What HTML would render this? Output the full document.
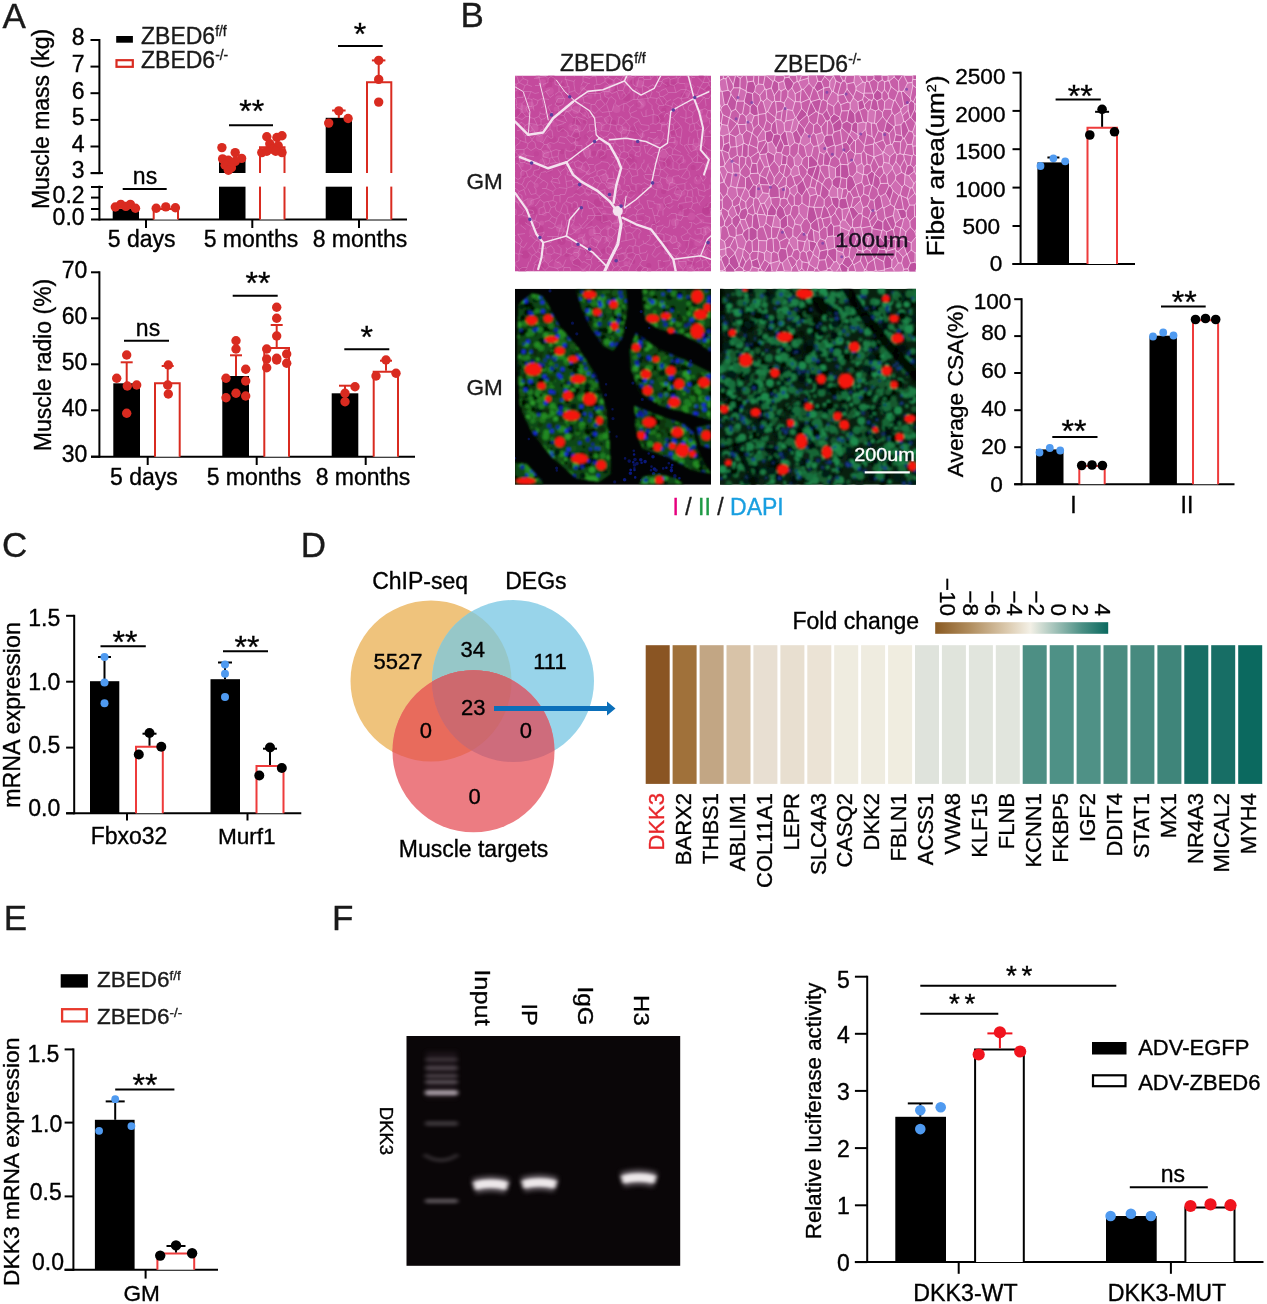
<!DOCTYPE html>
<html><head><meta charset="utf-8"><title>Figure</title>
<style>
html,body{margin:0;padding:0;background:#fff}
svg{display:block}
text{font-family:"Liberation Sans",sans-serif;stroke-width:.35px}
</style></head><body>
<svg width="1267" height="1304" viewBox="0 0 1267 1304">
<rect width="1267" height="1304" fill="#fff"/>
<text x="2.6" y="28.4" font-size="35" fill="#1a1a1a" stroke="#1a1a1a">A</text>
<line x1="99.4" y1="39.0" x2="99.4" y2="174.1" stroke="#000" stroke-width="2"/>
<line x1="90.5" y1="40.0" x2="99.4" y2="40.0" stroke="#000" stroke-width="2"/>
<text x="84.6" y="45.3" font-size="23" text-anchor="end" fill="#000" stroke="#000">8</text>
<line x1="90.5" y1="66.6" x2="99.4" y2="66.6" stroke="#000" stroke-width="2"/>
<text x="84.6" y="71.9" font-size="23" text-anchor="end" fill="#000" stroke="#000">7</text>
<line x1="90.5" y1="93.2" x2="99.4" y2="93.2" stroke="#000" stroke-width="2"/>
<text x="84.6" y="98.5" font-size="23" text-anchor="end" fill="#000" stroke="#000">6</text>
<line x1="90.5" y1="119.9" x2="99.4" y2="119.9" stroke="#000" stroke-width="2"/>
<text x="84.6" y="125.2" font-size="23" text-anchor="end" fill="#000" stroke="#000">5</text>
<line x1="90.5" y1="146.5" x2="99.4" y2="146.5" stroke="#000" stroke-width="2"/>
<text x="84.6" y="151.8" font-size="23" text-anchor="end" fill="#000" stroke="#000">4</text>
<line x1="90.5" y1="173.1" x2="99.4" y2="173.1" stroke="#000" stroke-width="2"/>
<text x="84.6" y="178.4" font-size="23" text-anchor="end" fill="#000" stroke="#000">3</text>
<line x1="99.4" y1="185.7" x2="99.4" y2="220.5" stroke="#000" stroke-width="2"/>
<line x1="91.0" y1="197.6" x2="99.4" y2="197.6" stroke="#000" stroke-width="2"/>
<line x1="91.0" y1="209.0" x2="99.4" y2="209.0" stroke="#000" stroke-width="2"/>
<line x1="91.0" y1="187.0" x2="103.0" y2="187.0" stroke="#000" stroke-width="2"/>
<line x1="91.0" y1="173.1" x2="103.0" y2="173.1" stroke="#000" stroke-width="2"/>
<text x="84.6" y="202.6" font-size="23" text-anchor="end" fill="#000" stroke="#000">0.2</text>
<text x="84.6" y="224.6" font-size="23" text-anchor="end" fill="#000" stroke="#000">0.0</text>
<line x1="91.0" y1="219.6" x2="407.0" y2="219.6" stroke="#000" stroke-width="2"/>
<line x1="146.0" y1="219.6" x2="146.0" y2="228.0" stroke="#000" stroke-width="2"/>
<line x1="252.3" y1="219.6" x2="252.3" y2="228.0" stroke="#000" stroke-width="2"/>
<line x1="359.0" y1="219.6" x2="359.0" y2="228.0" stroke="#000" stroke-width="2"/>
<text transform="translate(49.0,119.0) rotate(-90)" font-size="23" text-anchor="middle" fill="#000" stroke="#000">Muscle mass (kg)</text>
<text x="141.7" y="246.5" font-size="23" text-anchor="middle" fill="#000" stroke="#000">5 days</text>
<text x="251.0" y="246.5" font-size="23" text-anchor="middle" fill="#000" stroke="#000">5 months</text>
<text x="360.0" y="246.5" font-size="23" text-anchor="middle" fill="#000" stroke="#000">8 months</text>
<rect x="116.2" y="36.0" width="16.7" height="6.7" fill="#000"/>
<rect x="116.5" y="60.2" width="16.3" height="6.6" fill="#fff" stroke="#d92b20" stroke-width="2.2"/>
<text x="141.0" y="44.0" font-size="23" fill="#1a1a1a" stroke="#1a1a1a">ZBED6<tspan font-size="13.8" dy="-7.8">f/f</tspan></text>
<text x="141.0" y="67.5" font-size="23" fill="#1a1a1a" stroke="#1a1a1a">ZBED6<tspan font-size="13.8" dy="-7.8">-/-</tspan></text>
<rect x="112.7" y="209.0" width="26.3" height="10.6" fill="#000"/>
<path d="M153.7,219.6 V209.0 H178.0 V219.6" fill="#fff" stroke="#d92b20" stroke-width="2"/>
<rect x="219.0" y="160.0" width="26.5" height="13.0" fill="#000"/>
<rect x="219.0" y="186.7" width="26.5" height="32.9" fill="#000"/>
<path d="M260.0,173.0 V147.3 H284.5 V173.0" fill="#fff" stroke="#d92b20" stroke-width="2"/>
<path d="M260.0,219.6 V181.0 H284.5 V219.6" fill="#fff" stroke="#d92b20" stroke-width="2"/>
<rect x="257.0" y="173.2" width="31.0" height="13.4" fill="#fff"/>
<rect x="325.7" y="117.8" width="26.3" height="55.2" fill="#000"/>
<rect x="325.7" y="186.7" width="26.3" height="32.9" fill="#000"/>
<path d="M367.0,173.0 V82.3 H391.3 V173.0" fill="#fff" stroke="#d92b20" stroke-width="2"/>
<path d="M367.0,219.6 V181.0 H391.3 V219.6" fill="#fff" stroke="#d92b20" stroke-width="2"/>
<rect x="364.0" y="173.2" width="31.0" height="13.4" fill="#fff"/>
<line x1="378.7" y1="81.3" x2="378.7" y2="60.4" stroke="#d92b20" stroke-width="2"/>
<line x1="371.9" y1="60.4" x2="385.4" y2="60.4" stroke="#d92b20" stroke-width="2"/>
<line x1="338.8" y1="118.0" x2="338.8" y2="110.5" stroke="#d92b20" stroke-width="2"/>
<line x1="332.1" y1="110.5" x2="345.6" y2="110.5" stroke="#d92b20" stroke-width="2"/>
<circle cx="115.3" cy="207.0" r="4.7" fill="#d92b20"/>
<circle cx="120.8" cy="204.4" r="4.7" fill="#d92b20"/>
<circle cx="125.9" cy="206.4" r="4.7" fill="#d92b20"/>
<circle cx="130.4" cy="204.4" r="4.7" fill="#d92b20"/>
<circle cx="135.5" cy="208.2" r="4.7" fill="#d92b20"/>
<circle cx="156.2" cy="208.2" r="4.7" fill="#d92b20"/>
<circle cx="165.8" cy="206.9" r="4.7" fill="#d92b20"/>
<circle cx="175.4" cy="207.7" r="4.7" fill="#d92b20"/>
<circle cx="221.9" cy="147.6" r="4.7" fill="#d92b20"/>
<circle cx="235.2" cy="152.6" r="4.7" fill="#d92b20"/>
<circle cx="222.6" cy="158.9" r="4.7" fill="#d92b20"/>
<circle cx="228.4" cy="160.2" r="4.7" fill="#d92b20"/>
<circle cx="241.6" cy="158.4" r="4.7" fill="#d92b20"/>
<circle cx="235.2" cy="161.4" r="4.7" fill="#d92b20"/>
<circle cx="225.1" cy="165.2" r="4.7" fill="#d92b20"/>
<circle cx="231.4" cy="167.8" r="4.7" fill="#d92b20"/>
<circle cx="228.4" cy="170.3" r="4.7" fill="#d92b20"/>
<circle cx="266.8" cy="136.7" r="4.7" fill="#d92b20"/>
<circle cx="276.9" cy="137.5" r="4.7" fill="#d92b20"/>
<circle cx="282.0" cy="135.7" r="4.7" fill="#d92b20"/>
<circle cx="269.8" cy="143.8" r="4.7" fill="#d92b20"/>
<circle cx="278.2" cy="145.8" r="4.7" fill="#d92b20"/>
<circle cx="272.4" cy="149.3" r="4.7" fill="#d92b20"/>
<circle cx="261.8" cy="152.6" r="4.7" fill="#d92b20"/>
<circle cx="266.8" cy="151.3" r="4.7" fill="#d92b20"/>
<circle cx="282.0" cy="152.6" r="4.7" fill="#d92b20"/>
<circle cx="275.7" cy="151.3" r="4.7" fill="#d92b20"/>
<circle cx="338.8" cy="110.9" r="4.7" fill="#d92b20"/>
<circle cx="348.1" cy="118.5" r="4.7" fill="#d92b20"/>
<circle cx="328.7" cy="123.1" r="4.7" fill="#d92b20"/>
<circle cx="378.7" cy="60.4" r="4.7" fill="#d92b20"/>
<circle cx="378.7" cy="79.4" r="4.7" fill="#d92b20"/>
<circle cx="378.7" cy="102.1" r="4.7" fill="#d92b20"/>
<line x1="122.7" y1="189.0" x2="166.7" y2="189.0" stroke="#000" stroke-width="2"/>
<text x="145.0" y="184.0" font-size="23" text-anchor="middle" fill="#000" stroke="#000">ns</text>
<line x1="229.0" y1="125.3" x2="273.0" y2="125.3" stroke="#000" stroke-width="2"/>
<text x="251.7" y="121.8" font-size="32" text-anchor="middle" fill="#000" stroke="#000">**</text>
<line x1="338.0" y1="46.0" x2="382.7" y2="46.0" stroke="#000" stroke-width="2"/>
<text x="360.0" y="45.0" font-size="32" text-anchor="middle" fill="#000" stroke="#000">*</text>
<line x1="99.4" y1="271.3" x2="99.4" y2="457.7" stroke="#000" stroke-width="2"/>
<line x1="91.0" y1="272.3" x2="99.4" y2="272.3" stroke="#000" stroke-width="2"/>
<text x="87.4" y="277.7" font-size="23" text-anchor="end" fill="#000" stroke="#000">70</text>
<line x1="91.0" y1="318.3" x2="99.4" y2="318.3" stroke="#000" stroke-width="2"/>
<text x="87.4" y="323.7" font-size="23" text-anchor="end" fill="#000" stroke="#000">60</text>
<line x1="91.0" y1="364.3" x2="99.4" y2="364.3" stroke="#000" stroke-width="2"/>
<text x="87.4" y="369.7" font-size="23" text-anchor="end" fill="#000" stroke="#000">50</text>
<line x1="91.0" y1="410.3" x2="99.4" y2="410.3" stroke="#000" stroke-width="2"/>
<text x="87.4" y="415.7" font-size="23" text-anchor="end" fill="#000" stroke="#000">40</text>
<line x1="91.0" y1="456.7" x2="99.4" y2="456.7" stroke="#000" stroke-width="2"/>
<text x="87.4" y="462.1" font-size="23" text-anchor="end" fill="#000" stroke="#000">30</text>
<line x1="91.0" y1="456.7" x2="415.0" y2="456.7" stroke="#000" stroke-width="2"/>
<line x1="147.7" y1="456.7" x2="147.7" y2="465.0" stroke="#000" stroke-width="2"/>
<line x1="256.7" y1="456.7" x2="256.7" y2="465.0" stroke="#000" stroke-width="2"/>
<line x1="365.7" y1="456.7" x2="365.7" y2="465.0" stroke="#000" stroke-width="2"/>
<text transform="translate(51.3,365.0) rotate(-90)" font-size="23" text-anchor="middle" fill="#000" stroke="#000">Muscle radio (%)</text>
<text x="144.0" y="485.0" font-size="23" text-anchor="middle" fill="#000" stroke="#000">5 days</text>
<text x="254.0" y="485.0" font-size="23" text-anchor="middle" fill="#000" stroke="#000">5 months</text>
<text x="363.0" y="485.0" font-size="23" text-anchor="middle" fill="#000" stroke="#000">8 months</text>
<rect x="113.3" y="383.3" width="26.7" height="73.4" fill="#000"/>
<path d="M155.0,456.7 V383.3 H179.7 V456.7" fill="#fff" stroke="#d92b20" stroke-width="2"/>
<rect x="222.3" y="376.0" width="26.7" height="80.7" fill="#000"/>
<path d="M264.3,456.7 V348.0 H289.0 V456.7" fill="#fff" stroke="#d92b20" stroke-width="2"/>
<rect x="331.7" y="393.3" width="26.6" height="63.4" fill="#000"/>
<path d="M373.7,456.7 V371.7 H398.0 V456.7" fill="#fff" stroke="#d92b20" stroke-width="2"/>
<line x1="126.7" y1="383.3" x2="126.7" y2="362.3" stroke="#d92b20" stroke-width="2"/>
<line x1="120.7" y1="362.3" x2="132.7" y2="362.3" stroke="#d92b20" stroke-width="2"/>
<line x1="167.7" y1="382.3" x2="167.7" y2="366.0" stroke="#d92b20" stroke-width="2"/>
<line x1="161.7" y1="366.0" x2="173.7" y2="366.0" stroke="#d92b20" stroke-width="2"/>
<line x1="236.0" y1="376.0" x2="236.0" y2="355.3" stroke="#d92b20" stroke-width="2"/>
<line x1="230.0" y1="355.3" x2="242.0" y2="355.3" stroke="#d92b20" stroke-width="2"/>
<line x1="276.7" y1="347.0" x2="276.7" y2="325.0" stroke="#d92b20" stroke-width="2"/>
<line x1="270.7" y1="325.0" x2="282.7" y2="325.0" stroke="#d92b20" stroke-width="2"/>
<line x1="345.0" y1="393.3" x2="345.0" y2="385.7" stroke="#d92b20" stroke-width="2"/>
<line x1="339.0" y1="385.7" x2="351.0" y2="385.7" stroke="#d92b20" stroke-width="2"/>
<line x1="386.0" y1="370.7" x2="386.0" y2="360.7" stroke="#d92b20" stroke-width="2"/>
<line x1="380.0" y1="360.7" x2="392.0" y2="360.7" stroke="#d92b20" stroke-width="2"/>
<circle cx="126.7" cy="355.0" r="4.7" fill="#d92b20"/>
<circle cx="116.7" cy="378.3" r="4.7" fill="#d92b20"/>
<circle cx="127.3" cy="386.0" r="4.7" fill="#d92b20"/>
<circle cx="136.7" cy="385.0" r="4.7" fill="#d92b20"/>
<circle cx="126.7" cy="413.3" r="4.7" fill="#d92b20"/>
<circle cx="168.3" cy="365.0" r="4.7" fill="#d92b20"/>
<circle cx="167.7" cy="385.0" r="4.7" fill="#d92b20"/>
<circle cx="168.3" cy="394.0" r="4.7" fill="#d92b20"/>
<circle cx="236.0" cy="340.7" r="4.7" fill="#d92b20"/>
<circle cx="236.0" cy="349.0" r="4.7" fill="#d92b20"/>
<circle cx="245.7" cy="369.3" r="4.7" fill="#d92b20"/>
<circle cx="226.0" cy="378.3" r="4.7" fill="#d92b20"/>
<circle cx="245.7" cy="381.0" r="4.7" fill="#d92b20"/>
<circle cx="236.0" cy="393.3" r="4.7" fill="#d92b20"/>
<circle cx="226.0" cy="397.7" r="4.7" fill="#d92b20"/>
<circle cx="245.7" cy="396.0" r="4.7" fill="#d92b20"/>
<circle cx="276.7" cy="307.3" r="4.7" fill="#d92b20"/>
<circle cx="276.7" cy="318.3" r="4.7" fill="#d92b20"/>
<circle cx="276.7" cy="336.0" r="4.7" fill="#d92b20"/>
<circle cx="266.7" cy="349.0" r="4.7" fill="#d92b20"/>
<circle cx="286.7" cy="354.0" r="4.7" fill="#d92b20"/>
<circle cx="276.7" cy="358.3" r="4.7" fill="#d92b20"/>
<circle cx="266.7" cy="359.0" r="4.7" fill="#d92b20"/>
<circle cx="266.7" cy="367.7" r="4.7" fill="#d92b20"/>
<circle cx="276.7" cy="360.0" r="4.7" fill="#d92b20"/>
<circle cx="286.7" cy="363.3" r="4.7" fill="#d92b20"/>
<circle cx="355.0" cy="386.7" r="4.7" fill="#d92b20"/>
<circle cx="345.0" cy="393.3" r="4.7" fill="#d92b20"/>
<circle cx="345.0" cy="401.7" r="4.7" fill="#d92b20"/>
<circle cx="386.0" cy="360.0" r="4.7" fill="#d92b20"/>
<circle cx="376.0" cy="376.0" r="4.7" fill="#d92b20"/>
<circle cx="396.0" cy="373.3" r="4.7" fill="#d92b20"/>
<line x1="124.0" y1="340.7" x2="169.0" y2="340.7" stroke="#000" stroke-width="2"/>
<text x="148.0" y="335.7" font-size="23" text-anchor="middle" fill="#000" stroke="#000">ns</text>
<line x1="232.7" y1="295.7" x2="277.7" y2="295.7" stroke="#000" stroke-width="2"/>
<text x="258.0" y="293.7" font-size="32" text-anchor="middle" fill="#000" stroke="#000">**</text>
<line x1="344.3" y1="349.3" x2="389.3" y2="349.3" stroke="#000" stroke-width="2"/>
<text x="366.7" y="348.3" font-size="32" text-anchor="middle" fill="#000" stroke="#000">*</text>

<defs><filter id="blr" x="-5%" y="-5%" width="110%" height="110%"><feGaussianBlur stdDeviation="1"/></filter></defs>
<text x="460.4" y="26.8" font-size="35" fill="#1a1a1a" stroke="#1a1a1a">B</text>
<text x="560.0" y="71.0" font-size="23" fill="#1a1a1a" stroke="#1a1a1a">ZBED6<tspan font-size="13.8" dy="-7.8">f/f</tspan></text>
<text x="774.0" y="71.5" font-size="23" fill="#1a1a1a" stroke="#1a1a1a">ZBED6<tspan font-size="13.8" dy="-7.8">-/-</tspan></text>
<text x="466.5" y="189.3" font-size="22.5" fill="#1a1a1a" stroke="#1a1a1a">GM</text>
<text x="466.5" y="395.0" font-size="22.5" fill="#1a1a1a" stroke="#1a1a1a">GM</text>
<g transform="translate(515,75.5)"><clipPath id="cl1"><rect width="196" height="196"/></clipPath><g clip-path="url(#cl1)"><rect width="196" height="196" fill="#c44a9d"/><path d="M145.3 131.6h0M42.5 189.2h0M189.1 177.3h0M57.2 51.6h0M85.7 50.6h0M158.7 188.3h0M158.1 164.3h0M66.7 162.3h0M113.1 2.6h0" stroke="#cf5eab" stroke-width="8" stroke-linecap="round" fill="none" opacity="0.5"/><path d="M172.3 19.1h0M67.4 13.1h0M115.5 187.1h0M6.3 89.5h0M69.0 38.7h0M148.3 48.7h0M92.7 152.2h0M111.1 8.4h0M73.0 97.2h0M143.8 110.5h0M103.3 110.6h0M160.6 66.9h0" stroke="#d266b0" stroke-width="5" stroke-linecap="round" fill="none" opacity="0.5"/><path d="M194.2 131.6h0M61.5 187.9h0M84.5 141.2h0M49.2 89.4h0M145.4 42.7h0M115.5 82.6h0M10.4 179.0h0M24.6 190.5h0M61.9 61.7h0M44.0 25.6h0M73.4 176.0h0" stroke="#b93a90" stroke-width="8" stroke-linecap="round" fill="none" opacity="0.5"/><path d="M178.1 92.0h0M148.6 115.9h0M124.1 193.7h0M118.6 149.3h0M117.6 6.2h0M60.8 43.6h0M117.7 186.0h0M98.6 46.9h0M46.9 53.7h0M151.9 9.1h0M94.6 6.5h0M108.9 140.3h0M42.9 52.9h0M92.8 46.3h0M165.4 132.0h0" stroke="#b93a90" stroke-width="5" stroke-linecap="round" fill="none" opacity="0.5"/><path d="M114.5 177.2h0M24.4 94.5h0M2.2 81.4h0M119.3 54.7h0M58.9 73.9h0M67.9 81.7h0M174.4 168.9h0M126.8 115.0h0M37.5 64.4h0M186.3 82.0h0M156.6 7.1h0" stroke="#be3f95" stroke-width="8" stroke-linecap="round" fill="none" opacity="0.5"/><path d="M125.3 29.5h0M77.4 157.0h0M82.5 163.4h0M108.0 180.7h0M90.2 101.9h0M44.1 23.7h0M7.0 81.0h0M124.8 8.5h0" stroke="#d266b0" stroke-width="8" stroke-linecap="round" fill="none" opacity="0.5"/><path d="M161.4 52.8h0M195.7 60.7h0M73.8 115.5h0M71.3 61.3h0M64.2 132.9h0M158.8 8.8h0M91.0 24.1h0" stroke="#be3f95" stroke-width="5" stroke-linecap="round" fill="none" opacity="0.5"/><path d="M72.5 118.4h0M195.1 92.2h0M57.6 150.7h0M124.2 65.2h0M93.6 163.2h0M95.6 111.9h0M108.7 19.6h0" stroke="#cf5eab" stroke-width="5" stroke-linecap="round" fill="none" opacity="0.5"/><path d="M51.8 179.1h0M140.3 147.9h0M8.3 98.9h0M53.0 19.5h0M36.2 37.1h0M151.0 129.7h0M70.5 45.7h0M145.0 67.3h0M79.0 77.7h0M47.3 76.3h0M158.3 57.0h0M133.8 190.0h0M5.9 17.7h0" stroke="#b93a90" stroke-width="5" stroke-linecap="round" fill="none" opacity="0.5"/><path d="M72.0 77.7h0M30.6 78.6h0M15.3 126.3h0M24.6 62.5h0M61.2 34.6h0M19.6 53.1h0M159.9 146.7h0M61.9 177.6h0M92.8 13.3h0M148.4 78.7h0M95.8 110.0h0" stroke="#d266b0" stroke-width="8" stroke-linecap="round" fill="none" opacity="0.5"/><path d="M194.6 14.2h0M33.3 8.8h0M88.7 143.9h0M99.7 11.7h0M105.6 182.2h0M87.8 79.9h0M123.3 67.6h0" stroke="#b93a90" stroke-width="8" stroke-linecap="round" fill="none" opacity="0.5"/><path d="M60.2 52.5h0M5.8 65.0h0M130.4 22.1h0M103.4 137.3h0M147.8 188.4h0M126.6 143.1h0M165.1 87.2h0" stroke="#be3f95" stroke-width="5" stroke-linecap="round" fill="none" opacity="0.5"/><path d="M165.3 189.5h0M183.2 166.9h0M17.8 156.6h0M171.5 185.2h0M156.4 106.8h0M61.9 154.2h0M176.3 141.1h0M96.1 11.7h0" stroke="#cf5eab" stroke-width="8" stroke-linecap="round" fill="none" opacity="0.5"/><path d="M89.0 137.2h0M18.8 146.6h0M187.9 167.4h0M152.1 26.9h0M72.7 180.3h0M39.6 49.0h0M7.3 98.1h0M91.6 17.4h0M168.2 117.8h0M168.8 85.7h0M41.0 33.5h0M65.3 22.8h0" stroke="#cf5eab" stroke-width="5" stroke-linecap="round" fill="none" opacity="0.5"/><path d="M26.7 147.4h0M33.8 70.7h0M91.7 163.6h0M91.6 45.0h0M21.2 109.7h0M69.2 166.0h0M102.6 90.3h0M110.9 188.0h0M165.7 138.3h0M127.3 59.7h0M190.1 157.6h0M124.8 27.3h0" stroke="#d266b0" stroke-width="5" stroke-linecap="round" fill="none" opacity="0.5"/><path d="M189.4 73.6h0M116.7 114.6h0M151.7 28.1h0M57.9 132.5h0M108.8 126.9h0M191.5 134.6h0M5.9 37.3h0M170.6 136.2h0M87.8 70.9h0M28.1 90.2h0" stroke="#be3f95" stroke-width="8" stroke-linecap="round" fill="none" opacity="0.5"/><path d="M114.8 2.3h0M68.7 195.2h0M5.5 29.5h0M186.9 145.8h0M3.3 126.0h0M134.0 194.5h0M29.4 138.3h0M171.5 9.6h0M74.9 21.0h0" stroke="#cf5eab" stroke-width="5" stroke-linecap="round" fill="none" opacity="0.5"/><path d="M18.0 135.6h0M46.5 165.4h0M111.5 21.6h0M149.2 170.9h0M163.7 116.5h0M82.9 127.1h0M8.0 146.1h0M36.3 2.6h0M61.1 48.5h0M7.3 195.2h0M151.7 87.0h0M24.5 154.0h0M175.6 188.2h0M62.2 76.9h0M45.0 39.2h0M191.0 135.6h0" stroke="#b93a90" stroke-width="8" stroke-linecap="round" fill="none" opacity="0.5"/><path d="M181.0 71.1h0M45.0 152.8h0M52.8 33.3h0M8.4 33.6h0M154.6 104.9h0M185.8 177.0h0M175.2 192.7h0M15.2 30.0h0M191.9 154.0h0M163.8 118.3h0M141.7 66.5h0M108.2 54.8h0M102.1 147.9h0M101.6 33.5h0M62.0 53.1h0M192.9 90.5h0M126.8 27.9h0" stroke="#d266b0" stroke-width="8" stroke-linecap="round" fill="none" opacity="0.5"/><path d="M88.2 175.8h0M47.2 9.6h0M168.3 19.9h0M123.3 29.2h0M186.2 0.4h0M145.6 164.3h0M148.9 34.5h0" stroke="#b93a90" stroke-width="5" stroke-linecap="round" fill="none" opacity="0.5"/><path d="M185.7 36.1h0M99.5 107.3h0M164.1 169.4h0M22.9 1.5h0M57.2 183.1h0M70.5 167.1h0M162.2 182.5h0M61.0 67.8h0" stroke="#d266b0" stroke-width="5" stroke-linecap="round" fill="none" opacity="0.5"/><path d="M66.6 93.8h0M189.6 43.1h0M34.8 15.5h0M32.4 182.5h0M182.5 105.0h0M28.0 87.0h0M27.4 7.4h0" stroke="#cf5eab" stroke-width="8" stroke-linecap="round" fill="none" opacity="0.5"/><path d="M74.9 147.3h0M21.4 78.2h0M66.9 37.6h0M84.4 16.5h0M84.5 184.2h0M90.8 173.8h0M182.3 101.8h0M62.0 117.2h0M85.3 14.9h0M25.8 49.0h0M34.2 95.4h0" stroke="#be3f95" stroke-width="5" stroke-linecap="round" fill="none" opacity="0.5"/><path d="M0.3 38.2h0M118.2 87.3h0M84.7 67.6h0M192.0 171.7h0M88.7 188.0h0" stroke="#be3f95" stroke-width="8" stroke-linecap="round" fill="none" opacity="0.5"/><path d="M165 198L159 195M159 195L156 198M88 16L85 18M85 9L82 9M79 10L82 9M79 10L81 18M81 18L85 18M83 202L80 198M79 71L80 68M80 68L87 68M87 68L86 74M83 75L86 74M-3 196L0 198M-6 187L-2 186M-3 193L1 190M1 190L0 187M0 187L-2 186M1 190L4 194M4 194L4 195M8 198L4 195M8 198L10 200M152 197L156 198M152 197L149 200M72 198L69 198M69 198L66 202M199 132L195 133M195 133L196 141M196 141L197 142M197 142L200 141M75 74L74 73M74 65L71 68M74 73L71 68M148 63L153 65M148 63L145 68M159 195L159 195M152 197L151 193M151 193L155 189M75 74L75 81M75 81L78 82M83 75L81 81M201 126L195 127M198 119L194 121M85 9L90 6M82 9L81 2M90 6L90 3M86 -3L82 -1M81 2L81 1M86 -3L90 3M82 -1L81 1M108 35L109 28M109 28L103 31M88 16L89 16M89 16L94 16M90 6L95 10M94 16L95 10M195 49L194 43M194 43L198 42M94 63L93 68M94 63L100 65M93 68L99 68M100 65L100 67M100 67L99 68M102 64L100 65M102 64L98 58M98 58L95 57M94 63L92 61M95 57L92 61M91 69L93 68M91 69L88 67M88 67L88 62M92 61L88 62M88 62L85 59M57 179L59 177M58 185L63 182M59 177L63 177M63 182L64 179M63 177L64 179M56 172L57 171M57 171L65 173M65 173L63 177M-1 177L-1 172M-1 172L-4 169M51 164L52 158M52 158L52 158M47 166L45 162M52 158L49 155M45 162L49 155M64 191L65 192M65 192L68 195M68 195L74 189M74 189L69 186M67 187L69 186M57 186L58 185M57 186L58 189M58 189L64 191M63 182L67 187M69 198L68 195M73 198L76 190M76 190L74 189M58 198L56 197M56 197L50 200M55 192L56 197M49 200L48 197M44 196L48 197M55 192L49 192M48 197L49 192M51 184L48 191M48 191L49 192M198 184L197 180M197 157L193 152M200 152L198 148M198 148L197 147M197 158L197 157M190 153L191 159M190 153L193 152M206 146L198 148M197 142L197 147M190 153L188 152M186 158L186 153M186 158L189 160M189 160L191 159M188 152L186 153M196 148L188 147M196 141L191 141M-3 2L2 1M-3 -4L4 -2M19 3L24 2M24 2L26 9M20 10L24 10M26 9L24 10M1 62L4 64M2 55L3 55M9 59L7 54M7 54L3 55M7 47L1 49M7 47L10 50M7 54L9 53M10 50L9 53M10 25L7 28M12 31L11 33M7 34L7 28M11 41L7 36M11 41L7 44M7 36L2 42M7 44L2 42M15 41L11 33M15 41L11 41M7 34L7 34M7 34L7 36M-3 37L2 32M-3 37L-0 42M-0 42L2 42M2 32L7 34M-0 42L-0 42M0 48L-0 42M-3 100L-0 96M-3 100L3 104M-6 107L3 107M-2 64L1 62M5 65L4 64M5 65L5 67M-4 68L-0 71M5 67L-0 71M-2 93L-0 89M-7 87L-0 89M9 59L10 60M5 65L11 67M10 60L11 67M16 75L12 72M16 75L21 72M12 72L13 68M21 72L20 67M20 67L17 65M17 65L13 68M3 104L6 102M6 97L6 102M16 93L11 96M16 93L16 89M16 89L11 88M11 96L8 95M11 96L13 101M6 97L7 95M13 101L9 103M8 95L7 95M41 87L35 88M41 87L37 82M35 83L37 81M35 83L34 88M37 82L37 81M45 88L41 87M29 78L28 81M29 78L26 74M24 74L26 74M36 76L29 78M36 76L37 81M35 83L28 81M36 76L32 69M32 69L29 69M29 69L26 74M25 66L28 67M21 72L24 74M28 67L29 69M18 81L19 81M11 80L18 81M11 80L10 87M10 87L11 88M25 90L30 89M25 90L20 85M30 89L27 82M31 89L34 88M135 57L141 57M139 64L134 62M139 64L143 61M148 63L148 62M145 68L140 68M192 93L192 91M173 79L176 82M168 81L169 86M173 90L178 86M178 86L177 84M176 82L177 84M196 88L197 84M167 80L168 81M173 79L174 78M174 78L169 70M176 76L172 69M169 70L172 69M158 74L159 73M158 74L155 71M159 73L162 69M154 67L160 67M157 79L158 74M157 79L167 80M166 77L159 73M165 68L168 70M153 65L156 62M156 62L160 62M160 62L160 67M90 76L90 79M90 76L92 74M92 74L97 74M97 74L98 75M93 87L86 86M85 82L90 79M86 74L90 76M91 69L92 74M99 68L97 74M104 71L100 67M98 75L98 75M51 151L49 153M49 153L49 155M86 87L80 90M87 94L82 96M80 90L80 93M80 93L81 95M86 86L86 87M79 89L73 89M73 89L75 93M195 127L193 129M193 131L193 129M189 121L189 122M189 121L190 120M68 6L73 8M68 6L68 2M68 2L68 1M68 1L75 3M75 8L73 8M79 10L79 10M77 1L81 1M77 1L75 3M77 1L75 -5M68 -4L68 1M59 1L66 -5M59 1L56 -3M60 4L59 6M59 6L51 4M51 4L50 4M50 4L52 -3M59 6L59 9M68 6L66 10M51 4L53 11M54 11L53 11M54 11L54 17M54 17L60 15M59 9L60 15M53 19L54 17M60 15L60 16M86 24L85 18M86 24L82 25M81 18L80 18M80 18L80 21M95 49L97 43M95 49L92 48M92 48L89 43M89 43L95 40M95 40L97 43M94 23L91 29M94 23L90 21M86 24L90 29M86 24L86 24M89 16L90 21M84 34L80 29M84 34L90 29M80 29L82 25M92 30L94 36M99 29L97 36M97 36L94 36M94 36L94 36M84 34L84 34M84 34L87 37M87 37L94 36M91 29L92 30M103 31L100 28M100 28L99 29M95 40L94 36M177 41L178 48M177 41L171 43M170 46L171 43M170 46L175 49M175 49L178 48M171 43L171 43M152 48L156 42M156 42L153 38M153 38L151 38M149 42L151 38M154 2L148 4M148 -8L148 -2M155 4L155 9M155 4L162 2M155 9L159 10M163 7L159 10M163 7L163 3M163 3L162 2M70 174L65 173M70 174L72 178M70 181L72 178M80 197L80 194M80 197L86 196M80 194L86 189M80 198L80 197M77 189L76 184M78 180L76 184M85 186L83 186M77 189L77 189M71 184L76 184M78 180L78 179M95 49L96 49M96 49L94 56M92 48L87 50M94 56L86 55M87 50L86 55M85 56L86 55M72 57L75 55M78 60L74 63M74 63L72 60M77 56L75 55M72 48L72 48M72 48L68 55M74 49L75 55M74 65L74 63M82 54L85 56M82 54L77 56M74 49L79 49M82 54L79 49M51 164L57 166M52 158L56 159M57 153L61 155M61 155L61 156M56 159L61 156M67 162L63 163M67 162L69 167M69 167L65 172M63 163L62 164M57 171L57 166M65 173L65 172M59 165L62 164M70 174L75 169M80 172L75 169M45 97L46 99M45 97L43 94M46 99L43 103M43 103L38 103M37 101L38 103M25 90L24 94M19 95L24 94M57 179L51 177M48 180L51 177M56 172L52 174M51 177L52 174M52 174L51 172M29 156L29 157M19 154L24 152M19 154L23 158M23 158L29 157M30 196L26 198M14 200L15 195M18 204L20 196M18 195L20 196M8 198L12 193M44 196L42 193M48 191L48 191M42 193L48 191M44 187L48 191M196 159L197 165M197 193L195 191M189 199L190 193M190 193L195 191M198 184L195 190M155 189L156 187M164 189L163 186M165 176L167 178M165 176L161 181M161 181L164 186M165 186L164 186M-3 4L1 9M1 9L-5 11M7 -2L13 -3M24 2L23 -3M15 -1L13 -3M2 1L4 7M1 9L4 7M43 23L49 23M49 23L46 17M40 19L44 16M46 17L44 16M53 11L50 12M53 19L50 15M27 19L30 16M35 22L31 16M35 22L39 19M35 14L31 16M24 2L31 1M25 -4L31 -1M31 1L31 -1M49 23L50 23M53 22L53 22M46 17L50 15M72 45L61 41M73 43L64 36M64 36L63 37M72 48L72 45M61 41L61 41M66 48L61 41M32 60L36 63M32 60L28 67M32 69L35 67M41 74L36 76M39 68L35 67M2 32L1 29M2 29L1 29M1 23L-4 23M1 23L2 29M0 48L-4 50M30 16L31 16M27 23L34 24M15 41L15 42M10 50L14 48M15 42L14 48M27 23L27 23M27 23L29 31M37 29L33 31M36 37L33 31M36 37L38 37M43 23L40 29M48 29L50 23M48 29L43 31M43 31L40 29M40 29L40 29M-0 71L1 74M1 74L8 74M12 72L9 74M11 80L9 78M9 78L9 74M13 68L11 67M9 74L8 74M0 76L1 74M14 60L17 64M17 64L21 59M21 59L19 55M16 56L18 54M19 55L18 54M10 60L14 60M17 65L17 64M9 53L16 56M25 61L21 59M14 48L18 54M22 49L14 48M22 49L22 50M1 88L3 88M5 87L4 81M-2 83L4 80M4 81L4 80M-3 81L-2 83M7 95L3 88M10 87L5 87M9 78L4 81M0 76L4 80M43 103L45 108M50 100L51 105M146 55L142 55M146 55L147 49M141 49L144 47M147 49L144 47M149 58L148 62M149 58L146 55M192 93L189 97M184 94L188 88M192 91L188 88M189 97L188 98M196 102L196 103M189 97L191 102M180 87L178 86M180 87L182 87M177 84L183 79M182 87L183 79M181 72L184 70M181 72L178 69M184 70L184 63M178 69L179 63M183 63L184 63M181 74L181 72M181 74L176 76M173 69L178 69M173 69L174 62M175 61L174 62M189 62L190 65M184 70L188 70M190 65L188 70M154 56L154 56M154 56L152 49M154 56L159 54M159 54L158 49M158 49L152 48M152 49L152 48M156 62L154 56M147 49L152 49M152 48L152 48M145 44L144 47M162 61L160 55M162 61L166 62M166 62L166 62M166 62L167 54M160 55L166 51M166 51L167 54M159 54L160 55M165 68L166 62M176 57L174 55M174 55L175 49M194 43L191 41M186 42L188 47M186 54L182 55M186 52L182 47M182 55L180 54M180 54L179 48M182 47L179 48M190 55L190 55M190 55L186 54M190 55L194 50M189 61L190 55M183 63L182 55M186 42L185 43M185 43L182 47M176 57L180 54M178 48L179 48M178 39L177 41M109 36L108 35M103 41L104 42M106 41L104 42M115 51L111 46M119 49L119 48M114 44L111 45M111 45L111 46M101 25L96 21M105 24L102 16M97 18L102 16M100 28L101 25M94 23L96 21M94 16L97 18M95 10L99 8M99 8L102 9M102 16L103 15M102 9L103 15M121 56L126 62M121 56L122 55M125 53L128 56M128 56L127 62M127 62L126 62M126 64L126 62M126 64L118 64M124 45L119 48M124 45L126 49M119 49L122 55M126 49L134 50M134 50L134 54M134 54L128 56M133 62L134 62M114 36L115 38M106 41L111 45M114 44L116 41M116 41L115 38M173 90L172 93M172 93L172 94M172 94L174 96M184 94L181 95M188 88L187 87M182 87L187 87M166 120L163 125M164 128L171 127M171 127L170 122M147 71L148 74M155 71L150 74M148 74L150 74M104 73L106 77M98 75L105 80M106 77L105 80M58 137L60 140M54 138L56 144M56 144L59 145M60 140L59 145M51 151L52 145M52 145L56 144M56 151L59 146M59 146L59 145M66 94L72 97M72 97L72 98M63 102L66 103M66 103L72 98M81 95L74 99M82 96L82 100M82 100L78 102M78 102L75 102M72 97L75 93M74 99L72 98M106 166L111 165M111 165L111 159M97 162L98 164M97 162L101 157M105 167L101 167M96 172L93 171M93 171L95 167M95 167L98 164M100 170L101 167M193 131L189 132M189 122L184 128M184 128L185 130M191 141L187 138M195 113L195 109M196 107L202 109M196 103L196 107M199 61L194 56M194 56L200 54M189 61L198 61M50 12L45 10M47 5L45 10M44 16L44 10M45 10L44 10M73 8L69 13M69 13L73 16M69 13L68 13M60 16L64 19M68 13L64 19M61 25L65 20M80 18L73 18M73 16L73 18M73 38L70 34M76 35L76 31M74 42L73 38M74 42L79 40M80 38L76 35M73 43L74 42M64 36L65 34M84 34L80 38M80 29L76 29M76 29L76 31M75 28L69 27M69 27L68 22M68 22L73 20M65 31L69 27M65 31L65 34M76 29L75 28M61 27L61 25M61 27L65 31M65 20L68 22M196 -2L203 -3M196 -2L196 -2M166 51L162 46M171 43L165 41M156 42L158 42M158 49L161 46M158 42L161 46M158 42L163 36M95 -2L93 2M93 2L99 5M99 5L101 2M90 3L93 2M99 8L99 5M102 9L107 7M101 2L106 5M106 5L107 7M163 7L165 8M159 10L161 17M161 17L161 17M161 17L166 14M194 23L198 16M201 19L198 16M191 16L197 14M194 23L190 23M201 11L197 14M193 35L190 33M193 35L195 35M196 35L195 35M196 35L198 28M198 28L198 27M190 31L191 30M185 35L187 42M185 35L190 33M191 41L193 35M198 42L195 35M196 24L198 27M190 23L191 30M189 22L184 28M189 22L190 22M78 179L86 181M80 42L87 41M81 47L85 47M87 41L88 42M79 40L80 42M79 49L81 47M87 50L85 47M67 162L69 161M75 168L75 164M61 155L66 152M66 152L68 153M69 161L70 158M93 171L91 172M92 165L95 167M92 165L89 168M80 172L81 172M87 179L86 181M87 179L82 172M82 172L81 172M91 177L91 172M24 152L25 148M15 102L18 99M18 99L23 102M23 102L19 108M16 105L19 108M13 101L15 102M19 95L18 99M23 102L24 102M24 102L26 97M26 97L31 96M38 94L31 97M46 173L43 170M44 169L43 170M46 173L46 179M39 174L39 177M39 177L46 179M18 195L20 189M24 190L20 189M19 154L18 154M23 158L22 165M16 160L21 165M22 165L21 165M46 153L45 153M46 153L47 145M45 153L40 151M40 151L40 149M40 149L42 143M42 142L42 143M45 162L43 161M43 161L45 153M33 152L37 153M37 153L40 151M30 147L30 146M30 146L34 145M34 145L40 149M34 145L37 141M37 141L42 143M4 194L7 192M7 192L12 192M198 178L192 173M200 174L193 170M192 172L193 170M197 165L195 167M189 160L188 164M164 189L168 194M168 196L168 194M176 178L180 179M176 178L173 180M173 180L173 185M178 186L180 179M178 186L173 185M165 186L171 186M163 186L164 186M168 194L171 190M171 190L171 186M170 177L167 178M170 177L173 180M186 158L182 159M188 164L185 166M185 166L185 167M-7 17L2 15M1 23L2 22M1 9L2 14M7 -2L8 3M8 3L13 5M8 3L4 7M51 32L55 30M53 36L51 36M53 36L57 34M57 34L56 31M51 35L51 36M44 34L43 31M63 37L57 34M61 42L58 42M58 42L53 36M61 27L56 31M61 42L60 49M63 51L60 49M44 34L43 39M51 36L49 40M43 39L49 40M49 40L52 46M56 68L51 62M51 62L51 62M22 29L18 31M22 29L23 25M23 25L18 23M17 31L17 24M18 23L17 24M27 23L23 25M29 31L26 32M24 17L20 18M18 31L19 35M12 31L17 31M15 42L15 42M22 49L19 43M15 42L19 43M25 55L29 53M27 59L31 58M31 58L32 56M22 50L26 49M28 50L26 49M28 50L29 53M25 61L27 59M36 37L33 40M67 75L63 77M67 75L67 70M63 77L60 74M67 70L61 70M61 70L60 74M74 73L68 75M195 113L190 115M189 109L190 115M190 116L190 115M189 121L184 120M184 120L183 114M190 116L183 114M192 80L188 84M192 80L191 76M188 84L183 79M183 79L182 76M197 84L192 80M183 79L183 79M181 74L182 75M193 74L188 70M197 68L196 69M196 75L193 74M201 82L196 75M199 67L197 68M104 42L103 49M111 46L107 50M107 50L103 49M96 49L101 50M102 55L101 50M101 50L103 49M126 70L125 71M126 70L126 64M125 71L118 71M118 64L118 71M112 61L115 55M112 61L108 62M107 62L106 57M106 57L108 54M108 54L114 55M114 55L115 55M119 56L115 55M118 64L115 64M115 64L112 61M102 64L107 62M102 55L106 57M107 50L108 54M115 51L114 55M141 49L138 48M135 49L138 48M109 28L109 28M103 15L108 15M107 7L110 10M108 15L110 10M107 24L111 20M108 15L111 20M124 45L124 44M116 41L122 43M124 44L122 43M115 38L122 35M157 127L157 124M157 124L163 125M164 128L163 131M184 128L183 127M183 127L181 121M127 130L125 128M124 126L125 128M124 126L124 123M129 119L131 120M133 62L133 70M129 70L133 70M140 69L136 72M140 69L145 76M140 77L144 77M136 72L136 72M148 74L145 76M157 79L156 80M150 74L154 80M156 80L154 80M93 87L95 90M91 95L87 94M93 94L95 90M96 81L101 83M95 90L97 89M101 83L97 89M73 143L72 143M73 143L66 151M66 151L64 148M66 139L67 142M68 134L66 139M73 140L72 143M66 152L66 151M91 95L91 98M82 100L84 101M91 98L84 101M69 107L67 111M67 111L70 114M75 109L71 113M75 109L72 106M66 103L69 107M75 102L72 106M78 102L80 106M80 106L77 110M101 157L101 155M101 155L102 154M102 154L109 152M111 159L111 158M109 152L111 158M107 172L102 175M33 7L33 3M40 3L40 9M40 3L36 1M36 1L33 3M28 9L33 7M31 1L33 3M44 10L40 9M168 -2L175 3M163 3L166 1M170 8L165 8M176 3L177 2M177 2L176 -2M175 17L181 19M175 17L173 22M173 22L174 23M174 23L180 26M176 8L179 11M179 11L175 16M175 16L171 14M171 11L171 14M171 14L171 14M180 2L177 2M176 3L176 8M185 12L182 19M185 12L182 11M175 17L175 16M182 19L181 19M173 22L166 23M166 23L171 14M166 14L171 14M163 22L166 23M191 16L189 14M197 14L194 9M194 9L189 14M195 6L193 7M195 6L199 4M194 9L193 7M185 12L185 12M182 19L189 22M185 12L189 14M191 -1L191 -1M191 -1L188 7M183 2L188 7M196 -2L191 -1M195 6L191 -1M193 7L188 7M180 2L180 2M185 12L188 7M162 35L163 31M163 31L158 27M157 34L157 31M157 31L158 27M153 38L157 34M163 36L162 35M150 29L152 26M150 29L157 31M156 24L152 26M166 23L167 26M167 26L173 28M158 25L163 22M163 31L167 27M167 27L169 34M171 43L171 35M171 35L169 34M152 26L148 21M148 21L153 18M161 17L153 17M141 -2L136 3M141 -2L142 -2M142 -2L142 -2M136 3L134 -2M134 -2L136 -5M148 4L147 6M147 6L144 6M144 6L141 -2M130 -3L134 -2M97 162L93 160M92 165L91 161M85 165L84 166M85 165L87 161M84 166L77 162M87 161L85 158M85 158L79 158M78 159L79 158M81 172L84 166M91 172L91 172M91 161L87 161M75 164L77 162M-7 160L1 160M5 169L5 169M5 169L-0 166M3 159L7 165M7 165L5 169M45 137L48 129M46 137L50 139M52 131L49 128M52 131L53 138M53 138L50 139M48 129L49 128M51 145L50 139M42 142L46 137M54 138L53 138M37 141L35 138M45 137L41 135M35 138L34 137M34 137L31 137M28 139L31 137M43 161L38 161M37 165L38 161M38 161L37 161M16 160L14 161M21 165L17 170M6 171L9 172M6 171L5 169M12 167L9 172M4 185L4 179M8 179L4 178M4 179L4 178M14 186L12 192M0 187L4 185M-1 177L4 179M6 171L4 178M186 199L183 193M188 192L183 193M192 182L189 177M192 182L191 184M191 184L187 185M187 185L186 184M186 184L183 178M183 178L183 178M192 173L189 177M195 190L191 184M188 192L187 185M181 187L186 184M183 193L183 192M180 179L183 178M176 178L177 174M177 174L182 172M179 195L176 192M179 195L178 198M176 192L174 192M172 198L171 197M178 186L176 192M183 192L179 195M168 196L171 197M170 177L172 173M172 173L173 172M173 172L174 166M185 167L175 162M175 162L174 165M174 166L174 165M20 18L16 16M13 5L12 9M17 11L12 9M4 7L10 10M12 9L10 10M10 10L8 15M8 22L9 16M10 24L13 23M13 23L16 16M9 16L16 16M2 22L8 22M8 15L9 16M10 25L10 24M17 24L13 23M16 16L16 16M43 66L44 62M43 66L39 68M36 63L38 62M44 67L43 66M44 67L50 68M51 62L45 61M44 62L45 61M60 67L61 70M60 67L61 63M61 63L64 62M68 55L64 56M64 56L65 61M63 51L63 54M64 56L63 54M64 62L65 61M60 49L55 51M41 44L50 47M51 47L50 47M25 38L24 41M25 38L30 39M30 43L32 40M30 43L26 44M26 44L24 41M25 36L25 38M19 43L24 41M32 32L30 39M28 50L32 48M26 49L26 44M33 40L32 40M63 85L68 88M71 86L68 88M72 83L71 82M66 93L68 88M66 93L61 92M61 92L59 87M59 87L63 85M68 75L71 82M63 77L63 80M63 80L65 81M66 94L66 93M73 89L71 86M75 81L72 83M59 87L58 86M58 82L57 84M60 74L56 76M60 67L56 68M51 73L51 75M56 76L51 75M53 96L51 92M53 96L58 94M58 94L52 90M51 92L51 90M51 90L52 90M45 97L51 92M52 99L53 96M52 99L59 101M59 101L59 94M59 94L58 94M58 86L52 90M45 88L45 88M45 88L48 88M48 88L51 90M57 84L51 83M104 71L109 70M106 77L109 76M109 76L109 70M118 71L117 72M112 69L117 72M108 62L109 69M113 2L108 1M113 2L115 1M106 -2L108 1M106 5L108 1M111 9L113 2M144 30L143 33M144 30L149 30M143 33L146 37M149 30L149 30M150 36L146 37M144 22L142 23M144 22L149 30M141 27L142 23M141 27L144 30M150 29L149 30M144 22L145 21M148 21L145 21M145 44L143 40M143 40L146 37M111 20L111 20M111 20L115 16M111 9L115 10M115 16L115 10M172 94L166 102M174 96L175 101M175 101L172 104M166 102L172 104M182 101L180 102M191 102L188 106M185 100L188 106M189 109L187 108M183 127L178 128M178 121L177 122M177 122L177 126M178 128L177 126M171 127L171 127M170 122L172 121M172 121L177 122M177 126L171 127M183 114L182 112M180 102L182 106M129 138L121 139M123 135L128 132M123 135L121 139M128 132L129 134M119 132L125 128M119 132L123 135M127 130L128 132M134 133L132 125M132 125L132 125M182 153L186 153M181 149L187 146M187 138L182 139M187 146L181 140M182 139L181 140M181 149L178 147M181 140L181 141M177 147L174 147M178 128L176 133M180 136L176 133M145 123L141 119M141 119L139 122M131 120L134 118M132 125L139 126M139 126L139 126M136 72L132 78M129 70L131 78M116 123L120 119M109 76L113 77M117 73L113 77M105 80L104 82M101 83L104 82M104 82L104 82M97 89L99 90M104 82L104 90M74 133L72 125M74 133L77 133M77 133L80 131M72 125L72 125M72 125L80 130M80 131L80 130M73 140L80 140M80 140L77 133M77 110L79 112M71 113L77 115M77 115L79 112M63 108L58 109M63 102L60 102M60 102L57 105M57 105L58 109M63 102L63 102M66 111L63 108M66 111L67 111M59 101L60 102M51 106L57 105M51 106L51 105M84 101L87 107M80 106L85 108M87 107L85 108M85 108L82 113M104 147L109 148M109 152L110 151M109 148L110 151M104 179L111 177M109 184L112 182M112 182L112 178M91 199L94 195M87 190L92 190M94 195L92 190M99 178L96 180M99 178L101 178M104 186L102 179M96 180L95 184M101 178L102 179M95 186L96 186M96 172L99 178M91 177L96 180M109 185L104 186M109 185L109 184M104 179L102 179M86 184L95 184M111 174L111 177M92 190L95 186M146 185L143 185M143 185L144 193M144 193L147 193M149 192L147 193M155 185L148 186M145 199L147 193M141 172L137 179M141 172L142 172M145 177L140 182M137 179L140 182M149 166L149 159M143 164L141 158M143 164L148 166M141 158L144 158M144 158L149 159M149 166L148 166M162 2L159 -2M155 4L154 2M173 34L174 30M173 34L178 37M174 30L180 27M178 37L182 33M182 33L181 28M178 39L178 37M184 28L181 28M147 7L145 11M147 7L152 10M151 13L146 15M147 6L147 7M153 17L151 13M144 17L145 21M144 17L146 15M144 17L141 16M138 10L145 11M121 -2L123 -5M123 -5L129 -0M71 153L77 151M79 158L79 152M77 151L79 152M68 153L76 145M80 140L80 140M80 140L78 144M78 144L76 145M76 145L76 145M85 158L86 155M79 152L82 150M86 155L82 150M18 154L16 152M25 148L20 145M20 145L19 145M19 145L16 151M-7 111L-1 113M-1 113L-3 118M9 103L9 105M16 105L13 107M15 143L19 145M15 143L14 141M20 145L22 139M14 141L15 139M15 139L19 138M28 139L24 139M40 131L36 132M40 131L42 127M42 127L38 125M38 125L33 126M36 132L33 126M41 135L40 131M34 137L36 132M45 108L45 108M38 103L36 106M45 108L36 106M29 157L29 158M22 165L24 166M24 166L29 158M37 161L32 161M39 174L36 170M37 165L36 167M36 167L30 166M28 167L30 166M36 170L31 173M28 167L31 173M25 166L24 173M31 173L24 173M39 177L37 179M37 179L31 178M31 173L31 178M20 189L19 188M24 190L25 190M29 182L29 185M29 182L24 183M24 183L19 188M25 190L29 185M25 190L30 195M40 185L42 187M38 184L33 188M39 192L34 191M39 192L39 192M34 191L33 188M47 179L40 185M44 187L42 187M29 182L29 180M29 185L33 188M42 193L39 192M30 195L34 191M15 186L17 180M13 176L17 180M24 183L19 179M17 180L19 179M149 166L155 165M150 158L157 161M157 161L155 165M176 152L172 155M176 160L173 157M173 157L172 155M180 155L180 158M177 147L176 152M168 151L172 155M182 159L180 158M60 54L56 61M53 57L53 60M53 60L56 61M61 63L56 61M63 54L60 54M55 51L56 52M50 47L49 48M48 53L53 57M51 62L53 60M44 56L48 53M50 75L50 78M46 75L44 75M44 75L43 81M43 81L44 85M51 83L50 78M45 88L44 85M41 74L44 75M37 82L43 81M109 28L111 28M118 24L111 28M114 36L115 32M115 32L111 28M122 11L121 11M122 11L124 2M121 11L118 9M118 9L118 2M118 2L121 1M115 1L118 2M121 -2L121 1M128 2L124 2M128 2L129 -0M142 23L135 22M137 17L135 22M138 10L138 9M136 3L136 4M137 17L133 12M138 9L133 12M128 2L129 4M136 4L129 4M133 23L133 23M133 23L133 26M135 22L133 23M133 26L137 30M128 41L126 36M119 29L115 32M123 34L123 34M133 23L123 24M123 24L128 30M128 30L128 30M167 116L166 120M167 116L162 111M166 120L159 118M162 111L159 118M157 124L155 120M137 112L140 114M141 119L142 114M142 114L140 114M170 108L172 106M170 108L170 114M175 108L178 113M170 114L173 115M173 115L177 114M162 109L162 109M162 109L170 108M167 116L170 114M182 112L178 113M172 121L173 115M178 121L177 114M157 127L150 129M158 130L155 133M155 133L151 131M151 131L150 129M141 155L141 158M136 159L141 158M136 159L134 153M136 152L134 153M130 140L135 142M135 142L134 146M134 146L130 148M134 133L137 133M137 133L139 140M121 140L122 145M121 140L121 139M122 145L127 145M137 149L136 152M130 152L130 148M172 133L168 134M168 134L168 140M173 141L168 141M168 141L168 140M176 133L174 133M163 131L164 133M166 145L168 141M172 93L164 94M165 102L164 100M169 86L164 89M164 94L164 89M167 80L161 86M164 89L161 86M156 80L159 86M162 109L157 107M164 100L158 101M158 101L157 107M153 81L150 86M150 86L144 85M145 80L144 85M154 80L153 81M159 86L158 87M150 86L151 88M164 95L158 93M158 87L158 93M130 97L126 92M130 97L133 90M133 90L133 89M126 92L127 88M129 87L127 88M121 88L121 94M121 94L122 95M122 95L126 92M129 119L127 116M99 90L101 95M125 81L126 77M124 81L120 80M125 76L121 77M121 77L120 80M129 84L129 87M119 87L121 88M125 71L125 76M117 73L121 77M114 81L117 83M114 81L113 77M114 81L110 84M119 87L115 91M110 84L115 91M104 82L110 84M104 90L107 92M110 84L107 92M121 94L114 93M115 91L114 93M49 128L51 126M57 132L57 128M51 126L57 128M66 111L62 114M58 109L58 111M70 114L70 117M65 120L70 117M65 120L61 118M80 140L87 140M87 140L87 146M82 132L87 139M82 132L80 131M87 140L87 139M68 125L66 124M68 125L66 133M62 127L63 132M66 133L63 132M68 134L66 133M72 125L68 125M59 134L63 132M57 128L59 126M59 126L62 127M70 117L74 120M77 115L76 118M76 118L74 120M82 132L88 133M87 139L88 138M122 145L122 146M126 155L123 153M103 190L105 192M103 190L99 192M105 193L102 198M101 198L102 198M101 198L97 195M97 195L99 192M111 190L105 192M103 187L103 190M96 186L99 192M109 199L110 197M110 197L105 193M112 182L118 185M112 178L118 177M118 177L121 179M118 185L121 179M122 201L122 198M111 190L115 191M113 196L115 191M118 185L118 185M118 185L115 191M115 191L115 191M112 165L119 163M114 170L118 171M119 163L121 164M121 164L120 170M120 170L118 171M111 165L112 165M111 174L114 170M118 177L118 171M124 179L121 179M124 179L125 178M120 170L124 171M124 171L125 178M141 172L139 169M131 177L132 175M136 170L139 169M142 172L146 170M143 164L139 168M139 169L139 168M135 160L135 164M135 160L132 160M135 164L130 168M128 165L129 168M130 168L129 168M129 168L129 168M141 158L141 158M126 155L126 156M124 163L124 159M124 159L126 156M136 170L130 168M124 171L129 168M125 178L131 177M132 197L133 193M132 197L139 199M139 199L141 197M141 197L141 195M131 199L132 197M144 193L141 195M144 199L141 197M133 193L131 192M124 179L127 185M125 188L127 185M133 178L131 185M127 185L131 185M131 185L131 185M146 170L150 173M150 173L152 171M150 173L150 178M155 185L154 179M150 178L154 179M161 181L156 178M156 178L154 179M10 158L3 159M11 154L6 150M3 159L3 158M3 159L3 159M16 151L10 147M14 141L8 140M6 150L6 149M-2 152L3 147M3 147L3 147M16 128L12 132M16 128L16 125M13 123L8 126M12 132L8 126M18 135L12 134M12 132L12 134M19 138L18 135M12 134L11 134M11 112L10 113M11 112L13 107M9 105L7 109M10 113L7 109M3 107L3 108M-1 113L1 113M3 108L7 109M7 120L3 118M11 120L9 114M9 114L4 116M3 118L4 116M7 126L8 126M7 126L7 120M10 113L9 114M1 113L4 116M-3 118L1 121M1 121L3 118M21 130L25 124M24 133L29 131M25 124L29 127M29 127L29 131M24 139L24 133M20 130L21 130M16 125L25 122M31 137L29 131M32 126L29 127M25 122L24 121M33 120L30 117M24 121L30 117M32 126L33 126M38 116L38 119M38 116L41 113M39 120L45 120M45 119L45 120M38 125L39 120M45 127L45 120M44 112L43 113M36 106L36 106M36 106L41 113M17 170L17 170M17 170L21 177M21 177L23 176M23 174L23 176M13 174L17 170M24 173L23 174M19 179L21 177M29 180L23 176M174 165L168 165M173 157L166 161M168 165L166 161M166 152L168 151M157 168L162 166M158 173L163 173M163 173L165 169M162 166L165 168M158 160L161 161M155 165L157 168M161 161L162 166M165 176L163 173M42 55L42 50M35 54L35 48M35 54L37 55M35 48L39 46M44 56L42 55M49 48L42 50M38 62L37 55M32 56L35 54M32 48L35 48M39 45L39 46M119 24L120 24M119 24L119 17M120 24L122 24M122 24L125 18M125 18L121 13M119 17L121 13M118 24L119 24M123 24L122 24M133 12L128 10M128 18L131 19M128 18L127 10M127 10L128 10M129 4L128 10M133 12L133 12M133 23L131 19M131 41L138 39M131 41L131 35M131 35L132 34M139 39L138 34M139 39L138 39M138 34L137 34M138 48L138 39M128 41L131 41M137 30L137 34M143 40L139 39M162 110L153 115M155 120L154 120M150 129L149 127M149 127L149 123M154 120L149 123M145 123L148 122M145 129L145 133M145 129L139 128M148 135L151 131M139 126L139 128M137 133L138 132M142 140L144 134M142 140L139 140M139 140L139 140M142 140L145 141M148 135L148 140M166 145L162 144M168 140L161 139M162 144L161 139M156 138L161 138M161 138L161 139M139 140L141 148M145 145L141 148M141 155L142 151M137 149L140 149M142 151L140 149M123 100L123 100M123 100L122 95M130 99L129 100M127 116L128 113M123 108L127 109M123 108L121 109M121 109L121 115M137 112L136 112M128 113L136 112M143 107L145 106M143 107L137 106M146 102L145 106M146 102L144 100M137 106L139 100M144 100L139 100M133 90L138 98M130 99L138 99M138 98L138 99M132 78L136 80M133 89L134 88M140 77L137 80M137 80L136 80M137 80L143 86M148 94L151 91M148 94L153 99M151 91L156 94M146 102L151 103M151 103L153 99M146 94L144 100M146 94L148 94M151 88L151 91M158 93L156 94M123 100L117 101M117 108L121 109M117 108L116 103M116 103L117 101M116 123L112 121M108 126L115 129M108 126L110 122M110 122L112 121M53 122L58 121M50 119L52 113M58 121L58 120M52 113L52 112M51 126L53 122M45 119L50 119M44 112L52 113M61 118L58 120M58 111L53 112M51 106L52 112M88 147L95 145M93 153L96 152M96 152L97 148M97 148L95 145M86 155L90 152M87 146L88 147M93 160L93 153M88 138L96 139M101 155L96 152M103 147L97 148M103 147L102 141M102 141L97 138M96 139L97 138M85 125L88 126M89 131L88 126M98 134L98 134M98 134L102 130M98 134L96 132M102 130L97 124M105 128L108 131M105 128L105 128M105 128L102 130M108 131L106 135M106 135L98 134M97 138L98 134M89 131L96 132M90 126L95 127M122 153L116 152M122 153L117 158M115 157L117 158M115 150L116 147M115 150L116 152M116 147L122 146M123 153L122 153M111 158L115 157M110 151L115 150M119 163L117 158M125 189L129 192M125 189L121 194M129 192L125 197M121 194L122 197M125 197L122 197M131 192L129 192M125 188L125 189M131 199L125 197M8 140L7 139M7 139L3 140M11 134L9 135M7 139L9 135M31 113L31 113M31 113L33 108M31 113L27 113M33 108L29 105M25 108L28 105M28 105L29 105M38 116L31 113M19 108L20 109M24 102L28 105M16 119L21 118M16 119L13 113M21 118L21 114M19 111L21 114M24 121L21 118M147 110L147 113M147 113L153 115M153 115L155 107M145 106L147 110M151 103L153 106M157 107L155 107M156 138L153 141M152 141L153 141M144 158L149 151M152 152L149 151M142 151L148 150M148 150L148 149M130 103L137 106M129 107L136 111M129 100L130 103M137 106L137 106M139 100L138 99M127 109L129 107M136 112L136 111M146 94L140 93M146 94L143 86M143 86L138 89M146 94L146 94M138 98L140 93M143 86L143 86M105 100L104 96M105 100L109 102M109 102L114 95M104 96L107 93M107 93L113 94M113 94L114 95M110 104L109 102M117 101L114 95M101 95L104 96M114 93L113 94M110 115L113 117M114 110L116 115M114 110L111 110M116 115L113 117M120 116L116 115M109 109L110 104M112 121L113 117M90 126L94 121M97 124L98 121M94 121L98 121M115 129L115 132M108 131L112 133M112 133L115 132M116 132L115 132M121 140L118 139M104 141L110 144M106 138L110 138M102 141L104 141M106 135L106 138M109 148L110 144M112 133L110 138M118 139L113 142M116 147L112 143M9 135L4 130M4 130L3 127M1 121L0 126M3 127L0 126M-4 126L-2 126M0 126L-2 126M160 145L161 152M155 144L154 151M161 152L158 153M162 144L160 145M152 152L154 151M91 98L93 103M98 96L99 103M93 103L99 103M105 100L101 104M105 110L102 108M102 108L101 104M99 103L101 104M101 118L105 113M100 120L100 120M100 120L107 119M107 119L108 116M108 116L105 113M105 128L100 120M98 121L99 120M99 120L100 120M110 115L108 116M105 110L105 113M90 114L90 119M90 114L84 116M90 119L85 123M84 116L83 119M83 119L85 123M85 125L85 123M94 121L90 119M82 113L84 116M76 118L83 119M1 139L1 134M1 139L-2 139M1 134L-3 132M-2 139L-4 137M-5 145L-2 139M98 111L100 109M98 111L93 113M100 109L91 107M92 112L93 113M92 112L90 108M102 108L100 109M101 118L98 111M93 103L91 107M87 107L90 108" stroke="#e3a2d0" stroke-width="0.7" fill="none" opacity="0.5"/><polyline points="0.0,46.1 13.3,59.3 28.2,56.9 38.1,42.8 58.0,26.2" fill="none" stroke="#f4e2ef" stroke-width="2.5" stroke-linejoin="round" stroke-linecap="round"/><polyline points="58.0,26.2 72.9,15.9 87.9,14.3 109.4,5.5 111.9,0.0" fill="none" stroke="#f4e2ef" stroke-width="1.6" stroke-linejoin="round" stroke-linecap="round"/><polyline points="109.4,5.5 117.7,14.6 126.0,19.6 139.2,12.9 145.9,0.0" fill="none" stroke="#f4e2ef" stroke-width="1.3" stroke-linejoin="round" stroke-linecap="round"/><polyline points="59.7,25.4 74.6,35.3 79.6,42.8 81.2,59.3 84.5,62.7" fill="none" stroke="#f4e2ef" stroke-width="1.3" stroke-linejoin="round" stroke-linecap="round"/><polyline points="84.5,62.7 94.5,69.3 102.8,84.2 106.1,92.5 101.1,110.7 98.6,127.3" fill="none" stroke="#f4e2ef" stroke-width="2.5" stroke-linejoin="round" stroke-linecap="round"/><polyline points="84.5,62.7 68.0,74.3 51.4,86.7" fill="none" stroke="#f4e2ef" stroke-width="1.4" stroke-linejoin="round" stroke-linecap="round"/><polyline points="51.4,86.7 33.2,92.8 16.6,86.2 5.0,81.7" fill="none" stroke="#f4e2ef" stroke-width="2.5" stroke-linejoin="round" stroke-linecap="round"/><polyline points="51.4,86.7 58.0,99.1 66.3,106.1 82.9,115.7 94.5,125.6 101.9,135.6" fill="none" stroke="#f4e2ef" stroke-width="2.5" stroke-linejoin="round" stroke-linecap="round"/><polyline points="104.4,140.6 106.1,148.8 102.8,168.7 94.5,185.3 89.5,196.1" fill="none" stroke="#f4e2ef" stroke-width="3.1" stroke-linejoin="round" stroke-linecap="round"/><polyline points="107.7,142.2 121.0,148.8 135.9,153.8 147.5,168.7 158.3,183.7 160.8,196.1" fill="none" stroke="#f4e2ef" stroke-width="2.4" stroke-linejoin="round" stroke-linecap="round"/><polyline points="158.3,183.7 185.6,180.3 195.9,183.7" fill="none" stroke="#f4e2ef" stroke-width="1.6" stroke-linejoin="round" stroke-linecap="round"/><polyline points="135.9,110.7 121.0,124.0 109.4,132.3" fill="none" stroke="#f4e2ef" stroke-width="1.5" stroke-linejoin="round" stroke-linecap="round"/><polyline points="135.9,110.7 140.9,87.5 145.0,72.6" fill="none" stroke="#f4e2ef" stroke-width="1.3" stroke-linejoin="round" stroke-linecap="round"/><polyline points="94.5,64.3 111.1,62.7 130.9,66.0 145.0,72.6 152.5,67.6 155.8,36.1 160.8,32.8" fill="none" stroke="#f4e2ef" stroke-width="1.4" stroke-linejoin="round" stroke-linecap="round"/><polyline points="179.0,22.9 184.0,36.1 188.1,52.7 185.6,74.3 193.9,84.2 189.0,99.1" fill="none" stroke="#f4e2ef" stroke-width="2.0" stroke-linejoin="round" stroke-linecap="round"/><polyline points="173.2,0.0 179.0,22.9 193.9,16.2" fill="none" stroke="#f4e2ef" stroke-width="1.5" stroke-linejoin="round" stroke-linecap="round"/><polyline points="0.0,117.4 11.6,133.9 21.5,158.8 28.2,167.1 26.5,182.0 23.2,193.6" fill="none" stroke="#f4e2ef" stroke-width="2.2" stroke-linejoin="round" stroke-linecap="round"/><polyline points="28.2,167.1 51.4,160.5 54.7,143.9 64.6,132.3" fill="none" stroke="#f4e2ef" stroke-width="1.5" stroke-linejoin="round" stroke-linecap="round"/><polyline points="51.4,160.5 64.6,168.7 77.9,177.0 91.2,190.3" fill="none" stroke="#f4e2ef" stroke-width="1.8" stroke-linejoin="round" stroke-linecap="round"/><polyline points="24.9,8.0 29.8,27.8 33.2,44.4" fill="none" stroke="#f4e2ef" stroke-width="1.0" stroke-linejoin="round" stroke-linecap="round"/><polyline points="0.0,11.3 8.3,16.2 14.9,36.1 13.3,59.3" fill="none" stroke="#f4e2ef" stroke-width="0.9" stroke-linejoin="round" stroke-linecap="round"/><polyline points="41.4,4.6 49.7,16.2 59.7,25.4" fill="none" stroke="#f4e2ef" stroke-width="1.0" stroke-linejoin="round" stroke-linecap="round"/><polyline points="185.6,180.3 192.3,163.8 195.9,160.5" fill="none" stroke="#f4e2ef" stroke-width="1.2" stroke-linejoin="round" stroke-linecap="round"/><polyline points="160.8,32.8 179.0,22.9" fill="none" stroke="#f4e2ef" stroke-width="1.2" stroke-linejoin="round" stroke-linecap="round"/><polyline points="111.1,120.7 109.4,132.3" fill="none" stroke="#f4e2ef" stroke-width="1.0" stroke-linejoin="round" stroke-linecap="round"/><circle cx="102.8" cy="135.6" r="5" fill="#f4e2ef"/><path d="M54.7 21.2h0M179.8 22.0h0M158.3 34.5h0M79.6 66.0h0M122.7 66.0h0M64.6 109.1h0M137.6 107.4h0M106.1 130.6h0M66.3 132.3h0M14.9 143.9h0M24.9 162.1h0M63.0 168.7h0M74.6 173.7h0M101.1 185.3h0M193.1 167.1h0M36.5 39.4h0M94.5 119.0h0M16.6 87.5h0" stroke="#5a3fa0" stroke-width="3.6" stroke-linecap="round" fill="none"/></g></g>
<g transform="translate(720,75.5)"><clipPath id="cl2"><rect width="196" height="196"/></clipPath><g clip-path="url(#cl2)"><rect width="196" height="196" fill="#c75ea8"/><path d="M85 -7L90 -15L92 -15L95 -4L88 0ZM103 -9L96 -3L98 6L101 6L105 1L105 -6ZM118 -4L123 5L121 8L116 6L114 0L114 -3L116 -6ZM161 -6L159 -7L154 -1L154 3L158 7L162 4ZM193 -1L196 -5L200 -2L199 4L193 4ZM59 14L54 20L51 12L53 6L54 5L58 7ZM4 29L7 29L11 19L11 16L8 15L2 16ZM188 29L191 25L190 23L183 16L181 16L184 30ZM11 36L7 29L11 19L17 26L16 34ZM87 39L88 41L96 36L91 26L91 26L87 38ZM101 25L99 37L96 36L91 26L100 24ZM159 34L157 25L154 23L152 25L150 33L156 36ZM188 35L188 29L191 25L193 26L195 28L195 34L191 42L190 42ZM110 44L111 42L107 34L102 39L106 45L107 46ZM135 46L138 48L143 47L140 35L139 34L135 38ZM191 42L195 34L198 42L195 47ZM56 44L57 58L54 59L51 55L52 49ZM79 47L85 54L85 56L81 62L77 54ZM122 48L127 46L132 49L131 55L129 59L129 59L122 52ZM181 49L184 46L185 46L189 55L184 63L183 63L182 60ZM77 54L81 62L80 68L79 69L75 67L72 58ZM176 59L174 66L181 66L183 63L182 60ZM24 68L28 70L28 80L26 82L22 81L23 69ZM39 78L47 66L48 67L48 76L46 79L40 79ZM56 73L56 77L61 78L64 70L61 63ZM122 68L123 76L126 78L130 74L130 70L126 67L122 68ZM48 76L55 80L54 85L49 91L49 91L46 79ZM109 90L111 83L107 76L104 79L103 89L109 90ZM37 88L38 98L30 98L30 94L32 88ZM194 96L194 92L190 89L187 91L185 99L185 99L189 100ZM34 109L29 116L25 112L26 103L29 100ZM40 100L46 103L49 109L40 109L39 107ZM153 110L157 114L160 108L160 103L155 99ZM49 118L50 111L54 108L57 110L59 113L59 122L51 122L49 120ZM100 120L102 109L102 108L109 116L109 119L104 124ZM163 131L156 136L155 135L154 125L159 119L161 121ZM14 131L17 139L19 140L21 134L19 129ZM27 134L26 132L21 134L19 140L21 144L25 144L28 138ZM110 141L107 133L104 130L103 132L101 142L102 143ZM155 135L151 136L149 143L150 146L156 138L156 136ZM21 144L20 146L16 153L12 148L12 143L17 139L19 140ZM35 138L37 138L37 139L40 152L37 155L32 152L33 140ZM99 157L99 156L98 143L97 143L91 149L91 152L93 154ZM166 143L172 154L166 156L163 154L163 146L165 143ZM166 143L172 154L173 154L175 150L175 148L173 140ZM24 156L22 159L26 166L29 164L29 153L28 152ZM94 166L89 165L87 163L87 160L91 152L93 154ZM171 165L175 164L173 154L172 154L166 156L167 163ZM166 176L171 165L167 163L165 167L165 174L166 176ZM67 183L62 188L60 187L59 185L58 178L60 173L66 174L68 182ZM107 174L100 176L99 183L99 185L105 184L108 179L108 174ZM115 172L116 174L117 175L117 186L114 187L108 179L108 174ZM156 182L159 174L165 174L166 176L166 177L164 186ZM199 190L198 190L195 187L195 177L199 174L203 176L204 182ZM5 193L1 183L1 182L6 179L9 183L9 188ZM26 186L23 180L19 189L19 191L23 193ZM125 182L122 188L128 193L133 188L132 186L129 181ZM157 204L157 196L164 195L165 203L164 205ZM175 198L174 206L176 208L183 206L183 196Z" fill="#c055a2"/><path d="M56 -4L52 -9L46 -7L45 -1L45 -1L53 6L54 5ZM135 -1L134 7L136 11L143 6L137 -4ZM168 -5L174 -7L174 -6L174 2L169 6L168 5ZM59 14L58 7L64 5L66 13L61 16ZM114 0L110 6L110 12L112 16L113 16L116 6ZM144 19L144 18L145 7L143 6L136 11L136 15ZM190 23L193 10L192 7L188 7L183 16ZM1 32L-4 21L1 15L2 16L4 29ZM52 27L47 23L43 26L46 37L48 36ZM133 22L130 28L130 33L135 38L139 34L138 26ZM34 40L32 47L27 45L26 41L30 37ZM156 36L155 48L151 48L148 46L148 36L150 33ZM175 50L175 40L181 36L182 40L184 46L181 49ZM3 60L9 58L9 58L8 50L1 49L-1 58L-0 59ZM73 44L71 56L72 58L77 54L79 47L79 47L76 42L75 42ZM138 61L138 59L138 48L143 47L146 47L146 54ZM193 56L195 48L202 53L202 58L199 61L194 60ZM22 60L24 68L23 69L17 71L16 71L16 61L20 58ZM71 56L66 56L69 70L70 71L75 67L72 58ZM85 56L81 62L80 68L85 71L90 67L90 61ZM104 66L99 70L98 70L96 59L102 57L105 61ZM194 60L199 61L200 70L200 70L193 71L192 69ZM52 66L48 67L48 76L55 80L56 77L56 73ZM172 69L175 77L170 81L164 76L166 70L171 69ZM78 91L75 90L74 83L78 78L82 83L81 88ZM73 101L71 99L71 94L75 90L78 91L80 99ZM109 102L109 90L109 90L115 93L116 102L112 105ZM143 99L144 91L142 88L137 91L137 96L143 99ZM164 97L167 100L172 93L172 91L169 88L164 87L162 91ZM198 102L194 96L194 92L198 87L200 89L200 100ZM143 99L137 96L133 101L136 109L142 107ZM190 112L184 109L185 99L189 100L194 108L192 112ZM118 122L111 122L109 119L109 116L112 110L117 113ZM119 124L118 122L117 113L120 112L123 114L121 123ZM195 118L197 121L201 113L197 105L194 108L192 112ZM41 128L40 128L38 123L43 117L49 118L49 120L44 128ZM48 135L51 128L51 122L49 120L44 128ZM139 138L134 132L140 125L143 132L142 138ZM175 133L178 134L181 143L175 148L173 140ZM60 152L60 152L52 151L54 140L56 139L60 145ZM120 152L129 155L131 152L125 145L123 144L121 147L120 150ZM141 163L143 160L141 153L141 151L134 153L137 164ZM-3 175L6 173L6 172L5 166L0 163L-2 165L-5 173L-5 174ZM69 164L69 167L74 175L78 174L78 165L77 163L73 160ZM90 174L89 165L87 163L85 166L83 175L86 177ZM114 160L108 161L105 165L107 174L108 174L115 172L114 161ZM147 173L148 162L152 159L156 166L156 167L150 175ZM196 161L191 167L191 175L195 177L199 174L197 161ZM1 182L-3 175L-5 174L-8 182L-2 188L1 183ZM1 182L6 179L6 173L-3 175ZM45 184L44 178L46 175L51 178L51 188L51 188L49 188ZM117 175L117 186L120 190L122 188L125 182L123 177ZM5 194L1 196L-2 194L-2 188L1 183L5 193ZM51 188L59 185L60 187L55 198L52 195L51 188ZM67 183L62 188L64 196L71 196L72 193ZM110 193L114 187L117 186L120 190L120 191L115 198ZM175 198L183 196L184 194L182 188L178 187L173 194ZM157 204L157 196L156 195L150 198L151 208L156 207Z" fill="#d274b6"/><path d="M63 -8L62 -6L65 2L69 2L70 -3ZM81 15L75 18L72 13L74 8L77 6L79 6L81 14ZM164 14L165 6L162 4L158 7L157 14L162 18ZM181 16L179 16L178 6L183 -1L183 -1L188 7L183 16ZM193 4L192 7L193 10L199 14L202 13L202 9L199 4ZM41 25L40 20L45 13L46 14L47 23L43 26ZM55 25L54 20L51 12L46 14L47 23L52 27ZM103 24L104 13L97 16L100 24L101 25ZM144 19L136 15L133 22L133 22L138 26L143 24L144 20ZM184 30L181 16L179 16L178 16L175 24L181 34ZM75 42L76 42L82 33L81 27L80 26L75 26L75 27L73 35ZM57 37L62 35L61 45L56 44L56 42ZM159 34L162 37L163 41L156 48L155 48L156 36ZM22 60L26 55L26 49L18 49L20 58ZM32 58L32 58L26 55L26 49L27 45L32 47L33 53ZM147 59L152 61L151 48L148 46L146 47L146 54ZM175 50L181 49L182 60L176 59L174 52ZM122 52L129 59L126 67L122 68L120 55ZM174 52L174 52L169 58L171 69L172 69L174 66L176 59ZM99 77L99 70L98 70L93 71L91 80L97 86ZM115 71L115 80L119 84L123 76L122 68ZM141 78L136 78L135 65L138 63L144 70L145 70L144 75ZM184 63L187 69L184 79L184 79L180 78L181 66L183 63ZM187 69L184 79L192 80L194 79L193 71L192 69ZM9 78L10 82L5 89L1 75L2 75ZM162 91L164 87L163 78L154 82L159 92ZM184 79L184 84L187 91L190 89L192 80L184 79ZM198 87L194 92L190 89L192 80L194 79L197 81ZM13 97L20 98L20 96L19 90L12 86ZM49 91L44 91L40 99L40 100L46 103L50 93L49 91ZM105 103L100 95L100 91L103 89L109 90L109 102ZM-4 109L-6 101L-6 100L-1 94L4 106L4 106ZM40 99L40 100L39 107L36 110L34 109L29 100L30 98L38 98ZM59 96L54 102L54 108L57 110L64 100L63 100ZM66 102L64 100L57 110L59 113L66 110L66 110ZM168 108L169 110L171 110L175 104L176 100L172 93L167 100ZM3 122L-4 110L-5 112L-7 123L-6 124L2 124ZM21 123L25 112L17 112L16 112L18 120ZM188 124L195 118L192 112L190 112L187 123ZM19 129L21 134L26 132L26 127L21 123ZM33 128L34 123L30 121L26 127L26 132L27 134ZM35 138L37 138L40 128L38 123L36 122L34 123L33 128ZM103 132L94 132L94 132L98 120L100 120L104 124L104 130ZM70 139L72 131L69 128L64 133L66 140L67 140ZM164 132L165 143L163 146L158 144L156 138L156 136L163 131ZM74 145L70 139L67 140L68 150L73 153L75 148ZM75 148L73 153L73 160L77 163L82 156L81 150ZM202 148L199 149L195 156L196 161L197 161L202 161L203 151ZM15 177L10 172L14 162L15 162L18 172ZM166 176L175 173L176 165L175 164L171 165ZM30 182L30 179L24 174L23 174L23 180L26 186ZM135 170L132 170L130 172L129 181L132 186L138 175ZM157 196L156 195L154 184L154 184L156 182L164 186L165 194L164 195ZM72 200L71 196L64 196L62 203L69 204ZM76 189L79 196L78 201L74 202L72 200L71 196L72 193ZM100 196L97 192L95 193L91 205L96 209L100 202Z" fill="#c963ab"/><path d="M78 -9L76 -7L77 6L79 6L80 5L84 -7L80 -10ZM88 0L95 -4L96 -3L98 6L94 12L93 12L89 8L88 3ZM2 16L8 15L6 3L3 3L-1 5L1 15ZM36 11L35 16L40 20L45 13L43 9L38 9ZM81 14L83 14L89 8L88 3L80 5L79 6ZM26 15L20 13L17 26L24 26L26 16ZM72 13L68 16L68 21L75 27L75 26L75 18ZM118 19L113 16L112 16L107 26L108 28L114 31L118 25L118 20ZM65 30L67 34L73 35L75 27L68 21L64 28ZM169 23L174 25L171 34L164 34L165 26ZM182 40L188 35L188 29L184 30L181 34L181 36ZM195 28L199 29L202 41L198 42L195 34ZM73 44L66 45L67 34L73 35L75 42ZM56 44L61 45L64 48L65 55L61 60L57 58L56 44ZM65 55L66 56L71 56L73 44L66 45L64 48ZM45 57L46 64L38 67L37 62L43 54L44 54ZM138 61L138 59L131 55L129 59L134 65L135 65L138 63ZM93 71L91 80L89 82L87 80L85 71L90 67ZM104 79L99 77L99 70L104 66L107 72L107 76ZM154 82L154 82L163 78L163 77L156 68L154 67L154 69ZM40 79L46 79L49 91L44 91L40 82ZM62 79L61 78L56 77L55 80L54 85L59 92L61 89ZM142 88L137 91L133 85L135 79L136 78L141 78ZM163 78L163 77L164 76L170 81L169 88L164 87ZM7 96L4 106L-1 94L0 91L4 91ZM5 89L4 91L7 96L12 98L13 97L12 86L11 84L10 82ZM182 97L180 92L176 86L172 91L172 93L176 100ZM13 97L20 98L20 99L17 112L16 112L11 111L12 98ZM198 102L194 96L189 100L194 108L197 105ZM12 126L18 120L16 112L11 111L8 113L7 119ZM21 123L26 127L30 121L29 116L25 112L25 112L21 123ZM43 117L40 109L39 107L36 110L36 122L38 123ZM70 117L70 113L75 109L77 110L77 116L74 121ZM87 114L90 112L95 113L97 119L90 120ZM182 112L175 104L171 110L173 115L179 120L180 119ZM164 132L170 129L170 126L166 118L161 121L163 131ZM188 124L190 130L194 130L197 127L197 123L197 121L195 118ZM-2 147L-8 140L-7 136L-7 136L1 135L1 137ZM13 130L14 131L17 139L12 143L9 139L8 136ZM84 144L87 143L88 132L82 128L79 131L79 138ZM129 132L129 133L129 134L125 145L123 144L122 134ZM21 144L20 146L24 156L28 152L25 144ZM47 141L46 148L43 151L40 152L37 139L45 139ZM74 145L79 138L84 144L81 150L75 148ZM186 156L181 152L184 143L187 141L190 146L190 151ZM97 168L100 163L99 157L93 154L94 166ZM120 160L123 164L129 158L129 155L120 152ZM165 167L160 162L162 155L163 154L166 156L167 163ZM185 164L184 165L179 164L181 152L181 152L186 156ZM24 174L26 166L22 159L16 160L15 162L18 172L23 174ZM44 178L38 176L39 165L47 165L46 175ZM143 176L143 176L141 163L143 160L148 162L147 173ZM19 189L23 180L23 174L18 172L15 177L15 178ZM93 177L97 168L100 176L99 183L93 179ZM187 179L183 182L178 176L184 171ZM76 189L79 196L82 193L82 186L80 183L77 186ZM93 179L99 183L99 185L97 192L95 193L89 189L89 188ZM134 189L140 185L145 194L143 197L136 197ZM173 194L172 192L172 185L175 180L178 187ZM30 202L29 197L32 191L39 193L35 204L33 205ZM114 203L119 207L124 203L124 202L120 191L115 198ZM164 195L165 194L172 192L173 194L175 198L174 206L170 207L165 203ZM199 190L198 190L195 197L197 203L197 203L201 201L202 195Z" fill="#cf6cb2"/><path d="M178 6L183 -1L183 -2L174 -6L174 2ZM20 12L13 12L13 9L16 -0L20 3ZM26 15L27 6L33 6L36 11L35 16L32 18L26 16ZM64 5L65 2L69 2L74 8L72 13L68 16L66 13ZM101 6L98 6L94 12L97 16L104 13L104 12ZM26 16L32 18L33 28L30 31L25 27L24 26ZM157 25L162 23L162 18L157 14L154 19L154 23ZM38 39L34 40L30 37L30 31L33 28L37 31L38 39ZM143 24L144 29L145 32L140 35L139 34L138 26ZM76 42L82 33L87 38L87 39L79 47ZM120 43L120 42L114 38L111 42L110 44L112 49ZM130 33L135 38L135 46L132 49L127 46L129 35ZM-7 52L-7 48L-4 45L1 48L1 49L-1 58ZM120 43L112 49L114 57L120 55L122 52L122 48ZM135 46L138 48L138 59L131 55L132 49ZM164 55L169 58L174 52L167 46L166 46ZM45 57L46 64L47 66L48 67L52 66L54 59L51 55ZM57 58L54 59L52 66L56 73L61 63L61 60ZM61 60L61 63L64 70L69 70L66 56L65 55ZM115 70L107 72L104 66L105 61L107 60L112 59ZM130 70L126 67L129 59L129 59L134 65ZM9 67L4 69L2 75L9 78L10 72ZM62 79L61 89L66 89L67 89L67 81ZM97 86L91 80L89 82L89 92L96 91L98 89ZM92 102L87 98L87 95L89 92L96 91L92 102ZM100 91L100 95L98 105L97 105L92 102L96 91L98 89ZM120 89L115 93L116 102L121 101L121 89ZM129 100L128 89L121 89L121 101L121 102L127 103ZM117 113L112 110L112 105L116 102L121 101L121 102L120 112ZM129 100L133 101L136 109L136 110L130 116L128 116L127 113L127 103ZM150 109L152 110L153 110L155 99L154 98L152 96L147 100ZM34 123L36 122L36 110L34 109L29 116L30 121ZM86 114L83 104L77 110L77 116L82 121ZM166 118L169 110L171 110L173 115L170 126ZM119 124L118 122L111 122L113 129L117 133L119 131ZM126 123L121 123L119 124L119 131L122 134L129 132ZM47 140L54 140L56 139L56 135L51 128L48 135ZM60 145L56 139L56 135L60 129L64 133L66 140ZM89 131L94 132L94 132L97 143L91 149L87 143L88 132ZM129 134L129 133L131 132L134 132L139 138L133 145ZM187 141L184 143L181 143L178 134L184 134L186 136ZM68 150L63 154L60 152L60 145L66 140L67 140ZM152 152L158 144L163 146L163 154L162 155L152 153ZM37 155L32 152L29 153L29 164L32 166L37 162ZM114 160L108 161L107 152L111 147L114 151ZM131 152L129 155L129 158L132 170L135 170L137 164L134 153L132 152ZM97 168L97 168L93 177L90 174L89 165L94 166ZM114 161L115 172L116 174L123 165L123 164L120 160ZM165 174L159 174L156 167L156 166L160 162L165 167ZM184 171L184 165L179 164L176 165L175 173L176 175L178 176ZM191 167L185 164L184 165L184 171L187 179L187 179L191 175ZM154 184L156 182L159 174L156 167L150 175ZM9 188L9 183L15 178L19 189L19 191L15 194ZM40 192L38 183L31 186L32 191L39 193L40 192ZM44 197L49 198L52 195L51 188L49 188ZM128 193L128 194L124 202L120 191L120 190L122 188ZM164 186L166 177L172 185L172 192L165 194ZM195 187L190 188L188 193L190 198L195 197L198 190ZM10 205L9 204L5 194L5 193L9 188L15 194L13 204ZM30 202L29 197L24 195L21 205L26 208ZM56 202L53 207L49 208L49 198L52 195L55 198Z" fill="#bd509f"/><path d="M15.4 162.0L17.9 172.0M15.4 162.0L14.5 162.1M14.5 162.1L9.7 171.6M9.7 171.6L15.1 177.2M17.9 172.0L15.1 177.2M-7.2 135.7L1.0 135.0M1.0 135.0L1.0 136.8M1.0 136.8L-2.1 147.4M9.4 160.5L4.5 166.0M9.4 160.5L14.5 162.1M9.7 171.6L5.8 172.5M4.5 166.0L5.8 172.5M52.0 195.4L49.2 198.0M52.0 195.4L55.3 197.9M49.2 198.0L49.3 207.7M55.3 197.9L56.4 201.9M26.2 166.4L29.0 164.3M26.2 166.4L24.0 173.5M29.0 164.3L32.0 165.7M32.0 165.7L32.5 175.8M32.5 175.8L29.8 179.0M29.8 179.0L24.0 173.5M16.3 160.0L22.2 158.9M16.3 160.0L15.4 162.0M22.2 158.9L26.2 166.4M17.9 172.0L23.3 173.9M23.3 173.9L24.0 173.5M53.8 176.0L57.9 177.8M53.8 176.0L53.0 163.2M57.9 177.8L60.4 172.8M60.4 172.8L59.4 166.0M59.4 166.0L56.8 162.3M53.0 163.2L56.8 162.3M131.4 200.8L128.0 194.0M128.0 194.0L123.6 202.2M119.6 189.8L122.0 187.8M119.6 189.8L119.6 191.4M119.6 191.4L123.6 202.2M128.0 194.0L128.3 192.7M122.0 187.8L128.3 192.7M63.7 100.4L57.3 110.5M63.7 100.4L66.5 102.5M66.0 110.0L59.0 113.1M66.0 110.0L66.3 109.7M57.3 110.5L59.0 113.1M66.3 109.7L66.5 102.5M86.6 80.3L82.4 83.5M86.6 80.3L84.5 70.8M78.9 68.7L80.0 67.8M78.9 68.7L78.0 77.6M84.5 70.8L80.0 67.8M82.4 83.5L78.0 77.6M82.4 83.5L81.4 88.4M74.6 89.7L73.8 82.6M74.6 89.7L78.2 91.1M78.0 77.6L73.8 82.6M81.4 88.4L78.2 91.1M88.5 92.3L96.3 90.7M88.5 92.3L87.2 95.0M87.2 95.0L87.1 98.0M87.1 98.0L92.1 102.1M96.3 90.7L92.4 102.1M92.4 102.1L92.1 102.1M86.6 80.3L88.6 81.5M88.6 81.5L88.5 92.3M81.4 88.4L87.2 95.0M16.7 112.2L20.4 98.7M16.7 112.2L25.1 112.4M25.6 102.6L20.4 98.7M25.6 102.6L25.4 112.2M25.1 112.4L25.4 112.2M22.2 158.9L23.9 155.6M29.0 152.8L29.0 164.3M29.0 152.8L28.5 152.5M28.5 152.5L23.9 155.6M50.3 110.6L49.1 109.4M50.3 110.6L53.8 107.6M53.8 107.6L54.3 102.4M54.3 102.4L49.6 93.5M49.1 109.4L46.3 102.9M49.6 93.5L46.3 102.9M32.1 151.6L37.1 154.8M32.1 151.6L29.0 152.8M32.0 165.7L37.1 162.2M37.1 162.2L37.1 154.8M15.1 177.2L14.9 178.1M5.8 172.5L5.7 173.2M6.0 179.1L5.7 173.2M6.0 179.1L9.2 183.2M9.2 183.2L14.9 178.1M22.5 180.1L23.3 173.9M22.5 180.1L19.1 189.4M14.9 178.1L19.1 189.4M22.5 180.1L25.8 186.4M19.1 189.4L19.2 190.6M19.2 190.6L22.8 193.0M22.8 193.0L25.8 186.4M29.8 179.0L29.9 182.2M25.8 186.4L29.9 182.2M32.5 175.8L38.3 175.9M37.6 183.1L38.3 175.9M37.6 183.1L31.4 185.6M31.4 185.6L29.9 182.2M52.0 195.4L50.8 187.8M59.3 185.3L50.9 187.7M59.3 185.3L60.2 186.8M60.2 186.8L55.3 197.9M50.8 187.8L50.9 187.7M59.3 185.3L57.9 177.8M53.8 176.0L51.4 177.6M50.9 187.7L51.4 177.6M-3.7 3.0L-1.3 5.5M-1.3 5.5L3.4 3.1M3.4 3.1L3.1 -4.7M-3.8 21.3L1.3 32.3M-3.8 21.3L0.8 15.4M0.8 15.4L2.1 16.0M2.1 16.0L4.3 29.3M4.3 29.3L1.3 32.3M-1.3 5.5L0.8 15.4M5.9 3.2L8.1 14.8M5.9 3.2L3.4 3.1M8.1 14.8L2.1 16.0M7.4 28.8L11.0 18.8M7.4 28.8L4.3 29.3M8.1 14.8L10.7 16.4M11.0 18.8L10.7 16.4M9.4 42.4L2.7 39.2M9.4 42.4L7.7 50.1M7.7 50.1L1.5 48.8M1.5 48.8L1.2 47.9M1.2 47.9L2.7 39.2M-3.5 81.7L0.0 91.4M-6.2 100.2L-0.8 93.7M-0.8 93.7L0.0 91.4M181.0 -15.2L182.7 -1.6M188.8 -5.2L183.4 -0.8M183.4 -0.8L182.9 -1.0M182.7 -1.6L182.9 -1.0M174.2 -6.1L182.7 -1.6M96.0 35.9L88.3 41.2M96.0 35.9L91.1 26.1M91.1 26.1L90.7 25.8M90.7 25.8L86.9 38.3M88.3 41.2L87.1 39.3M86.9 38.3L87.1 39.3M78.9 68.7L74.8 67.1M69.7 78.8L73.8 82.6M69.7 78.8L69.9 71.1M74.8 67.1L69.9 71.1M90.7 25.8L89.7 23.4M89.7 23.4L89.5 23.4M81.6 32.9L86.9 38.3M81.6 32.9L80.9 27.1M89.5 23.4L80.9 27.1M89.7 23.4L93.2 12.5M89.5 23.4L83.5 13.9M83.5 13.9L89.0 7.8M89.0 7.8L93.2 12.5M103.7 12.8L97.2 16.2M103.7 12.8L103.3 24.1M97.2 16.2L99.7 23.6M99.7 23.6L101.4 25.0M101.4 25.0L103.3 24.1M91.1 26.1L99.7 23.6M93.2 12.5L94.1 12.1M94.1 12.1L97.2 16.2M96.0 35.9L98.5 37.2M98.5 37.2L101.4 25.0M109.6 11.5L103.8 12.5M109.6 11.5L109.8 6.0M109.8 6.0L104.6 0.9M103.8 12.5L101.4 6.2M101.4 6.2L104.6 0.9M112.1 15.9L106.9 25.8M112.1 15.9L109.6 11.5M106.9 25.8L103.3 24.1M103.7 12.8L103.8 12.5M97.7 5.7L94.1 12.1M97.7 5.7L101.4 6.2M97.7 5.7L95.5 -3.3M104.6 0.9L105.0 -6.4M172.5 91.4L175.8 86.3M172.5 91.4L172.4 93.3M180.3 91.8L175.8 86.3M180.3 91.8L181.6 96.9M172.4 93.3L175.9 100.2M175.9 100.2L181.6 96.9M180.3 91.8L184.4 83.8M184.4 83.8L187.3 90.5M187.3 90.5L185.0 98.7M181.6 96.9L185.0 98.7M89.2 188.7L95.2 192.8M89.2 188.7L86.4 197.6M95.2 192.8L91.1 205.5M86.4 197.6L86.1 204.2M77.9 173.8L80.2 177.2M77.9 173.8L77.6 165.0M80.2 177.2L83.1 175.2M77.6 165.0L85.1 166.1M83.1 175.2L85.1 166.1M97.2 192.4L99.8 196.4M97.2 192.4L95.2 192.8M99.6 201.6L99.8 196.4M122.0 187.8L125.0 182.0M128.3 192.7L132.6 187.8M132.3 186.3L132.6 187.8M132.3 186.3L128.9 181.2M128.9 181.2L125.0 182.0M53.8 107.6L57.3 110.5M63.7 100.4L63.5 100.0M54.3 102.4L59.3 96.0M63.5 100.0L59.3 96.0M88.6 81.5L91.4 80.1M84.5 70.8L90.5 66.8M91.4 80.1L93.4 71.0M90.5 66.8L93.4 71.0M79.6 99.0L82.9 104.0M79.6 99.0L72.8 101.3M72.8 101.3L75.3 109.3M82.9 104.4L82.9 104.0M82.9 104.4L76.7 110.1M76.7 110.1L75.3 109.3M78.2 91.1L79.6 99.0M87.1 98.0L82.9 104.0M70.6 98.5L72.8 101.3M70.6 98.5L71.2 94.3M71.2 94.3L74.6 89.7M66.3 109.7L69.6 113.4M70.6 98.5L66.5 102.5M69.6 113.4L75.3 109.3M25.6 102.6L29.3 100.3M30.2 94.3L30.5 98.1M30.2 94.3L25.5 88.3M25.5 88.3L20.2 95.6M20.4 98.7L19.9 97.6M20.2 95.6L19.9 97.6M29.3 100.3L30.5 98.1M28.6 116.0L25.4 112.2M28.6 116.0L33.5 109.2M29.3 100.3L33.5 109.2M49.1 109.4L40.5 109.1M40.5 109.1L39.2 107.4M46.3 102.9L39.9 99.9M39.2 107.4L39.9 99.9M9.4 160.5L7.0 151.9M4.5 166.0L0.3 163.3M0.3 163.3L1.0 152.0M1.0 152.0L4.3 150.1M7.0 151.9L4.3 150.1M1.0 136.8L4.7 146.3M-2.1 147.4L-1.6 149.7M1.0 152.0L-1.6 149.7M4.3 150.1L4.7 146.3M16.3 160.0L16.1 153.0M23.9 155.6L20.0 146.2M16.1 153.0L20.0 146.2M7.0 151.9L12.0 147.8M16.1 153.0L12.0 147.8M8.7 139.1L12.0 143.2M8.7 139.1L4.7 146.3M12.0 147.8L12.0 143.2M30.5 98.1L37.9 97.7M39.2 107.4L36.4 110.1M39.9 99.9L39.8 99.5M36.4 110.1L33.5 109.2M37.9 97.7L39.8 99.5M49.6 93.5L49.2 91.3M44.4 91.5L39.8 99.5M44.4 91.5L48.8 91.1M49.2 91.3L48.8 91.1M-3.3 174.9L1.4 182.2M-2.2 187.9L1.1 183.5M1.1 183.5L1.4 182.2M0.3 163.3L-2.3 165.1M5.7 173.2L-3.3 174.9M6.0 179.1L1.4 182.2M38.4 175.8L44.3 177.6M38.4 175.8L38.7 165.0M38.7 165.0L46.7 165.3M46.7 165.3L46.4 174.8M46.4 174.8L44.3 177.6M38.3 175.9L38.4 175.8M37.1 162.2L38.7 165.0M45.8 147.6L43.4 151.1M45.8 147.6L51.6 152.0M43.4 151.1L47.6 163.8M51.6 152.0L51.6 162.4M51.6 162.4L47.6 163.8M37.1 154.8L39.8 151.6M39.8 151.6L43.4 151.1M46.7 165.3L47.6 163.8M53.0 163.2L51.6 162.4M56.8 162.3L60.2 152.2M52.4 151.2L60.2 152.2M52.4 151.2L51.6 152.0M51.4 177.6L46.4 174.8M9.2 183.2L9.2 187.8M19.2 190.6L14.9 194.5M14.9 194.5L9.2 187.8M1.1 183.5L5.0 193.3M9.2 187.8L5.0 193.3M-2.0 193.7L1.3 195.6M1.3 195.6L4.8 193.9M5.0 193.3L4.8 193.9M1.3 195.6L1.0 205.1M22.8 193.0L23.7 194.7M32.2 191.2L29.0 197.3M32.2 191.2L31.4 185.6M29.0 197.3L23.7 194.7M49.4 187.7L44.6 184.3M49.4 187.7L44.3 196.6M44.6 184.3L40.3 191.6M43.3 196.8L44.3 196.6M43.3 196.8L40.2 192.3M40.2 192.3L40.3 191.6M50.8 187.8L49.4 187.7M44.3 177.6L44.6 184.3M49.2 198.0L44.3 196.6M37.6 183.1L40.3 191.6M43.1 204.8L43.3 196.8M35.2 204.5L38.9 193.1M38.9 193.1L40.2 192.3M38.9 193.1L32.2 191.2M16.7 26.1L15.6 33.7M16.7 26.1L11.0 18.8M7.4 28.8L11.3 35.9M15.6 33.7L11.3 35.9M9.4 42.4L9.6 42.2M7.7 50.1L9.4 58.1M9.4 58.1L17.0 48.1M17.0 48.1L9.6 42.2M1.3 32.3L0.7 34.5M0.7 34.5L2.7 39.2M9.6 42.2L11.3 35.9M4.0 105.9L7.4 96.5M4.0 105.9L-0.8 93.7M0.0 91.4L4.0 90.7M4.0 90.7L7.4 96.5M20.2 95.6L19.2 89.7M19.9 97.6L13.1 97.4M19.2 89.7L12.1 86.1M12.1 86.1L13.1 97.4M16.7 112.2L16.5 112.5M10.7 110.6L16.5 112.5M10.7 110.6L12.4 98.1M12.4 98.1L13.1 97.4M-3.8 45.5L-1.7 35.9M-1.7 35.9L-7.5 34.1M1.2 47.9L-3.8 45.5M0.7 34.5L-1.7 35.9M153.8 3.5L149.2 6.5M153.8 3.5L154.2 -1.4M154.2 -1.4L152.3 -4.5M149.2 6.5L146.9 5.6M146.4 -2.7L146.9 5.6M159.1 -7.4L154.2 -1.4M174.2 -6.1L174.2 1.5M182.9 -1.0L178.5 5.7M174.2 1.5L178.5 5.7M199.4 4.3L192.9 3.9M199.8 -1.7L195.5 -5.1M195.5 -5.1L192.8 -1.3M192.9 3.9L192.8 -1.3M192.0 6.9L192.9 3.9M192.0 6.9L192.9 10.0M192.9 10.0L198.9 14.3M188.8 -5.2L192.8 -1.3M192.0 6.9L187.5 7.5M187.5 7.5L183.4 -0.8M79.7 5.2L83.9 -7.0M79.7 5.2L88.1 2.7M88.1 2.7L88.5 0.1M88.5 0.1L85.1 -6.7M94.7 -3.9L88.5 0.1M89.0 7.8L88.1 2.7M73.8 7.8L71.9 12.5M73.8 7.8L77.2 5.8M75.2 18.2L81.0 15.1M75.2 18.2L71.9 12.5M78.5 6.5L77.2 5.8M78.5 6.5L81.4 13.7M81.4 13.7L81.0 15.1M75.5 26.1L75.2 18.2M75.5 26.1L80.2 26.3M80.2 26.3L81.0 15.1M74.8 26.6L67.7 21.2M74.8 26.6L75.5 26.1M67.7 21.2L68.0 16.0M68.0 16.0L71.9 12.5M83.5 13.9L81.4 13.7M79.7 5.2L78.5 6.5M80.9 27.1L80.2 26.3M46.1 14.2L46.9 22.9M46.1 14.2L44.9 13.4M44.9 13.4L39.7 19.9M46.9 22.9L43.2 26.2M39.7 19.9L40.8 24.7M43.2 26.2L40.8 24.7M51.3 12.5L53.0 6.0M51.3 12.5L46.1 14.2M53.0 6.0L45.2 -0.7M44.9 13.4L43.5 9.1M43.5 9.1L45.2 -0.7M53.0 6.0L54.4 4.7M45.2 -0.7L45.0 -1.4M45.0 -1.4L46.0 -6.9M54.4 4.7L55.8 -4.0M184.4 83.8L183.6 79.2M187.3 90.5L190.5 89.3M192.1 80.3L190.5 89.3M192.1 80.3L184.1 78.7M184.1 78.7L183.6 79.2M199.4 28.8L194.8 28.4M198.5 41.6L194.5 34.0M194.5 34.0L194.8 28.4M198.9 14.3L193.4 26.4M193.4 26.4L194.8 28.4M202.2 52.8L195.5 48.2M198.5 41.6L195.4 47.5M195.5 48.2L195.4 47.5M194.5 34.0L190.8 42.0M195.4 47.5L190.8 42.0M187.5 7.5L183.5 15.7M178.5 5.7L178.9 15.5M178.9 15.5L181.3 16.1M183.5 15.7L181.3 16.1M192.9 10.0L190.3 22.8M183.5 15.7L190.3 22.8M193.4 26.4L191.0 25.0M190.3 22.8L191.0 25.0M96.3 90.7L98.0 89.1M91.4 80.1L97.3 86.3M98.0 89.1L97.3 86.3M97.7 105.2L97.2 105.4M97.7 105.2L100.2 94.6M100.2 94.6L100.0 90.8M97.2 105.4L92.4 102.1M98.0 89.1L100.0 90.8M93.4 71.0L98.3 70.2M98.3 70.2L98.6 70.3M98.6 70.3L99.5 76.5M97.3 86.3L99.5 76.5M162.8 146.4L162.8 153.9M162.8 146.4L157.6 143.9M157.6 143.9L152.0 152.3M161.9 155.0L162.8 153.9M161.9 155.0L152.1 153.1M152.1 153.1L152.0 152.3M151.6 159.1L156.2 165.8M151.6 159.1L152.1 153.1M156.2 165.8L160.3 161.7M160.3 161.7L161.9 155.0M150.8 150.7L149.6 145.8M150.8 150.7L141.4 152.5M142.5 140.2L148.5 143.1M142.5 140.2L140.7 151.5M141.4 152.5L140.7 151.5M148.5 143.1L149.6 145.8M157.6 143.9L156.2 138.2M152.0 152.3L150.8 150.7M149.6 145.8L156.2 138.2M147.5 130.5L151.1 136.0M147.5 130.5L150.2 124.1M150.2 124.1L153.9 124.7M151.1 136.0L155.3 135.1M153.9 124.7L155.3 135.1M151.1 136.0L148.5 143.1M156.2 138.2L156.0 135.9M156.0 135.9L155.3 135.1M151.6 159.1L148.4 162.3M141.4 152.5L142.8 159.6M148.4 162.3L142.8 159.6M183.7 143.3L180.8 143.1M183.7 143.3L181.5 152.3M180.8 143.1L175.4 147.6M175.4 147.6L175.3 150.3M175.3 150.3L180.6 152.4M181.5 152.3L180.6 152.4M173.4 154.3L175.3 150.3M173.4 154.3L175.1 163.6M179.4 163.9L180.6 152.4M179.4 163.9L175.8 164.8M175.1 163.6L175.8 164.8M143.2 196.6L144.7 194.4M143.2 196.6L136.0 196.8M144.7 194.4L140.4 185.3M140.4 185.3L133.9 189.3M136.0 196.8L133.9 189.3M150.5 207.6L149.9 197.9M143.3 199.6L143.2 196.6M149.9 197.9L145.7 193.9M145.7 193.9L144.7 194.4M135.2 199.2L136.0 196.8M132.6 187.8L133.9 189.3M133.7 132.0L138.7 138.2M133.7 132.0L140.5 125.1M143.0 132.2L141.8 138.2M143.0 132.2L140.5 125.1M141.8 138.2L138.7 138.2M147.5 130.5L143.0 132.2M142.5 140.2L141.8 138.2M133.2 122.3L131.1 131.5M133.2 122.3L139.1 121.1M131.1 131.5L133.7 132.0M140.5 125.1L140.3 122.2M140.3 122.2L139.1 121.1M66.0 110.0L63.9 122.6M59.0 113.1L59.4 121.7M59.4 121.7L60.4 123.5M63.9 122.6L60.4 123.5M56.5 134.6L51.4 127.9M56.5 134.6L59.8 129.3M59.4 121.7L50.6 122.4M50.6 122.4L51.4 127.9M60.4 123.5L59.8 129.3M56.5 134.6L56.0 139.3M56.0 139.3L60.1 144.8M59.8 129.3L63.6 133.2M63.6 133.2L65.6 140.0M65.6 140.0L60.1 144.8M52.4 151.2L54.4 140.3M54.4 140.3L56.0 139.3M60.2 152.2L60.4 152.0M60.1 144.8L60.4 152.0M86.2 177.0L89.7 174.4M86.2 177.0L88.7 187.5M88.7 187.5L89.0 187.7M89.0 187.7L93.2 178.9M89.7 174.4L92.9 177.0M93.2 178.9L92.9 177.0M83.1 175.2L86.2 177.0M87.2 163.3L85.1 166.1M87.2 163.3L89.0 165.3M89.0 165.3L89.7 174.4M98.5 182.7L99.2 184.7M98.5 182.7L93.2 178.9M97.2 192.4L99.2 184.7M89.2 188.7L89.0 187.7M98.5 182.7L99.9 175.6M99.9 175.6L96.8 168.2M96.8 168.2L92.9 177.0M108.0 204.6L106.7 194.9M114.7 198.3L110.0 192.6M110.0 192.6L107.4 193.2M106.7 194.9L107.4 193.2M99.8 196.4L106.7 194.9M119.6 191.4L114.7 198.3M119.6 189.8L116.6 185.9M116.6 185.9L114.0 186.6M114.0 186.6L110.0 192.6M105.4 184.2L107.4 193.2M105.4 184.2L107.6 178.8M107.6 178.8L114.0 186.6M99.2 184.7L105.4 184.2M122.7 164.8L124.9 169.8M122.7 164.8L116.2 173.6M124.9 169.8L122.8 177.1M122.8 177.1L116.8 175.1M116.2 173.6L116.8 175.1M128.9 181.2L130.1 172.4M125.0 182.0L122.8 177.1M130.1 172.4L124.9 169.8M116.6 185.9L116.8 175.1M59.3 96.0L59.1 91.6M49.2 91.3L54.2 85.4M59.1 91.6L54.2 85.4M80.0 67.8L81.1 62.5M81.1 62.5L84.7 56.4M90.5 66.8L90.4 61.1M90.4 61.1L84.7 56.4M28.5 152.5L25.2 143.8M20.0 146.2L20.5 144.1M25.2 143.8L20.5 144.1M12.0 143.2L16.8 139.1M16.8 139.1L18.7 140.1M18.7 140.1L20.5 144.1M28.6 116.0L29.8 120.8M36.4 110.1L35.9 122.1M35.9 122.1L33.9 123.0M29.8 120.8L33.9 123.0M40.5 109.1L42.6 117.3M35.9 122.1L38.3 123.3M38.3 123.3L42.6 117.3M50.3 110.6L48.8 118.1M42.6 117.3L48.8 118.1M50.6 122.4L49.3 120.5M49.3 120.5L48.8 118.1M4.0 105.9L4.0 106.4M10.7 110.6L8.1 112.8M7.4 96.5L12.4 98.1M8.1 112.8L4.0 106.4M4.0 106.4L-3.9 109.0M25.1 112.4L20.7 122.7M16.5 112.5L17.6 120.1M17.6 120.1L20.7 122.7M25.7 126.5L29.8 120.8M25.7 126.5L20.9 123.3M20.7 122.7L20.9 123.3M21.0 134.4L26.1 132.3M21.0 134.4L19.3 128.8M25.7 126.5L26.1 132.3M20.9 123.3L19.3 128.8M16.8 139.1L14.2 131.5M21.0 134.4L18.7 140.1M19.3 128.8L14.2 131.5M48.8 91.1L45.9 78.5M54.2 85.4L54.6 79.8M54.6 79.8L48.1 76.3M45.9 78.5L48.1 76.3M-1.6 149.7L-7.1 154.2M4.8 193.9L8.9 204.2M5.9 3.2L8.2 0.4M10.7 16.4L13.4 12.3M13.4 12.3L13.3 9.5M13.3 9.5L8.2 0.4M20.0 39.1L17.6 48.0M20.0 39.1L22.6 38.2M22.6 38.2L26.0 41.1M18.1 49.1L17.6 48.0M18.1 49.1L25.8 48.9M26.0 41.1L26.6 45.2M25.8 48.9L26.6 45.2M15.6 33.7L20.0 39.1M17.0 48.1L17.6 48.0M19.2 89.7L19.6 81.6M11.4 83.5L12.1 86.1M11.4 83.5L17.4 79.6M17.4 79.6L19.6 81.6M25.5 88.3L25.9 82.2M25.9 82.2L22.0 80.7M19.6 81.6L22.0 80.7M4.0 90.7L5.0 88.7M11.4 83.5L9.7 82.4M9.7 82.4L5.0 88.7M1.5 48.8L-0.8 58.2M-0.8 58.2L-7.4 52.2M174.2 1.5L169.1 5.6M178.0 16.5L178.9 15.5M178.0 16.5L171.1 11.2M169.1 5.6L171.1 11.2M69.0 1.7L64.6 2.4M69.0 1.7L70.5 -3.2M62.5 -5.5L64.6 2.4M69.0 1.7L73.8 7.8M75.6 -6.9L77.2 5.8M30.2 31.1L30.0 37.4M30.2 31.1L33.0 27.8M33.0 27.8L37.2 31.2M30.0 37.4L34.1 40.2M37.2 31.2L38.4 39.1M34.1 40.2L38.2 39.5M38.4 39.1L38.2 39.5M24.5 27.1L30.2 31.1M24.5 27.1L22.6 38.2M26.0 41.1L30.0 37.4M31.7 47.2L34.1 40.2M31.7 47.2L26.6 45.2M13.4 12.3L19.9 12.3M13.3 9.5L15.6 -0.4M15.6 -0.4L20.2 2.8M20.2 2.8L19.9 12.3M15.6 -0.4L14.1 -5.4M20.2 2.8L25.6 -2.2M39.7 19.9L34.7 16.1M40.8 24.7L37.2 31.2M33.0 27.8L32.5 18.0M34.7 16.1L32.5 18.0M38.8 -0.8L38.3 8.5M38.8 -0.8L35.4 -3.6M34.1 -2.9L33.5 5.6M33.5 5.6L35.6 11.1M38.3 8.5L35.6 11.1M43.5 9.1L38.3 8.5M45.0 -1.4L38.8 -0.8M25.6 -2.2L27.3 6.5M27.3 6.5L33.5 5.6M34.7 16.1L35.6 11.1M65.7 13.0L63.7 5.4M65.7 13.0L61.1 15.5M63.7 5.4L58.4 7.4M58.4 7.4L58.9 13.9M61.1 15.5L58.9 13.9M68.0 16.0L65.7 13.0M64.6 2.4L63.7 5.4M54.4 4.7L58.4 7.4M54.3 19.9L51.3 12.5M54.3 19.9L58.9 13.9M192.1 80.3L193.6 78.9M184.1 78.7L187.2 69.1M192.9 70.7L193.6 78.9M192.9 70.7L192.0 68.8M192.0 68.8L187.2 69.1M199.5 61.1L194.1 60.2M192.9 70.7L200.3 70.1M192.0 68.8L194.1 60.2M195.5 48.2L192.5 56.5M194.1 60.2L192.5 56.5M175.8 86.3L177.0 79.2M183.6 79.2L180.0 78.2M177.0 79.2L180.0 78.2M172.5 91.4L169.0 87.8M169.0 87.8L169.9 81.1M169.9 81.1L175.1 76.8M177.0 79.2L175.1 76.8M155.5 67.6L163.0 77.2M155.5 67.6L163.2 64.5M163.2 64.5L166.1 70.4M166.1 70.4L163.6 76.3M163.6 76.3L163.0 77.2M89.2 45.9L84.5 53.6M89.2 45.9L93.7 49.6M90.4 61.1L93.2 57.3M84.5 53.6L84.7 56.4M93.7 49.6L93.2 57.3M98.3 70.2L95.8 59.1M95.8 59.1L93.2 57.3M98.6 70.3L103.6 66.0M102.1 57.1L95.8 59.1M102.1 57.1L104.5 61.2M104.5 61.2L103.6 66.0M113.7 30.9L114.0 38.4M113.7 30.9L107.6 27.7M107.6 27.7L106.8 34.1M106.8 34.1L110.6 42.0M114.0 38.4L110.6 42.0M106.9 75.9L104.0 78.9M106.9 75.9L110.9 83.1M104.0 78.9L103.3 89.4M110.9 83.1L108.9 89.9M103.3 89.4L108.6 90.3M108.6 90.3L108.9 89.9M99.5 76.5L104.0 78.9M106.9 72.5L103.6 66.0M106.9 72.5L106.9 75.9M100.0 90.8L103.3 89.4M171.8 154.0L165.9 142.7M171.8 154.0L173.4 154.3M175.4 147.6L173.2 140.1M173.2 140.1L165.9 142.7M180.8 143.1L177.5 134.2M177.5 134.2L174.7 133.0M173.2 140.1L174.7 133.0M166.4 156.4L162.8 153.9M166.4 156.4L171.8 154.0M162.8 146.4L165.3 142.6M165.3 142.6L165.9 142.7M169.0 87.8L163.9 86.9M169.9 81.1L163.6 76.3M163.0 77.2L162.8 78.0M163.9 86.9L162.8 78.0M142.4 175.8L142.6 175.6M142.4 175.8L138.1 174.6M142.6 175.6L141.3 162.5M138.1 174.6L134.5 169.8M134.5 169.8L136.5 163.7M136.5 163.7L141.3 162.5M132.3 186.3L138.1 174.6M140.4 185.3L142.4 175.8M132.1 169.9L130.1 172.4M132.1 169.9L134.5 169.8M134.0 152.5L136.5 163.7M134.0 152.5L140.7 151.5M142.8 159.6L141.3 162.5M132.1 169.9L128.6 158.0M122.7 164.8L122.7 164.3M128.6 158.0L122.7 164.3M132.3 151.5L131.0 152.3M132.3 151.5L132.8 144.7M131.0 152.3L125.1 144.6M132.8 144.7L129.4 134.2M129.4 134.2L125.1 144.6M134.0 152.5L132.3 151.5M128.6 158.0L129.2 155.4M129.2 155.4L131.0 152.3M138.7 138.2L132.8 144.7M129.3 132.9L131.1 131.5M129.3 132.9L129.4 134.2M183.7 143.3L186.5 141.1M183.5 133.7L177.5 134.2M183.5 133.7L186.1 135.8M186.1 135.8L186.5 141.1M178.1 176.0L183.0 181.8M178.1 176.0L184.1 170.7M183.0 181.8L186.7 178.6M184.1 170.7L186.7 178.6M176.1 175.3L178.1 176.0M176.1 175.3L175.2 173.2M179.4 163.9L184.1 164.6M184.1 164.6L184.1 170.7M175.2 173.2L175.8 164.8M181.6 187.6L178.3 187.4M181.6 187.6L183.8 193.7M182.9 195.9L183.8 193.7M182.9 195.9L174.9 197.7M178.3 187.4L173.5 193.6M173.5 193.6L174.9 197.7M175.4 180.3L176.1 175.3M175.4 180.3L178.3 187.4M183.0 181.8L181.6 187.6M187.9 193.3L183.8 193.7M187.9 193.3L190.4 187.6M190.4 187.6L187.1 178.7M187.1 178.7L186.7 178.6M183.0 205.8L182.9 195.9M187.9 193.3L190.1 198.0M189.9 204.5L190.1 198.0M174.4 205.8L174.9 197.7M175.4 180.3L171.9 184.7M171.9 184.7L171.6 192.0M171.6 192.0L173.5 193.6M181.5 152.3L185.9 156.4M186.5 141.1L189.8 145.8M189.8 145.8L190.3 151.4M190.3 151.4L185.9 156.4M184.1 164.6L184.5 164.1M185.9 156.4L184.5 164.1M187.1 178.7L191.2 174.6M184.5 164.1L191.2 167.2M191.2 174.6L191.2 167.2M190.4 187.6L195.0 186.7M195.1 196.9L190.1 198.0M195.1 196.9L197.8 189.8M197.8 189.8L195.0 186.7M191.2 174.6L195.2 177.5M195.0 186.7L195.2 177.5M167.0 163.3L164.9 167.4M167.0 163.3L170.9 164.7M170.9 164.7L166.3 175.8M164.9 167.4L164.9 174.2M164.9 174.2L166.2 175.9M166.2 175.9L166.3 175.8M166.4 156.4L167.0 163.3M160.3 161.7L164.9 167.4M175.1 163.6L170.9 164.7M175.2 173.2L166.3 175.8M159.2 173.5L164.9 174.2M159.2 173.5L156.2 167.4M156.2 167.4L156.2 165.8M166.2 177.4L171.9 184.7M166.2 177.4L166.2 175.9M166.2 177.4L163.7 186.1M171.6 192.0L164.5 193.8M164.5 193.8L163.7 186.1M159.2 173.5L156.0 182.1M163.7 186.1L156.0 182.1M147.7 188.1L153.9 183.7M147.7 188.1L143.1 175.7M150.2 175.2L146.8 173.4M150.2 175.2L153.9 183.7M153.9 183.7L153.9 183.7M146.8 173.4L143.1 175.7M149.9 197.9L156.0 194.7M145.7 193.9L147.7 188.1M156.0 194.7L153.9 183.7M142.6 175.6L143.1 175.7M156.2 167.4L150.2 175.2M148.4 162.3L146.8 173.4M156.0 182.1L153.9 183.7M195.1 196.9L196.6 202.6M193.6 78.9L196.5 80.7M200.6 76.8L196.5 80.7M190.5 89.3L193.8 92.3M193.8 92.3L197.7 87.2M196.5 80.7L197.7 87.2M197.7 87.2L200.5 89.3M185.0 98.7L185.1 99.2M185.1 99.2L188.9 100.0M193.8 92.3L194.2 95.9M188.9 100.0L194.2 95.9M86.4 197.6L81.7 192.7M78.4 201.4L78.9 195.9M81.7 192.7L78.9 195.9M88.7 187.5L82.1 186.3M81.7 192.7L82.1 186.3M80.2 177.2L79.6 183.1M82.1 186.3L79.6 183.1M60.2 186.8L62.2 187.6M62.3 203.5L64.4 195.6M62.2 187.6L64.4 195.6M71.1 196.0L64.4 195.6M71.1 196.0L72.3 200.0M149.2 6.5L152.7 17.6M146.9 5.6L145.3 7.1M145.3 7.1L144.2 17.6M152.7 17.6L144.2 17.6M158.2 7.0L157.2 14.1M158.2 7.0L153.8 3.5M157.2 14.1L153.5 18.8M152.7 17.6L153.5 18.8M135.5 78.3L135.2 78.5M135.5 78.3L135.5 65.1M135.2 78.5L130.3 74.2M135.5 65.1L134.0 64.8M134.0 64.8L129.6 70.5M129.6 70.5L130.3 74.2M126.3 66.7L129.2 59.0M126.3 66.7L129.6 70.5M129.5 58.9L134.0 64.8M129.5 58.9L129.2 59.0M127.8 89.3L128.2 88.5M127.8 89.3L120.7 88.8M128.2 88.5L126.3 78.2M119.2 84.0L123.4 76.1M119.2 84.0L120.4 88.5M123.4 76.1L126.3 78.2M120.7 88.8L120.4 88.5M133.4 84.8L128.2 88.5M133.4 84.8L135.2 78.5M130.3 74.2L126.3 78.2M115.5 92.7L120.4 88.5M115.5 92.7L108.9 89.9M114.9 80.1L119.2 84.0M114.9 80.1L110.9 83.1M115.5 92.7L115.6 101.5M115.6 101.5L120.6 101.3M120.6 101.3L120.7 88.8M126.5 112.8L128.2 116.1M126.5 112.8L126.7 103.2M130.0 116.3L128.2 116.1M130.0 116.3L135.5 109.8M135.5 109.8L135.6 109.2M135.6 109.2L132.6 101.3M132.6 101.3L129.3 99.9M126.7 103.2L129.3 99.9M133.2 122.3L130.0 116.3M139.1 121.1L135.5 109.8M136.8 96.3L132.6 101.3M136.8 96.3L136.7 90.8M136.7 90.8L133.4 84.8M127.8 89.3L129.3 99.9M121.2 102.1L120.6 101.3M121.2 102.1L126.7 103.2M112.1 105.0L112.3 109.5M112.1 105.0L109.5 101.7M109.5 101.7L105.4 103.3M109.3 115.7L102.4 108.5M109.3 115.7L112.3 109.5M105.4 103.3L102.4 108.5M115.6 101.5L112.1 105.0M108.6 90.3L109.5 101.7M100.2 94.6L105.4 103.3M97.7 105.2L102.2 108.5M102.2 108.5L102.4 108.5M121.2 102.1L119.5 111.9M126.5 112.8L122.7 113.6M122.7 113.6L119.5 111.9M112.3 109.5L117.5 113.3M119.5 111.9L117.5 113.3M108.8 119.5L109.3 115.7M108.8 119.5L111.0 121.9M111.0 121.9L117.8 121.7M117.5 113.3L117.8 121.7M118.8 131.5L119.3 124.3M118.8 131.5L122.0 133.8M122.0 133.8L128.6 132.3M121.3 123.0L119.3 124.3M121.3 123.0L126.0 122.5M128.6 132.3L126.0 122.5M111.0 121.9L112.5 128.5M112.5 128.5L116.5 133.5M116.5 133.5L118.8 131.5M117.8 121.7L119.3 124.3M114.9 137.6L116.5 133.5M114.9 137.6L120.6 146.6M122.6 144.3L120.6 146.6M122.6 144.3L122.0 133.8M129.3 132.9L128.6 132.3M122.6 144.3L125.1 144.6M122.7 113.6L121.3 123.0M128.2 116.1L126.0 122.5M77.6 165.0L76.6 162.8M87.1 159.8L87.2 163.3M87.1 159.8L82.0 155.9M82.0 155.9L76.6 162.8M94.0 131.9L93.8 131.7M94.0 131.9L102.9 131.8M93.8 131.7L97.9 120.2M104.2 124.1L100.2 120.2M104.2 124.1L104.2 129.9M100.2 120.2L97.9 120.2M104.2 129.9L102.9 131.8M97.1 143.0L94.0 131.9M97.1 143.0L97.6 143.1M100.7 142.0L97.6 143.1M100.7 142.0L102.9 131.8M108.8 119.5L104.2 124.1M102.2 108.5L100.2 120.2M107.1 133.2L112.5 128.5M107.1 133.2L104.2 129.9M97.2 105.4L95.2 112.8M92.1 102.1L90.0 111.5M95.2 112.8L90.0 111.5M97.9 120.2L96.6 118.6M95.2 112.8L96.6 118.6M88.5 131.7L89.0 131.2M88.5 131.7L82.0 127.6M89.0 131.2L90.0 120.5M82.0 127.6L81.9 120.6M81.9 120.6L86.4 113.5M90.0 120.5L87.1 113.8M86.4 113.5L87.1 113.8M87.0 143.0L88.5 131.7M87.0 143.0L90.6 148.6M90.6 148.6L97.1 143.0M93.8 131.7L89.0 131.2M96.6 118.6L90.0 120.5M82.9 104.4L86.4 113.5M76.7 110.1L77.5 116.3M77.5 116.3L81.9 120.6M90.0 111.5L87.1 113.8M107.6 178.8L107.8 174.5M116.2 173.6L114.6 172.4M107.8 174.5L114.6 172.4M99.9 175.6L107.5 173.9M107.8 174.5L107.5 173.9M100.1 163.1L96.8 167.9M100.1 163.1L99.1 156.8M93.2 154.5L94.4 166.3M93.2 154.5L99.1 156.8M94.4 166.3L96.8 167.9M96.8 168.2L96.8 167.9M107.5 173.9L105.3 165.1M105.3 165.1L100.1 163.1M90.7 152.2L93.2 154.5M90.7 152.2L87.1 159.8M89.0 165.3L94.4 166.3M90.7 152.2L90.6 148.6M99.5 155.8L97.6 143.1M99.5 155.8L99.1 156.8M106.8 152.3L111.1 147.1M106.8 152.3L104.0 151.3M104.0 151.3L102.1 143.3M102.1 143.3L110.4 141.2M111.1 147.1L110.8 141.6M110.4 141.2L110.8 141.6M99.5 155.8L104.0 151.3M105.3 165.1L107.5 161.2M107.5 161.2L106.8 152.3M100.7 142.0L102.1 143.3M107.1 133.2L110.4 141.2M114.9 137.6L110.8 141.6M61.4 89.1L62.3 79.0M61.4 89.1L65.7 89.2M66.6 88.7L67.2 81.0M66.6 88.7L65.7 89.2M67.2 81.0L62.3 79.0M59.1 91.6L61.4 89.1M61.4 77.5L56.3 76.7M61.4 77.5L62.3 79.0M56.3 76.7L54.6 79.8M63.5 100.0L65.7 89.2M71.2 94.3L66.6 88.7M69.7 78.8L67.2 81.0M69.9 71.1L68.6 69.9M68.6 69.9L64.0 70.3M64.0 70.3L61.4 77.5M74.2 120.8L74.4 129.5M74.2 120.8L70.0 117.4M70.0 117.4L67.1 123.6M67.1 123.6L68.7 127.7M68.7 127.7L71.9 131.2M71.9 131.2L74.4 129.5M77.5 116.3L74.2 120.8M78.7 130.7L74.4 129.5M78.7 130.7L82.0 127.6M69.6 113.4L70.0 117.4M63.9 122.6L67.1 123.6M63.6 133.2L68.7 127.7M28.0 137.8L27.3 134.4M28.0 137.8L32.9 139.8M27.3 134.4L33.2 128.5M33.2 128.5L35.2 138.1M32.9 139.8L35.2 138.1M25.2 143.8L28.0 137.8M26.1 132.3L27.3 134.4M32.1 151.6L32.9 139.8M33.9 123.0L33.2 128.5M36.9 138.3L40.5 128.1M36.9 138.3L35.2 138.1M40.5 128.1L38.3 123.3M37.3 138.8L36.9 138.3M37.3 138.8L39.8 151.6M44.5 127.6L40.6 128.2M44.5 127.6L47.7 135.0M40.6 128.2L44.9 139.3M47.7 135.0L47.4 140.0M44.9 139.3L46.8 140.7M47.4 140.0L46.8 140.7M40.5 128.1L40.6 128.2M49.3 120.5L44.5 127.6M51.4 127.9L47.7 135.0M37.3 138.8L44.9 139.3M54.4 140.3L47.4 140.0M45.8 147.6L46.8 140.7M6.9 118.6L3.2 121.9M6.9 118.6L12.2 125.6M2.5 132.3L2.2 124.5M2.5 132.3L8.2 135.8M2.2 124.5L3.2 121.9M8.2 135.8L12.5 129.8M12.5 129.8L12.2 125.6M8.1 112.8L6.9 118.6M-4.1 110.4L3.2 121.9M17.6 120.1L12.2 125.6M-6.1 124.5L2.2 124.5M1.0 135.0L2.5 132.3M8.7 139.1L8.2 135.8M14.2 131.5L12.5 129.8M14.9 194.5L13.2 203.9M8.2 0.4L9.9 -5.2M31.7 47.2L33.5 53.4M38.2 39.5L38.5 48.8M33.5 53.4L38.5 48.8M25.8 48.9L26.5 54.8M26.5 54.8L32.1 57.6M32.1 57.6L32.2 57.6M33.5 53.4L32.2 57.6M-3.2 79.1L0.0 75.2M0.0 75.2L-2.1 63.5M5.0 88.7L1.5 75.0M0.0 75.2L1.5 75.0M-0.8 58.2L-0.5 59.3M-2.1 63.5L-0.5 59.3M9.4 58.1L9.4 58.2M9.4 58.2L2.9 60.5M-0.5 59.3L2.9 60.5M168.0 5.2L164.7 6.3M168.0 5.2L168.3 -4.7M164.7 6.3L162.3 4.4M162.3 4.4L161.2 -6.2M169.1 5.6L168.0 5.2M158.2 7.0L162.3 4.4M161.9 23.0L161.9 17.6M161.9 23.0L164.7 26.1M164.7 26.1L168.9 22.6M161.9 17.6L164.5 14.2M164.5 14.2L168.1 18.5M168.9 22.6L168.1 18.5M173.8 25.2L171.4 33.9M173.8 25.2L168.9 22.6M171.4 33.9L164.2 33.7M164.2 33.7L164.7 26.1M157.2 14.1L161.9 17.6M164.7 6.3L164.5 14.2M171.1 11.2L168.1 18.5M178.0 16.5L175.0 24.5M175.0 24.5L173.8 25.2M20.1 12.5L26.0 15.4M20.1 12.5L17.5 25.6M17.5 25.6L24.1 25.6M24.1 25.6L26.4 16.4M26.4 16.4L26.0 15.4M19.9 12.3L20.1 12.5M27.3 6.5L26.0 15.4M16.7 26.1L17.5 25.6M24.5 27.1L24.1 25.6M32.5 18.0L26.4 16.4M136.0 11.5L142.9 6.5M136.0 11.5L133.9 6.9M133.9 6.9L134.8 -1.2M142.9 6.5L137.2 -3.5M137.2 -3.5L134.8 -1.2M145.3 7.1L142.9 6.5M127.7 -5.4L134.8 -1.2M127.7 -5.4L124.8 5.3M133.9 6.9L126.8 8.4M126.8 8.4L124.8 5.3M112.1 15.9L113.2 16.0M106.9 25.8L107.6 27.7M113.7 30.9L118.1 25.3M118.1 25.3L118.0 19.8M113.2 16.0L117.8 19.2M118.0 19.8L117.8 19.2M181.3 16.1L183.9 30.4M175.0 24.5L180.8 33.8M180.8 33.8L183.9 30.4M191.0 25.0L188.1 28.9M183.9 30.4L188.1 28.9M145.6 53.6L146.7 59.0M145.6 53.6L138.3 60.9M146.7 59.0L144.4 69.9M144.4 69.9L138.2 62.6M138.2 62.6L138.3 60.9M147.6 46.0L146.2 47.4M147.6 46.0L151.3 47.6M146.2 47.4L145.6 53.6M152.0 61.0L151.3 47.6M152.0 61.0L146.7 59.0M137.7 47.9L137.8 59.1M137.7 47.9L143.2 46.5M137.8 59.1L138.3 60.9M143.2 46.5L146.2 47.4M137.8 59.1L131.3 54.9M131.3 54.9L129.5 58.9M135.5 65.1L138.2 62.6M187.2 69.1L184.3 62.9M180.0 78.2L180.7 66.3M180.7 66.3L183.1 62.7M183.1 62.7L184.3 62.9M192.5 56.5L188.8 55.3M184.3 62.9L188.8 55.3M175.1 76.8L172.0 69.2M180.7 66.3L174.1 66.0M174.1 66.0L172.0 69.2M166.1 70.4L170.6 68.7M170.6 68.7L172.0 69.2M162.7 41.0L166.5 45.8M162.7 41.0L156.1 48.5M166.5 45.8L164.4 55.4M158.3 55.2L156.1 48.5M158.3 55.2L162.6 57.3M162.6 57.3L164.4 55.4M172.1 37.5L171.4 33.9M172.1 37.5L166.8 45.8M162.5 36.9L162.7 41.0M162.5 36.9L164.2 33.7M166.8 45.8L166.5 45.8M166.8 45.8L174.1 51.6M169.1 58.0L174.1 51.6M169.1 58.0L164.4 55.4M154.3 64.0L152.0 61.0M154.3 64.0L158.3 55.2M154.5 47.6L156.1 48.5M154.5 47.6L151.3 47.6M154.3 67.1L154.3 64.0M154.3 67.1L155.5 67.6M163.2 64.5L162.6 57.3M169.1 58.0L170.6 68.7M105.9 45.4L102.4 38.8M105.9 45.4L101.0 51.6M97.1 47.3L101.0 51.6M97.1 47.3L98.7 37.6M98.7 37.6L102.4 38.8M102.1 57.1L101.0 51.6M93.7 49.6L97.1 47.3M88.3 41.2L89.2 45.9M98.5 37.2L98.7 37.6M106.8 34.1L102.4 38.8M110.6 42.0L109.9 44.3M105.9 45.4L107.5 45.7M107.5 45.7L109.9 44.3M104.5 61.2L107.1 59.6M107.5 45.7L107.1 59.6M169.9 125.7L165.5 118.0M169.9 125.7L170.5 128.8M170.5 128.8L163.8 132.5M160.7 120.8L162.7 131.4M160.7 120.8L165.5 118.0M162.7 131.4L163.8 132.5M173.1 115.2L169.9 125.7M173.1 115.2L170.6 110.5M170.6 110.5L169.1 110.2M169.1 110.2L165.5 118.0M178.9 120.0L174.3 131.5M178.9 120.0L173.1 115.2M174.3 131.5L170.5 128.8M174.7 133.0L174.3 131.5M165.3 142.6L163.8 132.5M158.6 119.2L160.7 120.8M158.6 119.2L153.9 124.7M156.0 135.9L162.7 131.4M158.6 119.2L157.5 114.1M169.1 110.2L167.8 107.8M157.5 114.1L160.4 108.0M160.4 108.0L167.8 107.8M172.4 93.3L166.8 99.9M175.4 104.3L175.9 100.2M175.4 104.3L170.6 110.5M166.8 99.9L167.8 107.8M150.2 124.1L148.7 120.6M140.3 122.2L143.5 118.4M148.7 120.6L143.5 118.4M154.3 67.1L153.5 68.5M144.4 69.9L144.5 70.3M153.5 68.5L144.5 70.3M162.8 78.0L154.0 81.5M154.0 81.5L153.9 81.5M153.5 68.5L153.9 81.5M119.8 150.1L120.4 151.7M119.8 150.1L113.7 150.9M120.4 151.7L120.0 160.1M120.0 160.1L114.0 161.0M113.7 150.9L113.5 160.3M114.0 161.0L113.5 160.3M120.6 146.6L119.8 150.1M129.2 155.4L120.4 151.7M111.1 147.1L113.7 150.9M122.7 164.3L120.0 160.1M114.6 172.4L114.0 161.0M107.5 161.2L113.5 160.3M178.9 120.0L180.2 119.3M183.5 133.7L181.1 120.3M181.1 120.3L180.2 119.3M175.4 104.3L182.1 111.6M180.2 119.3L182.1 111.6M185.1 99.2L184.4 108.9M182.1 111.6L184.4 108.9M186.1 135.8L189.5 129.6M189.8 145.8L194.6 141.1M194.6 141.1L194.3 129.6M194.3 129.6L189.5 129.6M201.2 113.0L197.1 104.6M200.4 100.1L197.8 102.0M197.1 104.6L197.8 102.0M204.1 122.2L197.3 122.6M197.1 121.2L197.3 122.6M197.1 121.2L201.2 113.0M194.2 95.9L197.8 102.0M194.0 108.0L197.1 104.6M194.0 108.0L188.9 100.0M194.6 141.1L196.3 141.6M196.3 141.6L200.5 138.7M194.3 129.6L196.5 127.5M196.5 127.5L201.8 133.8M194.9 156.3L196.3 161.1M194.9 156.3L198.9 148.9M201.8 160.6L196.7 161.4M196.7 161.4L196.3 161.1M190.3 151.4L194.9 156.3M191.2 167.2L196.3 161.1M196.3 141.6L198.9 148.9M199.0 174.2L196.7 161.4M199.0 174.2L195.2 177.5M197.8 189.8L198.9 189.8M164.5 193.8L164.2 194.6M165.3 202.7L164.2 194.6M156.0 194.7L157.2 195.8M164.2 194.6L157.2 195.8M71.9 192.6L67.4 182.7M71.9 192.6L75.9 188.6M76.7 185.7L75.9 188.6M76.7 185.7L71.6 180.5M71.6 180.5L67.7 181.7M67.7 181.7L67.4 182.7M71.1 196.0L71.9 192.6M62.2 187.6L67.4 182.7M78.9 195.9L75.9 188.6M79.6 183.1L76.7 185.7M73.8 174.6L71.6 180.5M73.8 174.6L77.9 173.8M69.0 166.9L73.8 174.6M69.0 166.9L66.2 173.5M66.2 173.5L67.7 181.7M66.2 173.5L60.4 172.8M153.6 22.6L152.0 25.0M153.6 22.6L157.1 25.4M152.0 25.0L150.4 33.2M157.1 25.4L158.6 33.7M150.4 33.2L155.6 35.6M155.6 35.6L158.6 33.7M153.5 18.8L153.6 22.6M161.9 23.0L157.1 25.4M162.5 36.9L158.6 33.7M148.1 36.0L147.6 46.0M148.1 36.0L150.4 33.2M154.5 47.6L155.6 35.6M59.4 166.0L66.8 162.2M60.4 152.0L63.0 153.6M63.0 153.6L66.8 162.2M69.0 166.9L69.3 164.1M76.6 162.8L72.8 160.4M72.8 160.4L69.3 164.1M69.3 164.1L66.8 162.2M65.6 140.0L67.2 140.3M63.0 153.6L67.7 150.2M67.2 140.3L67.7 150.2M71.9 131.2L70.3 138.7M67.2 140.3L70.3 138.7M72.8 160.4L72.9 153.2M67.7 150.2L72.9 153.2M79.1 137.7L74.4 145.1M79.1 137.7L84.2 144.0M84.2 144.0L80.7 149.8M80.7 149.8L74.9 148.5M74.9 148.5L74.4 145.1M78.7 130.7L79.1 137.7M70.3 138.7L74.4 145.1M87.0 143.0L84.2 144.0M82.0 155.9L80.7 149.8M72.9 153.2L74.9 148.5M23.7 194.7L21.3 204.6M22.9 68.5L16.7 71.4M22.9 68.5L23.7 67.6M23.7 67.6L22.2 59.5M16.4 71.1L15.6 61.4M16.4 71.1L16.7 71.4M15.6 61.4L20.0 58.1M20.0 58.1L22.2 59.5M17.4 79.6L16.7 71.4M22.0 80.7L22.9 68.5M25.9 82.2L28.1 80.3M28.1 80.3L28.3 69.9M28.3 69.9L23.7 67.6M26.5 54.8L22.2 59.5M32.1 57.6L29.2 69.1M28.3 69.9L29.2 69.1M18.1 49.1L20.0 58.1M9.5 58.5L9.4 58.2M9.5 58.5L15.6 61.4M32.2 57.6L37.3 62.1M38.5 48.8L42.8 53.9M42.8 53.9L37.3 62.1M29.2 69.1L37.3 72.6M37.3 72.6L38.3 66.5M38.3 66.5L37.3 62.1M32.1 87.7L36.8 88.1M32.1 87.7L30.5 81.9M30.5 81.9L38.3 76.4M36.8 88.1L39.9 81.7M39.9 81.7L40.0 79.1M40.0 79.1L39.5 77.9M39.5 77.9L38.3 76.4M30.2 94.3L32.1 87.7M37.9 97.7L36.8 88.1M28.1 80.3L30.5 81.9M37.3 72.6L38.3 76.4M44.4 91.5L39.9 81.7M45.9 78.5L40.0 79.1M48.1 76.3L47.7 67.4M47.7 67.4L46.5 66.2M46.5 66.2L39.5 77.9M46.5 66.2L45.6 64.4M45.6 64.4L38.3 66.5M2.1 74.7L3.8 69.2M2.1 74.7L8.6 77.5M3.8 69.2L9.3 66.9M8.6 77.5L10.4 71.7M10.4 71.7L9.3 66.9M1.5 75.0L2.1 74.7M2.9 60.5L3.8 69.2M9.7 82.4L8.6 77.5M9.5 58.5L9.3 66.9M16.4 71.1L10.4 71.7M148.1 36.0L144.9 32.3M143.2 46.5L139.6 34.8M139.6 34.8L144.9 32.3M149.1 24.2L152.0 25.0M149.1 24.2L144.3 29.0M144.3 29.0L144.9 32.3M137.7 47.9L135.3 46.3M139.6 34.8L138.7 34.3M138.7 34.3L134.7 38.3M134.7 38.3L135.3 46.3M131.3 54.9L132.1 48.7M132.1 48.7L135.3 46.3M121.6 35.4L120.7 29.2M121.6 35.4L128.7 35.2M120.7 29.2L127.8 26.5M128.7 35.2L130.2 33.2M130.2 33.2L130.2 27.6M127.8 26.5L130.2 27.6M118.1 25.3L120.7 29.2M114.0 38.4L119.8 41.8M119.8 41.8L121.6 35.4M124.0 18.8L118.0 19.8M124.0 18.8L127.8 26.5M134.7 38.3L130.2 33.2M126.9 45.6L132.1 48.7M126.9 45.6L128.7 35.2M123.0 5.5L120.9 7.8M123.0 5.5L118.1 -4.0M120.9 7.8L115.9 5.5M115.9 5.5L113.5 0.3M113.5 0.3L113.9 -3.2M127.1 13.4L124.0 18.8M127.1 13.4L126.8 8.4M124.8 5.3L123.0 5.5M117.8 19.2L120.9 7.8M113.2 16.0L115.9 5.5M109.8 6.0L113.5 0.3M190.8 42.0L190.0 42.1M188.8 55.3L185.2 46.3M190.0 42.1L185.2 46.3M188.1 28.9L188.2 34.8M190.0 42.1L188.2 34.8M106.9 72.5L114.5 69.5M107.1 59.6L112.3 59.5M112.3 59.5L114.5 69.5M126.3 66.7L122.2 68.1M123.4 76.1L122.1 68.3M122.2 68.1L122.1 68.3M114.9 80.1L115.3 70.6M122.1 68.3L115.3 70.6M115.3 70.6L114.5 69.5M160.4 108.0L159.7 102.8M166.8 99.9L164.0 97.2M159.7 102.8L164.0 97.2M163.9 86.9L162.3 91.1M154.0 81.5L158.8 91.5M158.8 91.5L162.3 91.1M162.3 91.1L164.0 97.2M159.7 102.8L154.6 98.5M158.8 91.5L154.5 98.0M154.5 98.0L154.6 98.5M157.5 114.1L152.6 109.9M154.6 98.5L152.6 109.9M148.7 120.6L151.8 110.1M152.6 109.9L151.8 110.1M153.9 81.5L153.9 81.5M153.9 81.5L146.2 78.3M144.5 70.3L143.7 75.1M143.7 75.1L146.2 78.3M135.5 78.3L141.1 78.0M143.7 75.1L141.1 78.0M136.7 90.8L141.8 87.7M141.1 78.0L141.8 87.7M192.4 112.1L194.8 117.7M192.4 112.1L190.2 112.5M194.8 117.7L187.9 124.1M190.2 112.5L187.3 122.9M187.3 122.9L187.9 124.1M194.0 108.0L192.4 112.1M197.1 121.2L194.8 117.7M184.4 108.9L190.2 112.5M197.3 122.6L196.5 127.5M189.5 129.6L187.9 124.1M181.1 120.3L187.3 122.9M157.2 195.8L156.6 204.2M74.8 67.1L72.3 57.6M68.6 69.9L66.0 56.2M66.0 56.2L70.6 56.2M72.3 57.6L70.6 56.2M81.1 62.5L76.6 54.2M72.3 57.6L76.6 54.2M84.5 53.6L78.7 46.9M76.6 54.2L78.7 46.9M81.6 32.9L75.9 42.2M87.1 39.3L78.6 46.6M78.6 46.6L75.9 42.2M78.6 46.6L78.7 46.9M67.1 34.0L65.8 45.5M67.1 34.0L72.6 35.1M65.8 45.5L73.3 44.1M72.6 35.1L75.3 41.9M75.3 41.9L73.3 44.1M74.8 26.6L72.6 35.1M75.9 42.2L75.3 41.9M70.6 56.2L73.3 44.1M64.0 70.3L60.6 62.7M56.3 76.7L56.1 73.0M60.6 62.7L56.1 73.0M47.7 67.4L51.9 66.0M56.1 73.0L51.9 66.0M66.0 56.2L64.7 55.4M65.8 45.5L64.1 47.9M64.1 47.9L64.7 55.4M60.6 62.7L60.7 59.8M64.7 55.4L60.7 59.8M53.9 59.2L57.5 58.3M53.9 59.2L51.9 66.0M60.7 59.8L57.5 58.3M45.6 64.4L45.3 56.5M53.9 59.2L50.8 54.9M50.8 54.9L45.3 56.5M42.8 53.9L43.5 54.0M43.5 54.0L45.3 56.5M29.0 197.3L30.1 202.0M137.9 26.3L142.6 24.1M137.9 26.3L133.3 22.4M136.0 14.6L143.8 18.6M136.0 14.6L133.3 21.5M142.6 24.1L143.8 20.0M133.3 21.5L133.3 22.4M143.8 20.0L143.8 18.6M138.7 34.3L137.9 26.3M144.3 29.0L142.6 24.1M130.2 27.6L133.3 22.4M144.2 17.6L143.8 18.6M136.0 11.5L136.0 14.6M127.1 13.4L133.3 21.5M149.1 24.2L143.8 20.0M188.2 34.8L182.4 40.1M185.2 46.3L183.8 45.8M183.8 45.8L182.4 40.1M172.1 37.5L174.7 40.0M180.8 33.8L180.7 35.8M174.7 40.0L180.7 35.8M180.7 35.8L182.4 40.1M112.4 49.2L113.9 56.6M112.4 49.2L120.1 43.1M113.9 56.6L120.4 54.6M120.4 54.6L121.7 52.3M121.7 52.3L122.2 48.1M122.2 48.1L120.1 43.1M109.9 44.3L112.4 49.2M112.3 59.5L113.9 56.6M119.8 41.8L120.1 43.1M122.2 68.1L120.4 54.6M129.2 59.0L121.7 52.3M126.9 45.6L122.2 48.1M153.9 81.5L150.6 89.8M146.2 78.3L147.1 88.7M150.6 89.8L147.1 88.7M154.5 98.0L151.9 95.7M150.6 89.8L151.9 95.7M141.8 87.7L143.9 90.9M147.1 88.7L143.9 90.9M50.8 54.9L51.8 48.8M43.5 54.0L46.4 44.6M51.8 48.8L46.4 44.6M57.5 58.3L55.7 44.4M51.8 48.8L55.7 44.4M64.1 47.9L60.9 44.8M60.9 44.8L55.9 43.7M55.7 44.4L55.9 43.7M38.4 39.1L45.7 37.9M46.4 44.6L45.7 37.9M43.2 26.2L46.2 37.0M45.7 37.9L46.2 37.0M67.7 21.2L64.1 27.5M61.1 15.5L60.6 25.9M60.6 25.9L64.1 27.5M67.1 34.0L64.7 30.4M60.9 44.8L62.2 35.2M62.2 35.2L64.7 30.4M64.1 27.5L64.7 30.4M181.7 60.1L180.9 49.2M181.7 60.1L175.6 59.1M180.9 49.2L175.3 49.9M175.6 59.1L174.1 51.6M174.1 51.6L175.3 49.9M183.1 62.7L181.7 60.1M183.8 45.8L180.9 49.2M174.1 66.0L175.6 59.1M174.7 40.0L175.3 49.9M174.1 51.6L174.1 51.6M147.0 99.6L143.3 98.7M147.0 99.6L149.8 109.0M141.7 106.7L144.0 111.0M141.7 106.7L142.9 99.3M142.9 99.3L143.3 98.7M144.0 111.0L149.8 109.0M151.9 95.7L147.0 99.6M143.9 90.9L143.3 98.7M151.8 110.1L149.8 109.0M135.6 109.2L141.7 106.7M143.5 118.4L144.0 111.0M136.8 96.3L142.9 99.3M55.6 42.4L47.7 36.1M55.6 42.4L56.6 36.7M56.6 36.7L55.6 26.0M47.7 36.1L52.2 26.8M52.2 26.8L54.7 25.2M54.7 25.2L55.6 26.0M55.9 43.7L55.6 42.4M46.2 37.0L47.7 36.1M62.2 35.2L56.6 36.7M60.6 25.9L55.6 26.0M46.9 22.9L52.2 26.8M54.3 19.9L54.7 25.2" stroke="#f2c4e4" stroke-width="1" fill="none" opacity="0.9" stroke-linecap="round"/><path d="M65.2 33.1h0M126.1 18.5h0M104.7 73.0h0M15.8 99.4h0M12.0 85.7h0M18.0 21.9h0M84.0 158.8h0M28.0 46.5h0M121.7 181.3h0M112.3 78.8h0M186.6 13.7h0M164.7 58.9h0M31.8 26.9h0M62.4 156.8h0M38.6 113.2h0M123.8 74.3h0M106.9 16.7h0M16.1 43.3h0M131.6 84.5h0M63.4 113.9h0M89.3 60.8h0M152.8 135.0h0M50.4 111.8h0M102.7 167.8h0M140.7 58.6h0M187.3 27.0h0" stroke="#7a45aa" stroke-width="3" stroke-linecap="round" fill="none" opacity="0.8"/></g></g>
<text x="835.0" y="246.7" font-size="20" textLength="73.5" lengthAdjust="spacingAndGlyphs" fill="#1a1020" stroke="#1a1020">100um</text>
<line x1="856.0" y1="254.5" x2="893.7" y2="254.5" stroke="#1a1020" stroke-width="2"/>
<g transform="translate(515,288.8)"><clipPath id="cl3"><rect width="196" height="196"/></clipPath><g clip-path="url(#cl3)"><rect width="196" height="196" fill="#020304"/><path d="M88.6 167.6h0M189.1 128.2h0M86.3 165.1h0M98.0 129.8h0M79.7 108.0h0M61.8 45.0h0M73.6 138.9h0M17.1 65.2h0M99.7 193.1h0M126.2 22.8h0" stroke="#0a1a80" stroke-width="3.2" stroke-linecap="round" fill="none" opacity="0.6"/><path d="M157.6 93.2h0M87.5 27.8h0M163.0 12.4h0M172.4 117.5h0M13.8 150.2h0M165.9 75.8h0M41.8 181.7h0M111.0 38.9h0M26.4 138.6h0M91.1 95.4h0M0.1 169.4h0M41.3 77.3h0M193.9 41.8h0" stroke="#0a1a80" stroke-width="2.4" stroke-linecap="round" fill="none" opacity="0.6"/><path d="M40.9 124.8h0M169.8 35.8h0M31.1 123.3h0M20.4 7.6h0M145.0 76.8h0M44.8 109.6h0M52.8 87.4h0M34.5 72.3h0M71.0 174.6h0M115.6 181.0h0M94.5 143.2h0M195.9 14.8h0M176.4 144.5h0M122.5 74.9h0" stroke="#0a1a80" stroke-width="2.4" stroke-linecap="round" fill="none" opacity="0.6"/><path d="M162.7 75.7h0M72.9 88.8h0M178.1 160.3h0M172.9 118.3h0M57.5 34.4h0M41.6 179.3h0M137.4 188.7h0M69.0 134.3h0M185.1 5.9h0" stroke="#0a1a80" stroke-width="3.2" stroke-linecap="round" fill="none" opacity="0.6"/><path d="M17.8 22.7h0M97.5 120.4h0M101.6 147.7h0M75.3 114.3h0M26.7 97.3h0M186.2 54.3h0M88.3 53.9h0M132.9 55.1h0M152.7 156.2h0M134.2 39.1h0M35.1 53.4h0" stroke="#0a1a80" stroke-width="2.4" stroke-linecap="round" fill="none" opacity="0.6"/><path d="M142.7 76.1h0M90.7 106.1h0M117.9 94.3h0M175.7 72.1h0M97.7 47.3h0M38.9 84.5h0M75.0 101.9h0M62.8 162.4h0M127.3 110.6h0M89.1 4.8h0M21.4 104.9h0M35.0 2.1h0" stroke="#0a1a80" stroke-width="3.2" stroke-linecap="round" fill="none" opacity="0.6"/><path d="M133.7 164.7h0M110.1 169.6h0M134.8 192.0h0" stroke="#0a1670" stroke-width="2.6" stroke-linecap="round" fill="none" opacity="0.8"/><path d="M156.4 181.8h0M139.4 180.2h0M138.6 184.9h0M153.6 163.9h0M138.0 167.9h0M125.8 171.0h0" stroke="#0c1e98" stroke-width="3.6" stroke-linecap="round" fill="none" opacity="0.8"/><path d="M126.6 191.4h0M159.9 187.1h0M135.8 159.0h0M141.0 181.4h0" stroke="#0a1670" stroke-width="3.6" stroke-linecap="round" fill="none" opacity="0.8"/><path d="M131.4 188.4h0M120.2 188.6h0" stroke="#0c1e98" stroke-width="2.6" stroke-linecap="round" fill="none" opacity="0.8"/><path d="M136.0 181.5h0M136.5 177.8h0M148.0 187.9h0" stroke="#0a1670" stroke-width="2.6" stroke-linecap="round" fill="none" opacity="0.8"/><path d="M119.1 165.7h0M157.2 176.2h0M156.5 178.8h0" stroke="#0c1e98" stroke-width="2.6" stroke-linecap="round" fill="none" opacity="0.8"/><path d="M119.5 176.2h0M122.0 174.8h0M159.4 189.8h0M114.2 172.3h0M149.2 166.3h0" stroke="#0a1670" stroke-width="3.6" stroke-linecap="round" fill="none" opacity="0.8"/><path d="M109.6 191.0h0M131.6 190.5h0M115.4 184.5h0M144.1 186.1h0" stroke="#0c1e98" stroke-width="3.6" stroke-linecap="round" fill="none" opacity="0.8"/><path d="M120.0 170.7h0" stroke="#0a1670" stroke-width="3.6" stroke-linecap="round" fill="none" opacity="0.8"/><path d="M142.4 188.3h0M130.1 172.8h0" stroke="#0c1e98" stroke-width="3.6" stroke-linecap="round" fill="none" opacity="0.8"/><path d="M152.4 164.6h0M158.7 162.5h0M119.5 181.2h0M151.4 178.9h0M164.4 189.5h0M115.7 181.2h0M126.6 173.9h0M118.3 173.4h0" stroke="#0c1e98" stroke-width="2.6" stroke-linecap="round" fill="none" opacity="0.8"/><path d="M119.4 179.4h0M148.2 179.6h0M153.8 174.4h0M118.8 161.9h0" stroke="#0a1670" stroke-width="2.6" stroke-linecap="round" fill="none" opacity="0.8"/><g filter="url(#blr)"><clipPath id="fp"><path d="M3.3,15.7L16.6,4.1L28.2,7.5L44.8,37.3L64.6,60.5L81.2,87.0L91.2,120.2L94.5,153.3L96.1,184.8L84.5,193.1L61.3,189.8L36.5,168.2L16.6,143.4L5.0,118.5L2.5,77.1L2.5,43.9Z M61.3,0.8L111.1,0.8L112.7,19.1L107.7,48.9L97.8,62.2L87.9,57.2L74.6,37.3L66.3,19.1Z M127.6,0.8L195.9,0.8L195.9,63.8L185.6,55.5L167.4,45.6L144.2,40.6L130.9,32.3L127.6,14.1Z M121.0,43.9L144.2,60.5L169.1,70.4L195.9,83.7L195.9,131.8L169.1,123.5L144.2,116.9L124.3,103.6L116.0,80.4L114.4,60.5Z M119.3,116.9L144.2,126.8L169.1,135.1L179.0,143.4L182.3,160.0L190.6,176.5L195.9,184.8L177.4,181.5L152.5,168.2L127.6,160.0L121.0,143.4Z M180.7,138.4L195.9,135.1L195.9,160.0L185.6,156.6Z M0.0,173.2L11.6,174.9L26.5,191.4L28.2,195.6L0.0,195.6Z M124.3,195.6L127.6,188.1L144.2,184.8L160.8,189.8L169.1,195.6Z"/></clipPath><g clip-path="url(#fp)"><rect width="196" height="196" fill="#0f4713"/><path d="M24.4 86.8h0M16.5 162.4h0M163.9 110.3h0M65.6 53.6h0M86.6 175.3h0M124.8 194.7h0M174.4 136.0h0M69.1 98.1h0M109.8 51.8h0M89.1 79.1h0M104.5 46.3h0M104.0 8.9h0M122.4 109.9h0M156.2 29.7h0M152.1 18.5h0M79.7 120.0h0M111.3 98.2h0M51.5 14.8h0M168.3 183.3h0" stroke="#1f7c22" stroke-width="3.4" stroke-linecap="round" fill="none"/><path d="M26.1 64.7h0M40.5 36.2h0M143.9 46.7h0M30.1 163.9h0M128.1 113.8h0M150.2 177.0h0M148.2 166.1h0M101.9 51.7h0M188.0 117.6h0M136.4 183.8h0M29.8 3.5h0M49.9 31.3h0M39.9 42.0h0M40.1 75.1h0M130.4 47.0h0M114.2 137.5h0M134.8 82.2h0M34.3 21.0h0M13.7 76.5h0M21.8 36.6h0M125.9 11.1h0M125.2 4.4h0M148.4 132.7h0M31.4 168.5h0M37.8 135.9h0" stroke="#0b3510" stroke-width="5" stroke-linecap="round" fill="none"/><path d="M16.6 124.3h0M169.1 78.3h0M40.8 106.5h0M37.0 73.8h0M60.7 53.7h0M79.7 14.2h0M175.4 159.8h0M192.7 86.3h0M64.7 5.2h0M70.3 147.7h0M78.8 138.2h0M186.3 164.6h0M33.4 99.1h0M161.2 44.9h0M122.6 52.4h0M62.7 144.0h0M176.7 20.0h0" stroke="#1d741a" stroke-width="5" stroke-linecap="round" fill="none"/><path d="M55.7 78.1h0M15.4 16.3h0M43.4 189.7h0M88.2 48.3h0M80.6 122.3h0M15.5 43.8h0M98.7 141.7h0M92.6 96.1h0M74.8 178.3h0M92.7 4.1h0M60.4 104.1h0M130.4 82.2h0M55.7 9.0h0M188.5 46.8h0M39.0 81.2h0M178.8 106.5h0M70.3 84.4h0M65.7 122.6h0M85.6 156.5h0M151.1 29.0h0M157.9 19.1h0" stroke="#031004" stroke-width="5" stroke-linecap="round" fill="none"/><path d="M75.6 190.1h0M175.9 146.7h0M114.1 59.9h0M178.5 183.7h0M20.0 121.9h0M69.9 114.8h0M182.1 98.0h0M190.4 133.3h0M76.9 11.8h0M71.4 12.3h0M46.9 96.7h0M132.3 139.8h0" stroke="#041606" stroke-width="3.4" stroke-linecap="round" fill="none"/><path d="M119.8 11.5h0M116.6 176.9h0M125.5 102.7h0M189.5 162.6h0M125.5 87.6h0M80.2 85.1h0M151.5 154.2h0M73.9 172.5h0M136.0 155.0h0M55.6 76.8h0M163.4 142.1h0M123.2 99.0h0M78.8 170.0h0M127.8 11.9h0M72.6 142.9h0" stroke="#031004" stroke-width="6.4" stroke-linecap="round" fill="none"/><path d="M191.8 160.1h0M39.9 10.2h0M169.3 139.5h0M57.5 22.2h0M109.2 40.2h0M98.5 77.8h0M39.7 168.4h0M33.7 172.4h0M167.5 74.7h0M31.9 169.8h0M67.5 77.9h0M97.9 153.0h0M17.3 71.3h0M84.9 30.5h0M109.4 90.0h0M9.7 163.8h0M77.5 16.4h0M172.4 19.9h0" stroke="#031004" stroke-width="3.4" stroke-linecap="round" fill="none"/><path d="M177.5 107.8h0M104.0 94.7h0M83.3 122.2h0M103.9 194.5h0M60.9 14.9h0M130.8 13.1h0M148.0 108.9h0M173.1 88.6h0M97.7 183.1h0M157.5 102.8h0M67.6 42.3h0M84.8 29.8h0M122.9 88.2h0M13.1 128.1h0M129.7 2.5h0M152.4 48.4h0M143.2 112.7h0M93.9 153.6h0" stroke="#2a9a2a" stroke-width="5" stroke-linecap="round" fill="none"/><path d="M53.9 119.5h0M57.0 148.8h0M162.8 36.4h0M10.5 153.7h0M147.3 95.2h0M17.3 160.8h0M12.0 80.5h0M91.9 63.8h0M12.5 13.4h0M150.0 192.3h0M176.8 14.1h0M54.7 26.2h0M76.1 54.6h0M43.1 16.6h0M188.3 71.7h0M23.7 149.9h0" stroke="#082a0c" stroke-width="5" stroke-linecap="round" fill="none"/><path d="M157.1 138.1h0M158.0 163.4h0M38.7 70.4h0M50.8 170.4h0M129.4 119.3h0M58.0 120.8h0M150.1 141.8h0M153.5 50.9h0M112.9 184.7h0M65.4 148.8h0M152.4 102.9h0M19.7 7.2h0M163.4 23.0h0M141.7 131.2h0M130.9 30.5h0M101.1 18.8h0M12.0 130.6h0M68.0 2.9h0M46.7 128.3h0" stroke="#145416" stroke-width="3.4" stroke-linecap="round" fill="none"/><path d="M132.7 114.6h0M148.4 193.2h0M60.5 22.5h0M64.9 67.1h0M134.3 71.3h0M136.2 103.1h0M6.1 176.1h0M110.9 28.2h0M29.8 91.9h0M137.2 165.6h0M81.6 15.4h0M70.5 186.4h0M182.4 39.3h0M155.5 184.9h0M6.3 162.6h0" stroke="#238a20" stroke-width="5" stroke-linecap="round" fill="none"/><path d="M54.8 22.8h0M91.9 2.1h0M93.8 41.3h0M146.0 164.4h0M172.8 42.9h0M177.6 63.2h0M131.8 96.8h0M161.7 119.8h0M18.0 171.0h0M170.4 139.8h0M129.0 153.5h0M66.1 192.3h0M67.9 173.7h0M56.0 146.8h0M101.5 68.4h0M150.9 39.2h0M114.5 129.1h0M185.1 175.6h0M39.9 194.7h0M116.3 20.6h0M21.4 154.4h0" stroke="#145416" stroke-width="5" stroke-linecap="round" fill="none"/><path d="M87.1 126.4h0M175.0 153.7h0M31.5 46.0h0M115.0 168.0h0M27.5 130.9h0M101.1 191.5h0M67.0 82.8h0M9.3 106.4h0M86.3 148.4h0M52.1 73.4h0M20.5 128.9h0M30.3 190.2h0M144.5 73.8h0M148.7 67.6h0M35.2 81.1h0" stroke="#1d741a" stroke-width="6.4" stroke-linecap="round" fill="none"/><path d="M117.8 125.4h0M152.5 104.0h0M129.4 151.2h0M48.3 155.5h0M93.8 136.0h0M55.8 137.9h0M10.7 97.1h0M140.3 49.4h0M182.9 193.8h0M63.1 15.9h0M10.6 42.7h0M17.7 95.9h0" stroke="#041606" stroke-width="5" stroke-linecap="round" fill="none"/><path d="M30.7 147.9h0M193.8 185.1h0M94.3 156.9h0M181.2 174.9h0M40.5 120.7h0M20.8 142.3h0M90.5 147.1h0M67.3 136.2h0M58.4 131.4h0M184.2 176.1h0M96.0 115.8h0" stroke="#238a20" stroke-width="6.4" stroke-linecap="round" fill="none"/><path d="M176.9 9.7h0M28.5 183.1h0M82.6 157.8h0M144.7 153.0h0M42.4 190.2h0M58.3 159.8h0M40.8 77.7h0M34.8 100.7h0M122.1 60.2h0M154.3 45.8h0M132.3 89.2h0" stroke="#145416" stroke-width="6.4" stroke-linecap="round" fill="none"/><path d="M73.6 19.3h0M7.7 11.9h0M110.5 156.2h0M43.2 150.0h0M60.0 77.5h0M146.3 111.1h0M58.7 63.7h0M135.1 130.7h0M2.8 83.7h0M123.3 171.8h0M131.0 84.4h0M106.1 21.6h0M194.0 41.0h0M107.2 161.5h0M41.8 178.0h0M53.4 29.6h0" stroke="#061f0a" stroke-width="6.4" stroke-linecap="round" fill="none"/><path d="M58.0 4.4h0M123.6 35.1h0M75.6 65.0h0M139.8 193.4h0M75.7 111.6h0M46.1 130.3h0M44.3 26.0h0M92.0 120.6h0M145.1 52.7h0M76.2 166.4h0M17.3 100.4h0M63.5 2.9h0M68.6 115.9h0M20.1 60.1h0M96.1 96.0h0M17.5 156.8h0M147.1 137.7h0" stroke="#0b3510" stroke-width="6.4" stroke-linecap="round" fill="none"/><path d="M22.6 122.4h0M116.0 124.1h0M95.0 134.3h0M55.8 49.2h0M97.8 6.9h0M10.3 87.9h0M96.2 110.5h0M162.1 49.5h0M177.6 130.0h0M72.3 59.0h0M11.0 36.0h0M50.9 10.6h0M176.1 62.0h0M165.9 150.3h0" stroke="#082a0c" stroke-width="6.4" stroke-linecap="round" fill="none"/><path d="M117.5 98.8h0M35.7 15.1h0M4.5 120.6h0M32.9 40.1h0M57.2 190.1h0M171.5 81.5h0M27.3 40.3h0M3.0 78.5h0M116.0 157.5h0M73.8 63.1h0M169.7 44.3h0M136.0 107.0h0M45.1 117.7h0M168.6 78.8h0" stroke="#041606" stroke-width="6.4" stroke-linecap="round" fill="none"/><path d="M58.6 42.3h0M182.2 130.1h0M104.8 29.5h0M73.7 105.8h0M171.9 47.9h0M3.6 35.7h0M77.0 181.0h0M131.2 59.2h0M139.7 79.4h0M4.6 113.1h0M40.4 68.1h0M122.1 36.9h0M118.2 136.2h0M121.2 79.4h0M21.9 180.1h0M133.3 16.8h0M187.0 109.8h0M168.1 142.5h0" stroke="#2a9a2a" stroke-width="6.4" stroke-linecap="round" fill="none"/><path d="M87.0 98.9h0M83.2 50.6h0M7.1 90.8h0M95.9 43.4h0M90.5 182.8h0M74.2 9.7h0M20.3 11.2h0M108.1 109.6h0M94.9 81.3h0M169.5 194.9h0M76.1 72.4h0M113.5 55.8h0M125.4 71.9h0M64.3 62.2h0M163.3 79.9h0M9.4 72.5h0M34.4 29.4h0" stroke="#061f0a" stroke-width="5" stroke-linecap="round" fill="none"/><path d="M72.5 84.6h0M131.0 187.2h0M14.2 121.2h0M94.0 51.1h0M151.7 154.4h0M138.5 183.4h0M84.7 177.2h0M186.4 0.1h0M186.5 34.1h0M155.2 46.6h0M25.0 40.9h0M107.4 61.5h0M24.4 111.3h0M103.3 143.7h0M22.2 23.2h0M76.2 112.6h0M15.1 103.3h0" stroke="#1f7c22" stroke-width="6.4" stroke-linecap="round" fill="none"/><path d="M18.6 155.3h0M136.2 97.0h0M117.6 92.5h0M122.9 38.8h0M177.4 103.1h0M32.2 193.7h0M58.0 23.3h0M7.8 79.0h0M90.7 77.0h0M95.7 36.8h0M52.9 50.6h0M111.2 82.4h0M51.9 41.9h0M113.4 63.0h0M23.8 144.8h0M101.0 6.3h0M3.0 73.5h0M176.3 181.1h0M38.3 72.0h0" stroke="#082a0c" stroke-width="3.4" stroke-linecap="round" fill="none"/><path d="M148.8 172.7h0M146.2 127.2h0M145.3 194.2h0M178.8 147.6h0M40.0 179.6h0M16.2 52.9h0M177.2 106.5h0M109.0 126.4h0M119.2 46.1h0M61.0 8.3h0M145.9 102.3h0M77.0 58.4h0M161.6 31.3h0M193.9 160.3h0M39.4 121.8h0M1.4 149.1h0M185.2 105.6h0M9.2 25.6h0M73.1 35.7h0M156.3 100.3h0M33.6 113.8h0M194.7 69.0h0M193.3 168.8h0M103.2 69.4h0M150.8 30.8h0" stroke="#0b3510" stroke-width="3.4" stroke-linecap="round" fill="none"/><path d="M82.6 82.4h0M39.1 91.7h0M61.9 168.4h0M154.9 29.6h0M22.4 34.9h0M95.9 149.2h0M47.2 174.5h0M146.4 94.6h0M134.0 53.5h0M139.8 23.2h0M56.1 143.3h0M78.3 10.2h0M143.1 129.8h0M120.8 67.5h0M54.5 50.7h0M135.6 144.3h0M196.0 128.6h0M68.8 105.0h0M103.5 107.3h0M21.9 170.3h0" stroke="#238a20" stroke-width="3.4" stroke-linecap="round" fill="none"/><path d="M84.2 93.6h0M106.2 14.2h0M87.7 161.1h0M44.4 30.8h0M47.9 113.0h0M101.8 25.5h0M135.5 71.1h0M195.6 164.4h0M35.8 94.8h0M67.9 137.9h0M32.7 127.2h0M49.4 52.9h0M153.2 86.3h0M187.5 69.8h0M171.2 92.6h0M5.8 111.9h0M176.3 50.2h0M72.8 187.8h0" stroke="#1d741a" stroke-width="3.4" stroke-linecap="round" fill="none"/><path d="M2.7 48.0h0M14.9 41.8h0M43.4 11.3h0M154.7 81.7h0M139.3 38.5h0M4.6 68.0h0M166.4 100.4h0M127.8 190.9h0M100.8 2.1h0M36.2 7.5h0M132.6 89.2h0M157.3 49.9h0M48.8 4.0h0" stroke="#2a9a2a" stroke-width="3.4" stroke-linecap="round" fill="none"/><path d="M102.6 183.7h0M186.6 98.4h0M157.1 75.5h0M195.9 143.2h0M35.1 143.9h0M181.4 39.6h0M102.0 181.6h0M188.0 2.2h0M172.6 62.9h0M156.8 167.6h0M194.6 77.4h0M81.3 105.1h0M186.2 21.6h0" stroke="#061f0a" stroke-width="3.4" stroke-linecap="round" fill="none"/><path d="M125.9 137.4h0M189.6 111.3h0M149.9 77.3h0M30.9 163.1h0M99.1 165.7h0M137.2 4.5h0M46.5 48.9h0M33.6 13.2h0M109.2 42.1h0M158.8 155.3h0M20.6 145.5h0M75.8 23.0h0M130.9 56.1h0M110.9 68.4h0" stroke="#1f7c22" stroke-width="5" stroke-linecap="round" fill="none"/><path d="M37.8 26.6h0M69.9 173.2h0M74.5 53.6h0M165.8 137.5h0M93.9 11.6h0M91.6 56.7h0M187.7 109.5h0M61.0 26.9h0M87.0 103.0h0M169.9 9.1h0M36.4 39.2h0" stroke="#145416" stroke-width="3.4" stroke-linecap="round" fill="none"/><path d="M84.5 91.5h0M155.5 96.9h0M132.7 33.6h0M53.4 130.7h0M104.1 123.4h0M112.5 123.2h0M59.0 187.8h0M81.2 141.0h0M174.2 129.9h0M13.0 31.1h0M171.0 130.3h0" stroke="#0b3510" stroke-width="6.4" stroke-linecap="round" fill="none"/><path d="M116.3 145.3h0M98.7 31.4h0M86.8 16.6h0M179.8 134.3h0M122.1 24.6h0M106.1 195.5h0M114.6 183.2h0M8.1 11.4h0M133.5 79.9h0M171.0 183.0h0M99.0 70.4h0M37.5 170.2h0M69.9 187.2h0M36.1 124.5h0M137.3 192.0h0M28.2 79.1h0M132.5 165.3h0M74.2 22.9h0M94.0 41.1h0M76.5 189.9h0M20.1 189.5h0M34.3 16.3h0M195.1 26.1h0M74.0 67.9h0M22.2 7.8h0M52.8 147.8h0" stroke="#2a9a2a" stroke-width="6.4" stroke-linecap="round" fill="none"/><path d="M7.6 28.9h0M65.2 179.1h0M52.7 112.5h0M140.0 8.7h0M177.6 189.6h0M124.0 91.8h0M133.7 167.5h0M60.1 81.9h0M38.9 15.1h0M62.4 101.2h0M50.5 26.1h0M155.6 99.1h0M17.5 19.7h0M161.1 144.0h0M97.1 87.9h0M22.4 125.9h0M86.1 26.6h0M173.8 185.6h0M34.9 154.7h0" stroke="#031004" stroke-width="5" stroke-linecap="round" fill="none"/><path d="M149.4 103.2h0M68.7 195.5h0M11.0 62.6h0M47.3 64.2h0M9.1 139.3h0M103.5 97.1h0M75.0 161.4h0M109.3 76.3h0M195.8 164.5h0M19.2 45.1h0M79.7 127.1h0M97.3 2.3h0M20.3 65.5h0M85.8 98.0h0M25.1 68.8h0M71.2 0.9h0M145.9 145.8h0M118.5 26.4h0M12.2 32.0h0M48.4 125.8h0" stroke="#082a0c" stroke-width="5" stroke-linecap="round" fill="none"/><path d="M183.0 61.4h0M102.4 95.6h0M95.9 136.3h0M22.9 70.5h0M66.0 82.4h0M180.3 117.8h0M182.6 177.8h0M127.3 0.8h0M104.4 20.2h0M106.7 73.6h0M108.4 17.6h0M173.0 181.0h0M50.6 170.4h0M112.6 101.6h0" stroke="#2a9a2a" stroke-width="3.4" stroke-linecap="round" fill="none"/><path d="M81.7 105.9h0M178.6 182.8h0M195.3 89.1h0M76.7 164.6h0M87.1 140.7h0M179.7 163.7h0M179.3 35.4h0M46.8 37.2h0M132.6 113.1h0M161.5 67.5h0M30.7 52.2h0M112.6 24.7h0M161.0 149.9h0M35.6 64.4h0M105.7 96.0h0M164.5 74.8h0M101.1 193.8h0M125.1 169.2h0M59.0 63.6h0M121.5 108.8h0M106.8 4.4h0M183.3 122.0h0M63.5 74.3h0M153.7 92.3h0" stroke="#082a0c" stroke-width="6.4" stroke-linecap="round" fill="none"/><path d="M79.1 137.6h0M74.3 0.3h0M104.2 42.2h0M181.2 98.0h0M80.4 78.2h0M194.3 111.6h0M90.7 72.8h0M169.5 48.8h0M62.2 33.0h0M101.7 191.9h0M96.7 67.4h0M21.3 0.7h0M30.9 111.2h0M46.2 24.2h0M33.7 125.9h0" stroke="#1f7c22" stroke-width="6.4" stroke-linecap="round" fill="none"/><path d="M69.9 178.6h0M111.4 57.7h0M92.7 122.3h0M98.6 67.1h0M71.5 93.7h0M99.8 4.2h0M105.3 4.7h0M138.5 42.4h0M171.5 68.7h0M21.1 128.0h0M76.3 52.5h0M145.4 90.7h0M19.7 156.5h0M58.0 57.7h0M23.4 101.7h0M136.8 30.2h0M125.3 28.8h0M133.4 173.0h0M96.3 95.0h0M189.0 11.6h0" stroke="#145416" stroke-width="6.4" stroke-linecap="round" fill="none"/><path d="M157.1 34.5h0M60.9 36.4h0M151.7 65.3h0M40.6 129.9h0M84.8 10.2h0M87.0 112.8h0M140.1 36.3h0M179.8 132.2h0M58.2 47.9h0M194.3 125.0h0M91.3 109.9h0M78.1 15.1h0M30.8 46.6h0M128.0 25.4h0M17.6 114.0h0M134.9 57.5h0M45.7 43.4h0M150.7 189.3h0M120.9 12.5h0" stroke="#2a9a2a" stroke-width="5" stroke-linecap="round" fill="none"/><path d="M82.1 131.4h0M97.6 10.1h0M142.8 0.6h0M16.2 146.7h0M96.5 74.1h0M80.7 79.1h0M52.9 10.1h0M64.3 175.3h0M163.7 26.9h0M120.8 129.0h0M33.3 142.3h0M18.2 162.3h0M126.8 68.8h0" stroke="#041606" stroke-width="3.4" stroke-linecap="round" fill="none"/><path d="M27.2 26.7h0M142.5 181.1h0M125.2 124.2h0M50.9 120.3h0M128.8 29.1h0M173.8 34.4h0M81.6 33.8h0M153.2 24.2h0M11.9 111.7h0M12.7 171.6h0M167.5 119.8h0M168.7 103.7h0M18.8 146.9h0" stroke="#145416" stroke-width="5" stroke-linecap="round" fill="none"/><path d="M2.4 141.4h0M183.3 8.6h0M116.1 45.1h0M25.8 153.0h0M106.3 51.5h0M179.3 128.5h0M62.8 141.9h0M175.9 52.9h0M81.1 103.1h0M114.7 88.5h0M50.4 126.8h0M47.4 19.6h0" stroke="#082a0c" stroke-width="3.4" stroke-linecap="round" fill="none"/><path d="M194.5 40.6h0M179.6 15.5h0M174.1 11.0h0M159.7 47.0h0M6.6 18.1h0M85.3 41.4h0M44.8 118.4h0M58.7 187.3h0M58.7 2.9h0M160.1 71.0h0M4.4 59.0h0M12.3 99.8h0M182.8 158.0h0M90.6 50.4h0M5.9 62.1h0M67.7 11.0h0M23.0 26.6h0" stroke="#061f0a" stroke-width="5" stroke-linecap="round" fill="none"/><path d="M37.1 150.2h0M118.0 62.6h0M69.8 70.6h0M61.1 173.9h0M2.6 29.1h0M97.9 150.1h0M76.1 93.0h0M70.4 71.6h0M47.5 91.6h0M175.4 131.1h0M33.5 194.3h0M9.9 56.0h0M35.7 75.3h0M138.7 38.8h0M130.9 118.8h0M174.2 180.6h0M195.1 47.5h0M71.8 194.5h0M92.0 41.6h0M132.9 109.3h0M54.1 19.7h0" stroke="#1f7c22" stroke-width="3.4" stroke-linecap="round" fill="none"/><path d="M192.8 142.2h0M127.0 134.5h0M10.7 92.8h0M26.8 153.0h0M118.7 90.2h0M31.8 18.9h0M124.3 145.1h0M75.2 44.2h0M88.3 85.6h0M75.2 138.8h0M65.2 35.9h0M20.6 3.0h0M140.6 103.3h0M31.3 113.8h0" stroke="#0b3510" stroke-width="3.4" stroke-linecap="round" fill="none"/><path d="M51.1 121.3h0M94.0 22.0h0M38.2 124.1h0M170.1 150.7h0M104.4 113.8h0M191.3 186.6h0M14.3 76.6h0M171.0 121.9h0M107.0 33.0h0M179.8 154.5h0M174.0 115.2h0M123.2 54.8h0M36.7 99.2h0M81.1 35.9h0M19.3 7.0h0M93.4 51.6h0M183.4 65.7h0M165.2 178.0h0M80.8 107.1h0M19.9 153.9h0M94.0 66.3h0M121.8 134.0h0M18.7 33.4h0M119.4 171.4h0M166.7 42.4h0" stroke="#238a20" stroke-width="5" stroke-linecap="round" fill="none"/><path d="M129.0 92.3h0M51.8 96.8h0M29.5 108.1h0M160.5 168.5h0M156.1 121.6h0M139.1 13.4h0M5.5 158.1h0M105.8 64.0h0M65.1 78.7h0M46.8 165.5h0M105.3 109.5h0M93.1 73.6h0M183.2 103.5h0M164.9 166.3h0M170.1 119.3h0M120.0 121.9h0M166.4 172.7h0M163.6 192.1h0" stroke="#238a20" stroke-width="6.4" stroke-linecap="round" fill="none"/><path d="M10.2 31.9h0M125.3 21.7h0M62.7 1.4h0M73.6 32.0h0M119.1 143.8h0M125.1 47.2h0M126.0 49.2h0M146.0 175.5h0M105.5 72.3h0M152.3 53.9h0M140.2 79.4h0M115.8 26.3h0" stroke="#041606" stroke-width="6.4" stroke-linecap="round" fill="none"/><path d="M10.2 6.4h0M125.7 190.1h0M75.4 69.3h0M195.1 97.7h0M77.9 108.4h0M141.6 167.9h0M160.4 146.1h0M107.4 116.9h0M137.8 171.0h0M164.5 133.4h0M144.1 60.2h0M175.2 194.2h0M181.0 106.1h0M158.4 51.4h0M191.8 24.5h0M67.9 166.1h0" stroke="#031004" stroke-width="3.4" stroke-linecap="round" fill="none"/><path d="M93.3 81.5h0M115.3 23.9h0M106.2 184.2h0M150.0 22.1h0M62.3 77.9h0M11.6 193.1h0M107.4 172.6h0M102.2 124.0h0M160.3 144.9h0M98.9 156.0h0" stroke="#041606" stroke-width="5" stroke-linecap="round" fill="none"/><path d="M179.2 28.1h0M103.3 105.9h0M69.2 11.4h0M168.4 29.7h0M64.4 10.6h0M10.2 69.6h0M59.6 43.3h0M144.1 122.6h0M8.7 69.2h0M4.1 136.6h0M36.5 46.5h0M140.3 45.6h0M131.6 142.8h0M181.0 186.0h0M126.6 92.7h0M139.0 143.4h0M24.6 108.3h0M130.2 10.6h0M90.1 2.9h0M19.4 186.0h0M71.9 37.3h0M104.7 11.0h0" stroke="#1d741a" stroke-width="5" stroke-linecap="round" fill="none"/><path d="M144.3 41.5h0M3.0 59.6h0M99.7 193.0h0M127.3 60.9h0M27.9 31.8h0M152.9 21.4h0M22.3 27.5h0M45.3 176.4h0M133.8 0.5h0M26.2 116.4h0M162.5 158.0h0M179.6 120.6h0M53.5 71.2h0M99.3 102.9h0" stroke="#0b3510" stroke-width="5" stroke-linecap="round" fill="none"/><path d="M4.8 149.5h0M127.9 91.2h0M103.1 56.5h0M20.7 186.9h0M171.3 181.5h0M131.1 166.6h0M104.5 75.8h0M187.8 63.0h0M189.8 47.0h0M161.6 134.0h0M40.9 23.6h0M8.9 114.0h0M3.8 172.3h0M137.9 128.7h0M39.1 62.2h0M77.8 2.2h0M83.8 166.1h0M195.9 64.3h0M12.3 23.5h0" stroke="#031004" stroke-width="6.4" stroke-linecap="round" fill="none"/><path d="M128.1 3.2h0M52.8 136.1h0M48.4 190.3h0M54.2 120.6h0M134.8 122.9h0M125.8 5.0h0M104.2 25.1h0M9.1 78.3h0M69.1 92.8h0M109.2 19.1h0M80.5 30.6h0M55.8 166.0h0M37.0 61.8h0M112.9 161.5h0" stroke="#1d741a" stroke-width="3.4" stroke-linecap="round" fill="none"/><path d="M31.3 50.9h0M115.0 142.5h0M155.6 144.8h0M106.5 114.3h0M36.1 36.9h0M9.1 165.9h0M102.4 13.8h0M143.8 126.0h0M81.4 134.1h0M56.9 89.3h0M186.8 87.0h0M143.8 111.0h0M164.9 8.6h0M173.5 183.2h0M99.9 70.0h0M121.8 161.4h0M83.3 26.9h0M14.4 87.3h0M44.7 54.6h0" stroke="#1d741a" stroke-width="6.4" stroke-linecap="round" fill="none"/><path d="M60.2 35.8h0M43.1 156.6h0M114.3 78.1h0M98.0 191.9h0M169.1 104.9h0M106.4 188.3h0M171.9 74.7h0M77.1 100.3h0M11.9 173.8h0M188.8 147.3h0M137.6 45.6h0" stroke="#238a20" stroke-width="3.4" stroke-linecap="round" fill="none"/><path d="M129.2 132.9h0M173.7 14.7h0M100.9 60.7h0M115.9 107.1h0M194.0 180.6h0M80.3 74.1h0M167.8 72.9h0M157.6 77.3h0M152.4 96.0h0M85.7 89.5h0M110.3 182.0h0M102.9 26.1h0M187.3 118.1h0M81.6 134.9h0M12.8 68.5h0M142.7 110.1h0M101.5 118.7h0" stroke="#1f7c22" stroke-width="5" stroke-linecap="round" fill="none"/><path d="M173.6 131.0h0M183.4 167.2h0M42.2 163.5h0M121.2 23.1h0M58.5 117.7h0M76.7 115.7h0M137.9 137.1h0M97.9 183.4h0M14.3 149.3h0M132.0 70.3h0M118.7 25.2h0M74.4 31.1h0M186.5 185.0h0M18.9 162.8h0M88.0 27.8h0M67.6 165.6h0M67.8 187.0h0" stroke="#061f0a" stroke-width="6.4" stroke-linecap="round" fill="none"/><path d="M172.1 188.3h0M34.9 23.1h0M11.2 6.7h0M120.9 31.8h0M5.8 31.7h0M178.6 35.0h0M47.7 82.5h0M68.2 127.0h0M141.9 155.0h0M23.8 59.3h0M176.0 169.6h0M47.5 154.2h0M44.4 188.2h0M88.4 133.4h0M151.4 194.2h0M57.9 98.6h0M37.9 15.6h0" stroke="#061f0a" stroke-width="3.4" stroke-linecap="round" fill="none"/><path d="M174.2 34.7h0M111.0 43.5h0M121.4 133.6h0M99.5 36.2h0M184.9 68.1h0M156.4 121.9h0M127.0 187.5h0M190.4 180.0h0M143.8 69.9h0M85.8 16.7h0M129.6 114.8h0M118.4 2.2h0" stroke="#0b3510" stroke-width="3.4" stroke-linecap="round" fill="none"/><path d="M167.6 72.4h0M86.8 40.9h0M188.6 64.1h0M71.7 137.5h0M181.8 127.2h0M163.3 183.7h0M167.1 190.4h0M193.5 7.3h0M141.6 115.0h0M103.1 180.0h0M12.1 51.6h0M15.5 65.8h0M99.2 80.5h0M42.8 15.2h0M84.6 166.2h0M138.2 81.0h0M35.9 101.5h0M184.6 5.7h0M141.9 177.5h0M50.9 174.0h0" stroke="#031004" stroke-width="3.4" stroke-linecap="round" fill="none"/><path d="M19.9 2.1h0M185.2 88.7h0M151.4 63.9h0M69.2 176.5h0M78.8 17.5h0M105.8 30.3h0M26.5 52.4h0M184.3 92.8h0M157.7 76.5h0M158.1 104.2h0M178.2 94.4h0M181.1 44.4h0M90.4 41.6h0M0.4 189.9h0M155.4 144.7h0M172.3 189.1h0M19.7 108.1h0M20.0 146.4h0" stroke="#041606" stroke-width="6.4" stroke-linecap="round" fill="none"/><path d="M127.7 88.6h0M120.2 192.7h0M124.8 29.6h0M158.7 127.9h0M23.2 5.3h0M35.7 56.2h0M119.0 50.6h0M101.9 11.2h0M141.3 41.2h0M79.7 188.4h0M108.4 193.1h0M14.8 64.3h0M55.0 110.9h0M139.5 111.9h0M58.9 191.9h0M51.6 132.4h0M74.1 1.7h0" stroke="#2a9a2a" stroke-width="3.4" stroke-linecap="round" fill="none"/><path d="M68.6 174.1h0M59.4 47.6h0M143.2 130.9h0M16.0 164.0h0M166.1 176.8h0M133.5 110.0h0M3.4 87.9h0M195.4 89.1h0M143.8 144.5h0M163.3 185.3h0M27.0 53.2h0M105.5 164.2h0M193.4 72.5h0M153.6 152.2h0" stroke="#061f0a" stroke-width="5" stroke-linecap="round" fill="none"/><path d="M134.0 50.2h0M82.9 28.3h0M43.9 31.0h0M13.4 164.1h0M132.8 101.1h0M183.6 141.6h0M81.0 116.2h0M63.2 47.0h0M106.7 184.4h0M77.6 147.9h0M35.1 191.6h0M78.3 141.3h0M18.0 120.8h0M148.9 98.6h0M11.7 119.1h0M129.3 13.8h0M162.2 178.5h0" stroke="#041606" stroke-width="5" stroke-linecap="round" fill="none"/><path d="M108.1 117.5h0M16.2 185.6h0M123.5 112.5h0M91.6 126.7h0M6.1 93.7h0M170.9 85.2h0M142.2 54.9h0M35.5 163.5h0M130.2 194.8h0M147.0 15.5h0M195.0 69.7h0M74.7 190.9h0M195.9 115.6h0M180.6 44.2h0M23.2 104.6h0M60.5 176.7h0M150.3 96.3h0M107.7 57.2h0" stroke="#2a9a2a" stroke-width="6.4" stroke-linecap="round" fill="none"/><path d="M107.3 170.0h0M185.8 94.1h0M40.8 52.6h0M114.0 47.5h0M68.3 47.6h0M153.9 99.2h0M11.2 55.8h0M177.5 155.1h0M151.2 105.7h0M164.8 179.6h0M93.3 82.2h0M80.9 190.9h0M86.9 13.7h0M114.9 88.7h0M13.2 76.2h0M57.8 101.6h0" stroke="#2a9a2a" stroke-width="5" stroke-linecap="round" fill="none"/><path d="M45.5 11.4h0M100.3 28.8h0M195.7 104.4h0M83.9 103.1h0M31.1 89.6h0M172.1 67.9h0M45.4 181.2h0M169.1 195.7h0M123.8 173.2h0M115.6 171.4h0M78.6 66.0h0M113.4 48.1h0M185.6 179.7h0M150.7 99.7h0M3.4 171.8h0" stroke="#031004" stroke-width="5" stroke-linecap="round" fill="none"/><path d="M49.9 139.7h0M94.0 21.5h0M45.0 170.3h0M139.6 83.9h0M128.3 40.8h0M0.9 69.0h0M62.8 10.3h0M154.9 141.2h0M16.6 139.7h0M16.4 78.4h0M35.1 119.2h0M60.4 50.0h0" stroke="#145416" stroke-width="5" stroke-linecap="round" fill="none"/><path d="M69.8 24.2h0M150.9 56.3h0M138.3 164.8h0M89.7 96.8h0M12.2 113.1h0M194.9 140.0h0M80.0 57.3h0M36.4 160.4h0M137.2 112.9h0M98.6 24.8h0M68.8 157.9h0M97.1 168.3h0M152.3 7.5h0M159.1 36.1h0" stroke="#061f0a" stroke-width="3.4" stroke-linecap="round" fill="none"/><path d="M94.1 142.5h0M61.8 96.2h0M192.6 51.7h0M108.1 82.0h0M37.6 188.7h0M111.7 156.1h0M175.6 62.0h0M81.0 167.1h0M117.8 121.5h0M93.6 168.7h0M88.4 9.9h0M192.1 74.5h0M174.1 24.8h0M120.1 48.6h0M105.7 169.6h0M147.7 192.8h0M78.2 128.1h0M0.1 104.4h0M50.9 71.1h0M94.2 104.2h0" stroke="#238a20" stroke-width="5" stroke-linecap="round" fill="none"/><path d="M147.0 84.3h0M157.4 84.1h0M99.1 73.8h0M112.8 42.4h0M71.7 97.2h0M57.8 105.3h0M154.3 8.2h0M9.5 106.7h0M7.9 156.4h0M186.8 174.3h0M128.9 156.0h0M25.5 121.0h0M145.1 64.8h0M55.8 141.9h0" stroke="#061f0a" stroke-width="6.4" stroke-linecap="round" fill="none"/><path d="M10.8 64.8h0M22.9 145.9h0M117.0 114.8h0M78.4 22.8h0M96.9 152.1h0M94.7 179.7h0M147.6 57.6h0M15.6 62.9h0M2.8 111.7h0M98.4 161.8h0M25.5 172.9h0M138.3 42.6h0M139.2 89.5h0M154.2 5.4h0" stroke="#082a0c" stroke-width="3.4" stroke-linecap="round" fill="none"/><path d="M54.8 3.8h0M9.9 34.7h0M27.5 96.2h0M145.1 127.3h0M16.9 154.6h0M118.4 195.3h0M79.1 15.0h0M79.9 95.9h0M25.0 179.1h0M103.9 144.9h0M164.5 96.8h0" stroke="#1d741a" stroke-width="6.4" stroke-linecap="round" fill="none"/><path d="M178.1 87.9h0M155.3 117.5h0M171.2 177.9h0M3.7 159.3h0M91.4 3.4h0M14.7 195.3h0M148.1 44.1h0M96.0 86.0h0M153.4 124.3h0M165.2 59.8h0M192.1 70.7h0M2.9 165.7h0M10.9 176.4h0M7.7 3.0h0M54.7 10.4h0M119.4 25.6h0" stroke="#1f7c22" stroke-width="3.4" stroke-linecap="round" fill="none"/><path d="M187.1 117.4h0M195.3 89.2h0M112.3 177.1h0M134.7 30.5h0M132.9 15.5h0M117.8 160.5h0M78.0 137.4h0M60.6 13.2h0M69.0 145.1h0M159.5 83.8h0M34.7 156.7h0M58.9 61.9h0M191.6 189.2h0M185.3 13.4h0M156.6 57.5h0M193.0 73.6h0M96.6 173.9h0M190.3 149.4h0M191.5 184.6h0M142.0 194.9h0M90.5 13.1h0M146.0 98.4h0" stroke="#145416" stroke-width="3.4" stroke-linecap="round" fill="none"/><path d="M96.4 49.6h0M112.6 176.3h0M1.9 142.1h0M124.1 152.9h0M5.1 102.8h0M183.3 183.9h0M143.5 146.6h0M142.9 110.7h0M178.1 110.9h0M25.2 109.0h0M170.9 58.4h0M5.4 5.5h0M12.4 117.6h0M105.3 73.2h0M137.4 107.7h0M126.3 156.9h0M121.0 120.4h0M105.4 178.5h0M16.0 88.7h0M176.3 165.5h0M120.2 68.6h0M118.9 182.0h0M29.3 158.9h0" stroke="#1d741a" stroke-width="5" stroke-linecap="round" fill="none"/><path d="M34.8 16.6h0M45.5 140.6h0M48.5 20.1h0M163.4 34.9h0M26.5 117.3h0M131.3 184.4h0M172.1 113.3h0M143.6 168.8h0M135.6 15.5h0M103.1 43.0h0M178.8 193.3h0M26.0 59.1h0M52.2 184.9h0M158.9 4.6h0M144.3 67.2h0M137.0 36.9h0M87.6 167.0h0M133.1 167.3h0M49.1 0.0h0M4.4 91.0h0M78.6 59.7h0M65.9 109.0h0M23.6 103.1h0M16.7 44.3h0M157.4 120.0h0" stroke="#1f7c22" stroke-width="6.4" stroke-linecap="round" fill="none"/><path d="M100.2 70.2h0M176.8 1.3h0M91.6 99.2h0M50.3 11.5h0M129.5 56.9h0M20.4 183.9h0M190.0 150.8h0M8.1 126.5h0M154.4 109.5h0M28.7 189.3h0M64.0 63.0h0M127.5 134.0h0M144.3 104.9h0M77.9 153.6h0M25.0 136.0h0M69.1 118.7h0" stroke="#0b3510" stroke-width="5" stroke-linecap="round" fill="none"/><path d="M17.7 132.3h0M109.9 186.2h0M55.7 184.9h0M102.0 72.3h0M13.2 45.7h0M172.6 193.2h0M144.6 78.9h0M73.3 5.4h0M17.9 152.3h0M119.8 90.9h0M15.9 109.7h0M135.4 78.8h0M162.2 133.4h0M163.6 181.7h0M115.9 81.9h0M105.2 100.2h0M192.3 98.5h0M31.3 91.9h0M39.9 2.6h0M19.3 127.3h0" stroke="#1f7c22" stroke-width="5" stroke-linecap="round" fill="none"/><path d="M132.0 47.0h0M21.5 8.5h0M59.1 72.2h0M71.4 64.3h0M169.2 33.8h0M92.8 82.6h0M83.0 69.2h0M189.3 57.1h0M56.0 133.2h0M12.1 35.7h0M11.1 183.4h0M174.8 128.9h0M141.7 138.6h0M73.1 47.7h0M105.2 66.0h0M14.6 122.5h0M103.5 32.3h0M186.2 193.0h0M66.2 139.9h0M104.3 142.3h0M1.8 120.8h0M158.8 121.0h0M126.7 184.5h0M168.9 144.1h0M3.7 117.9h0M102.0 83.8h0" stroke="#1d741a" stroke-width="3.4" stroke-linecap="round" fill="none"/><path d="M151.5 1.3h0M165.7 147.0h0M124.9 35.6h0M95.1 49.8h0M75.8 165.9h0M26.0 106.3h0M116.2 58.4h0M110.5 141.8h0M173.9 42.0h0" stroke="#041606" stroke-width="3.4" stroke-linecap="round" fill="none"/><path d="M125.1 124.5h0M187.5 165.4h0M137.1 158.2h0M91.8 1.2h0M159.0 181.5h0M71.8 103.4h0M141.3 67.9h0M12.0 16.1h0M159.5 92.4h0M147.8 194.3h0M131.1 145.4h0M7.3 43.9h0M83.0 90.0h0M164.5 5.7h0M26.1 91.9h0M142.3 133.1h0M54.9 166.6h0" stroke="#031004" stroke-width="6.4" stroke-linecap="round" fill="none"/><path d="M131.7 70.9h0M142.9 47.1h0M36.3 102.3h0M126.5 80.6h0M114.9 139.7h0M171.2 35.2h0M88.0 53.3h0M80.2 127.9h0M86.4 75.7h0M1.1 75.1h0M31.7 123.0h0M165.1 30.5h0M74.4 34.9h0M75.9 61.3h0M20.1 62.2h0M68.1 168.4h0M177.5 165.1h0M92.2 125.4h0M28.2 24.4h0" stroke="#082a0c" stroke-width="6.4" stroke-linecap="round" fill="none"/><path d="M75.0 195.7h0M147.2 195.1h0M64.3 90.6h0M172.7 3.4h0M90.2 124.7h0M1.5 147.8h0M51.5 94.0h0M28.2 78.3h0M72.5 11.8h0M162.7 87.6h0M51.2 57.6h0M99.5 22.2h0M184.2 86.4h0M119.7 100.2h0M152.4 141.3h0M55.5 177.3h0M101.6 129.0h0" stroke="#082a0c" stroke-width="5" stroke-linecap="round" fill="none"/><path d="M181.6 20.6h0M175.0 155.8h0M126.2 84.5h0M68.5 94.5h0M7.0 1.4h0M175.1 153.0h0M89.4 8.4h0M62.7 59.5h0M56.9 132.9h0M4.6 4.4h0M72.5 186.8h0" stroke="#238a20" stroke-width="3.4" stroke-linecap="round" fill="none"/><path d="M46.6 67.5h0M97.2 33.5h0M158.6 142.2h0M15.8 183.3h0M47.5 140.3h0M91.9 53.2h0M153.8 56.4h0M31.5 143.9h0M118.8 118.5h0M37.6 117.2h0M102.7 23.4h0M29.2 127.2h0M22.3 56.2h0M12.8 179.5h0M48.2 45.3h0M110.5 93.2h0M135.1 155.2h0" stroke="#238a20" stroke-width="6.4" stroke-linecap="round" fill="none"/><path d="M189.0 72.1h0M73.5 64.0h0M18.5 142.7h0M36.9 90.2h0M39.5 172.3h0M40.6 106.1h0M97.3 109.1h0M128.6 151.4h0" stroke="#0b3510" stroke-width="6.4" stroke-linecap="round" fill="none"/><path d="M102.1 140.1h0M56.7 130.6h0M96.9 195.0h0M165.6 47.8h0M147.3 66.3h0M100.7 100.3h0M85.9 27.3h0M92.3 2.1h0M33.4 14.5h0M75.1 42.7h0M62.9 9.2h0M156.7 86.3h0M85.9 159.3h0M143.0 69.6h0M50.6 128.6h0M189.8 3.6h0M187.3 93.8h0M112.7 127.0h0M147.0 108.6h0M37.4 193.2h0M7.6 104.8h0M42.9 13.9h0" stroke="#145416" stroke-width="6.4" stroke-linecap="round" fill="none"/><path d="M42.8 29.7h0M108.5 148.7h0M83.0 52.2h0M143.9 167.9h0M81.4 44.1h0M79.9 173.6h0M163.4 112.7h0M162.7 56.6h0M71.1 31.2h0M103.0 130.1h0M165.3 166.1h0M17.0 73.5h0M65.6 29.4h0M95.1 34.7h0M50.0 14.2h0M59.3 124.1h0M66.5 69.9h0M175.0 75.7h0M105.2 3.8h0M132.9 142.4h0M41.0 41.2h0M151.3 168.7h0M85.1 26.0h0M69.1 45.0h0M166.2 190.0h0M188.4 46.2h0M127.2 126.4h0M15.4 159.9h0M14.9 23.8h0" stroke="#0e1ea8" stroke-width="4" stroke-linecap="round" fill="none"/><path d="M62.1 191.8h0M186.3 192.2h0M129.9 91.9h0M89.8 74.8h0M51.6 142.3h0M80.0 145.1h0M20.0 144.4h0M180.2 125.0h0M155.7 165.3h0M121.7 157.9h0M110.4 76.2h0M45.6 88.1h0M101.7 34.8h0M99.1 11.8h0M58.0 29.5h0M105.8 171.7h0M83.1 91.4h0M133.7 68.9h0M158.9 151.8h0M35.7 103.0h0M168.8 165.9h0M184.7 140.8h0M189.6 51.1h0M82.0 86.1h0M196.0 12.6h0M194.5 87.3h0M8.6 62.9h0M130.6 148.5h0" stroke="#1428dc" stroke-width="4" stroke-linecap="round" fill="none"/><path d="M87.6 7.5h0M172.9 8.4h0M134.6 11.3h0M30.0 71.6h0M195.6 18.0h0M175.5 151.9h0M113.9 12.1h0M174.0 35.4h0M9.3 55.2h0M151.9 151.2h0M172.8 102.2h0M184.0 144.3h0M154.5 179.0h0M45.3 120.6h0M139.4 174.5h0M43.2 123.8h0M39.8 71.3h0M77.7 155.7h0M191.8 87.3h0M167.1 72.7h0M123.8 42.9h0M11.7 75.3h0M9.0 189.3h0M71.5 193.0h0M193.7 91.0h0M126.4 140.9h0M128.3 48.8h0M69.6 74.8h0M6.1 41.5h0M193.9 48.9h0M57.3 85.7h0M157.9 127.1h0M193.1 138.1h0M98.7 90.4h0" stroke="#0e1ea8" stroke-width="2.8" stroke-linecap="round" fill="none"/><path d="M178.9 67.0h0M80.7 159.5h0M170.2 99.9h0M151.0 94.9h0M102.5 147.6h0M134.7 179.1h0M28.4 165.4h0M23.6 125.8h0M35.0 184.0h0M22.9 184.7h0M47.5 191.7h0M169.0 136.7h0M103.0 79.3h0M16.2 62.9h0M123.1 188.1h0M102.3 135.4h0M7.8 162.0h0M16.7 25.1h0M121.5 115.5h0M32.7 68.0h0M162.0 52.3h0M136.7 93.1h0M34.7 28.1h0M146.8 78.3h0M168.8 154.7h0M110.5 195.1h0M148.0 5.5h0M16.6 182.6h0M97.2 149.0h0M129.4 110.7h0M53.8 45.2h0M73.5 84.7h0M21.8 40.3h0M84.0 45.3h0M154.4 58.5h0M126.5 112.3h0M36.7 103.0h0M76.7 52.8h0M160.5 128.6h0M140.3 70.6h0M193.3 12.7h0M32.1 90.6h0" stroke="#1428dc" stroke-width="2.8" stroke-linecap="round" fill="none"/><path d="M37.5 153.5h0M26.4 189.9h0M76.2 60.5h0M53.8 94.4h0M97.1 173.0h0M147.1 13.5h0M72.9 151.8h0M73.2 58.4h0M62.5 39.6h0M31.9 177.4h0M54.6 139.9h0M158.4 131.6h0M37.4 68.8h0M70.5 195.9h0M193.4 79.9h0M88.0 105.9h0M159.7 139.0h0M11.9 74.5h0M53.3 42.8h0M136.1 109.1h0M137.7 110.0h0M30.8 171.5h0M53.4 122.0h0" stroke="#0e1ea8" stroke-width="2.8" stroke-linecap="round" fill="none"/><path d="M121.1 44.4h0M71.0 79.8h0M156.5 65.7h0M64.7 154.2h0M148.8 31.4h0M181.4 117.6h0M74.4 12.1h0M36.4 164.0h0M130.4 121.7h0M47.4 61.7h0M134.9 70.5h0M25.7 8.7h0M102.9 42.0h0M128.6 145.5h0M69.4 64.5h0M107.8 146.6h0M6.8 134.0h0M9.3 167.5h0M59.2 187.2h0M18.5 164.6h0M46.6 111.3h0M65.1 10.2h0M37.3 166.8h0M38.8 103.7h0M105.3 190.6h0M43.3 34.3h0M56.1 74.0h0M11.3 7.6h0M78.1 87.2h0M135.8 164.2h0M158.5 31.5h0M189.7 162.2h0M141.1 43.6h0M10.2 9.7h0M122.5 76.1h0M83.2 186.7h0" stroke="#1428dc" stroke-width="2.8" stroke-linecap="round" fill="none"/><path d="M125.1 53.4h0M49.7 56.5h0M191.8 158.1h0M55.0 106.7h0M27.9 22.4h0M137.5 13.1h0M188.9 116.3h0M97.0 55.5h0M27.3 13.4h0M25.8 2.1h0M72.4 22.0h0M20.8 184.6h0M31.1 166.9h0M15.8 92.6h0M10.9 12.4h0M100.8 169.5h0M43.1 28.8h0M59.6 92.5h0M108.6 64.0h0M64.1 68.7h0M59.8 4.5h0M192.7 109.8h0M102.1 56.2h0M84.2 195.6h0M135.8 31.9h0M55.6 0.4h0M124.9 117.1h0M107.1 85.2h0M15.1 92.8h0M24.9 76.5h0M42.6 47.2h0M129.3 48.5h0M10.6 100.9h0M50.7 102.0h0M158.1 107.4h0M13.0 52.8h0M55.5 125.7h0M155.9 170.7h0M161.4 109.6h0M94.2 13.3h0M80.8 83.5h0M30.6 114.1h0M43.9 86.1h0" stroke="#1428dc" stroke-width="4" stroke-linecap="round" fill="none"/><path d="M43.0 138.5h0M45.9 119.0h0M107.4 126.1h0M19.5 41.3h0M177.0 142.9h0M103.3 31.6h0M78.4 67.0h0M157.0 88.3h0M57.8 166.1h0M159.7 44.2h0M175.1 68.6h0M168.9 59.5h0M128.1 26.4h0M72.6 150.2h0M193.7 42.6h0M134.5 130.1h0M29.3 3.8h0M51.9 25.6h0M16.8 174.3h0M34.1 137.1h0M130.5 191.4h0M67.1 178.0h0M107.3 144.4h0M122.9 116.9h0M26.8 171.2h0M60.4 20.9h0M80.9 136.4h0M81.7 119.7h0M54.4 49.4h0M172.8 139.8h0M178.6 157.7h0" stroke="#0e1ea8" stroke-width="4" stroke-linecap="round" fill="none"/><path d="M135.4 111.0h0M179.9 189.9h0M109.2 166.2h0M60.8 178.7h0M175.7 160.6h0M106.1 8.0h0M195.6 60.7h0M36.9 80.0h0M9.9 191.0h0M119.8 110.9h0M134.6 134.6h0M131.2 182.8h0M162.2 46.3h0M86.2 119.3h0M125.5 124.1h0M146.9 76.4h0M153.5 117.7h0M70.8 65.1h0M150.4 35.8h0M135.0 97.7h0M71.1 29.8h0M126.7 96.9h0M141.5 53.2h0M121.9 73.4h0M122.8 59.7h0M26.7 1.9h0M84.3 35.3h0M108.4 104.8h0M7.3 178.1h0M51.3 27.1h0M151.8 156.1h0M125.5 56.7h0M84.7 13.4h0M145.5 106.6h0M171.0 192.4h0M17.0 149.5h0M165.5 175.9h0" stroke="#0e1ea8" stroke-width="4" stroke-linecap="round" fill="none"/><path d="M156.9 21.6h0M75.6 160.3h0M130.3 145.8h0M147.3 160.2h0M22.2 154.6h0M83.7 159.8h0M11.9 186.2h0M55.0 1.1h0M107.6 193.7h0M111.3 12.1h0M112.5 96.8h0M118.8 177.6h0M16.4 148.3h0M173.9 83.3h0M160.5 153.1h0M148.4 189.5h0M73.7 172.3h0M107.8 87.6h0M125.3 8.6h0M106.3 105.3h0M75.7 127.3h0M123.0 126.5h0M52.2 194.6h0M182.1 124.8h0M193.2 164.9h0M148.3 17.5h0M38.0 26.0h0M156.8 98.5h0M30.6 52.1h0M69.6 125.1h0M190.2 77.8h0" stroke="#1428dc" stroke-width="2.8" stroke-linecap="round" fill="none"/><path d="M38.6 2.1h0M75.3 124.9h0M74.7 131.7h0M105.7 77.7h0M40.7 69.0h0M184.0 51.6h0M23.4 163.1h0M91.4 113.8h0M106.5 50.1h0M100.4 129.3h0M157.5 72.4h0M10.7 170.4h0M101.2 66.8h0M112.8 29.0h0M8.0 92.7h0M91.2 192.2h0M123.9 66.7h0M175.8 194.1h0M191.4 1.9h0M41.4 76.8h0M5.3 138.6h0M100.8 110.1h0M81.2 57.2h0M66.0 131.1h0M151.7 24.3h0M130.9 124.7h0M104.0 26.4h0M126.8 187.4h0M24.9 75.1h0M180.1 38.0h0M164.2 48.2h0M28.1 76.0h0M151.4 106.0h0M66.8 3.3h0M171.0 36.9h0M144.4 49.1h0M62.3 66.5h0" stroke="#0e1ea8" stroke-width="2.8" stroke-linecap="round" fill="none"/><path d="M66.3 117.8h0M117.9 181.4h0M29.4 87.7h0M194.4 9.1h0M118.1 40.2h0M155.7 89.1h0M36.9 142.2h0M147.8 48.3h0M44.7 10.4h0M168.2 154.2h0M85.4 16.2h0M45.4 124.3h0M47.5 80.4h0M175.2 194.3h0M53.6 160.6h0M162.6 72.2h0M180.0 166.7h0M174.2 95.8h0M154.4 0.7h0M110.4 150.2h0M176.8 31.2h0M111.3 115.8h0M25.6 98.2h0M63.3 25.2h0M188.2 184.3h0M164.8 7.4h0M51.3 165.1h0M189.5 120.7h0" stroke="#1428dc" stroke-width="4" stroke-linecap="round" fill="none"/></g><ellipse cx="16.6" cy="31.5" rx="5.8" ry="4.6" fill="#f5160f"/><ellipse cx="33.2" cy="29.8" rx="4.6" ry="4.1" fill="#f5160f"/><ellipse cx="36.5" cy="50.6" rx="6.6" ry="3.3" fill="#f5160f"/><ellipse cx="44.8" cy="62.2" rx="5.0" ry="4.1" fill="#f5160f"/><ellipse cx="58.0" cy="70.4" rx="5.0" ry="3.3" fill="#f5160f"/><ellipse cx="18.2" cy="80.4" rx="8.3" ry="6.3" fill="#f5160f"/><ellipse cx="63.0" cy="90.3" rx="7.5" ry="4.1" fill="#f5160f"/><ellipse cx="26.5" cy="97.0" rx="4.1" ry="3.6" fill="#f5160f"/><ellipse cx="53.0" cy="106.9" rx="5.0" ry="4.6" fill="#f5160f"/><ellipse cx="74.6" cy="110.2" rx="6.6" ry="6.3" fill="#f5160f"/><ellipse cx="56.4" cy="126.8" rx="8.3" ry="5.0" fill="#f5160f"/><ellipse cx="84.5" cy="131.8" rx="3.3" ry="4.1" fill="#f5160f"/><ellipse cx="44.8" cy="153.3" rx="5.0" ry="5.0" fill="#f5160f"/><ellipse cx="64.6" cy="169.9" rx="8.3" ry="5.0" fill="#f5160f"/><ellipse cx="86.2" cy="176.5" rx="5.0" ry="5.0" fill="#f5160f"/><ellipse cx="33.2" cy="110.2" rx="3.0" ry="3.0" fill="#f5160f"/><ellipse cx="74.6" cy="5.8" rx="6.6" ry="4.1" fill="#f5160f"/><ellipse cx="82.0" cy="23.2" rx="4.1" ry="3.6" fill="#f5160f"/><ellipse cx="98.6" cy="15.7" rx="4.1" ry="4.1" fill="#f5160f"/><ellipse cx="99.5" cy="37.3" rx="3.6" ry="4.1" fill="#f5160f"/><ellipse cx="137.6" cy="29.8" rx="6.6" ry="4.1" fill="#f5160f"/><ellipse cx="150.8" cy="27.3" rx="5.0" ry="3.3" fill="#f5160f"/><ellipse cx="182.3" cy="7.5" rx="5.8" ry="6.6" fill="#f5160f"/><ellipse cx="185.6" cy="25.7" rx="6.6" ry="5.0" fill="#f5160f"/><ellipse cx="182.3" cy="42.3" rx="6.6" ry="7.5" fill="#f5160f"/><ellipse cx="155.8" cy="42.3" rx="3.3" ry="3.0" fill="#f5160f"/><ellipse cx="192.3" cy="19.1" rx="3.6" ry="4.1" fill="#f5160f"/><ellipse cx="121.0" cy="58.8" rx="4.1" ry="4.1" fill="#f5160f"/><ellipse cx="130.9" cy="85.4" rx="5.0" ry="4.6" fill="#f5160f"/><ellipse cx="155.8" cy="82.0" rx="5.0" ry="4.6" fill="#f5160f"/><ellipse cx="164.1" cy="95.3" rx="5.0" ry="5.0" fill="#f5160f"/><ellipse cx="132.6" cy="101.9" rx="5.0" ry="4.6" fill="#f5160f"/><ellipse cx="159.1" cy="113.5" rx="5.8" ry="5.0" fill="#f5160f"/><ellipse cx="189.0" cy="93.7" rx="5.8" ry="5.0" fill="#f5160f"/><ellipse cx="140.9" cy="70.4" rx="3.3" ry="3.0" fill="#f5160f"/><ellipse cx="134.3" cy="133.4" rx="6.6" ry="5.0" fill="#f5160f"/><ellipse cx="162.4" cy="143.4" rx="5.8" ry="5.0" fill="#f5160f"/><ellipse cx="126.0" cy="146.7" rx="4.1" ry="4.1" fill="#f5160f"/><ellipse cx="142.5" cy="158.3" rx="4.1" ry="4.1" fill="#f5160f"/><ellipse cx="167.4" cy="161.6" rx="6.6" ry="6.6" fill="#f5160f"/><ellipse cx="157.5" cy="157.5" rx="3.3" ry="3.3" fill="#f5160f"/><ellipse cx="177.4" cy="164.9" rx="3.3" ry="3.3" fill="#f5160f"/><ellipse cx="191.4" cy="146.7" rx="5.0" ry="5.0" fill="#f5160f"/><ellipse cx="10.8" cy="192.3" rx="9.9" ry="3.3" fill="#f5160f"/><ellipse cx="144.2" cy="191.4" rx="4.1" ry="4.1" fill="#f5160f"/></g></g></g>
<g transform="translate(720,288.8)"><clipPath id="cl4"><rect width="196" height="196"/></clipPath><g clip-path="url(#cl4)"><rect width="196" height="196" fill="#08200f"/><g filter="url(#blr)"><path d="M163.5 31.2h0M20.2 12.9h0M187.9 103.0h0M104.7 54.1h0M94.3 97.7h0M36.9 188.3h0M51.4 161.7h0M22.6 114.6h0M0.7 66.7h0M110.9 125.3h0M159.1 179.4h0M3.7 127.1h0M95.2 124.2h0M85.3 150.3h0M191.5 63.4h0M38.5 112.0h0M185.8 69.2h0M37.2 93.7h0M147.3 71.5h0M49.9 160.0h0" stroke="#072214" stroke-width="4.2" stroke-linecap="round" fill="none"/><path d="M146.2 93.9h0M27.8 77.8h0M125.8 154.1h0M111.9 178.7h0M139.1 96.8h0M182.4 105.1h0M141.0 85.9h0M185.0 36.4h0M169.3 20.2h0M69.3 29.5h0M89.9 125.4h0M27.4 188.8h0M129.1 192.2h0M6.5 140.4h0M171.3 121.4h0M107.0 88.9h0M116.4 105.3h0M36.5 74.3h0M4.7 89.6h0M163.8 121.6h0M64.3 194.1h0M105.5 160.5h0M54.5 66.1h0M59.9 3.3h0M92.5 76.5h0M50.3 53.2h0M108.5 112.8h0M75.5 105.5h0" stroke="#1f8c4e" stroke-width="4.2" stroke-linecap="round" fill="none"/><path d="M30.3 160.2h0M172.8 117.9h0M14.7 113.7h0M52.9 69.2h0M41.9 7.9h0M179.0 34.0h0M47.0 117.5h0M67.9 148.0h0M123.9 160.4h0M104.5 66.0h0M169.5 25.5h0M153.1 60.9h0M166.0 29.9h0M85.2 55.9h0M22.9 174.1h0M34.1 135.6h0M145.7 92.3h0M191.0 187.8h0M113.7 179.0h0M86.9 110.0h0M84.4 103.3h0M98.8 48.9h0M152.7 117.6h0" stroke="#04110a" stroke-width="4.2" stroke-linecap="round" fill="none"/><path d="M8.3 195.5h0M145.9 148.4h0M187.0 83.0h0M41.6 36.1h0M166.1 174.6h0M40.6 97.5h0M176.8 146.8h0M3.5 152.9h0M111.3 48.0h0M189.0 48.7h0M112.2 62.1h0M176.0 170.5h0M35.2 106.0h0M84.3 82.3h0M21.7 78.7h0M102.3 91.8h0M114.4 152.5h0M54.3 130.7h0M16.8 139.7h0M162.7 21.6h0M122.9 145.5h0M40.7 83.5h0M25.2 178.9h0M194.8 8.2h0" stroke="#12592f" stroke-width="8" stroke-linecap="round" fill="none"/><path d="M135.2 124.5h0M73.5 133.9h0M158.1 177.6h0M6.4 152.4h0M65.4 69.4h0M20.4 120.9h0M60.4 22.0h0M133.1 151.3h0M135.9 98.9h0M128.1 109.4h0M120.8 44.1h0M162.6 27.2h0M68.1 87.0h0M90.3 166.8h0M111.9 37.4h0M107.0 56.4h0" stroke="#1f8c4e" stroke-width="6" stroke-linecap="round" fill="none"/><path d="M95.0 36.6h0M67.9 117.1h0M124.7 124.6h0M30.3 2.6h0M6.7 97.7h0M36.6 179.0h0M174.7 165.9h0M105.3 22.7h0M82.1 187.2h0M90.5 124.1h0M139.7 104.2h0M118.3 67.3h0M30.9 58.8h0M52.0 139.2h0M138.7 187.0h0" stroke="#04110a" stroke-width="6" stroke-linecap="round" fill="none"/><path d="M86.6 187.5h0M94.7 164.1h0M34.4 139.5h0M83.7 156.3h0M28.5 108.4h0M86.5 88.1h0M164.8 60.5h0M125.6 151.1h0M154.6 182.0h0M94.5 7.4h0M135.4 123.0h0M39.2 6.2h0M122.7 32.2h0M32.2 103.9h0M38.8 153.0h0M81.4 128.2h0M85.8 31.1h0M98.1 9.0h0M17.8 80.6h0" stroke="#156634" stroke-width="8" stroke-linecap="round" fill="none"/><path d="M35.4 33.3h0M35.6 168.1h0M106.9 11.8h0M152.8 122.9h0M194.9 178.7h0M192.9 145.1h0M166.1 43.3h0M135.6 94.1h0M162.3 100.3h0M93.7 125.2h0M171.1 170.6h0M156.7 30.7h0M28.2 191.4h0M104.5 115.8h0M2.1 29.6h0M64.2 158.2h0M2.4 35.7h0M108.4 49.2h0M181.8 61.1h0M161.7 87.3h0" stroke="#1c8448" stroke-width="4.2" stroke-linecap="round" fill="none"/><path d="M101.4 76.3h0M85.6 121.0h0M98.1 188.6h0M160.8 27.0h0M139.5 183.0h0M117.0 53.0h0M115.0 175.2h0M80.7 88.5h0M173.3 157.1h0M82.9 12.1h0M184.2 14.1h0M192.2 15.8h0M120.0 26.1h0M149.3 171.7h0M35.3 55.7h0M127.6 43.5h0M11.8 32.8h0M71.7 66.2h0" stroke="#030b06" stroke-width="6" stroke-linecap="round" fill="none"/><path d="M99.0 46.3h0M112.0 62.5h0M195.3 45.6h0M56.7 72.7h0M190.0 128.4h0M54.7 1.1h0M166.5 166.0h0M120.8 1.7h0M129.0 92.7h0M136.5 100.1h0M19.5 192.2h0M17.0 121.1h0M6.4 95.0h0M171.8 52.3h0M191.1 159.4h0M154.9 73.3h0M58.3 80.6h0M73.0 118.1h0M17.5 109.6h0M55.9 145.8h0M10.2 85.7h0M168.6 193.2h0M3.1 121.4h0" stroke="#051a12" stroke-width="4.2" stroke-linecap="round" fill="none"/><path d="M50.4 79.5h0M113.0 195.5h0M154.4 95.8h0M47.3 51.7h0M61.7 138.3h0M168.6 15.6h0M184.9 178.4h0M89.9 42.3h0M133.1 21.6h0M26.3 11.9h0M10.1 119.0h0M132.6 23.9h0M23.9 169.7h0M184.6 157.4h0M97.6 56.5h0M102.1 168.5h0M62.0 1.6h0M83.6 30.2h0" stroke="#1c8448" stroke-width="6" stroke-linecap="round" fill="none"/><path d="M169.7 46.0h0M129.1 6.8h0M134.3 187.0h0M116.4 126.2h0M100.9 185.2h0M158.8 183.2h0M36.6 29.7h0M59.3 62.4h0M178.7 16.6h0M102.1 141.5h0M145.8 60.1h0M94.4 185.3h0M59.4 22.5h0M43.6 10.0h0M123.9 103.8h0M120.3 157.8h0M114.5 102.9h0M142.8 91.3h0M141.1 90.7h0" stroke="#1a7d45" stroke-width="6" stroke-linecap="round" fill="none"/><path d="M118.6 146.2h0M157.4 96.1h0M122.4 148.5h0M74.8 102.7h0M74.3 184.4h0M34.2 75.4h0M122.9 174.5h0M4.9 73.7h0M153.3 155.4h0M181.9 8.1h0M123.4 168.0h0M87.5 188.5h0M52.6 76.4h0M23.3 39.9h0M52.9 64.9h0M59.7 170.7h0M170.3 148.3h0M139.3 195.0h0M79.2 171.0h0M146.1 32.6h0M79.9 20.9h0M75.5 163.5h0" stroke="#072214" stroke-width="8" stroke-linecap="round" fill="none"/><path d="M115.7 173.1h0M99.4 46.7h0M42.9 31.1h0M77.5 122.7h0M75.7 26.8h0M114.3 127.9h0M1.8 118.7h0M171.1 101.4h0M141.0 14.2h0M12.4 79.9h0M79.6 164.7h0M40.9 165.0h0M87.3 178.2h0M73.8 135.0h0M166.8 52.7h0M88.1 23.1h0M165.7 14.7h0" stroke="#1f8c4e" stroke-width="8" stroke-linecap="round" fill="none"/><path d="M30.6 142.3h0M12.8 129.0h0M72.6 0.6h0M52.9 11.5h0M44.5 143.9h0M13.5 178.7h0M71.0 154.5h0M154.2 119.0h0M156.7 53.9h0M100.4 82.9h0M181.2 70.7h0M87.7 74.8h0M77.7 172.4h0M166.3 157.3h0M31.1 66.0h0M53.8 117.5h0M117.7 40.8h0" stroke="#12592f" stroke-width="6" stroke-linecap="round" fill="none"/><path d="M59.3 184.9h0M13.3 100.3h0M60.4 124.2h0M179.5 171.9h0M167.0 159.7h0M68.0 93.0h0M133.5 31.1h0M168.4 61.1h0M159.7 103.8h0M48.8 69.3h0M102.2 58.4h0M111.9 122.6h0M187.8 161.2h0M175.7 5.9h0M89.6 164.1h0M189.7 101.1h0M28.5 93.3h0" stroke="#176f3c" stroke-width="8" stroke-linecap="round" fill="none"/><path d="M155.6 45.5h0M88.8 108.2h0M128.4 24.8h0M94.0 96.4h0M181.8 102.5h0M104.8 22.7h0M48.2 195.4h0M182.0 60.4h0M187.5 166.2h0M34.7 147.0h0M72.9 79.3h0M68.7 39.1h0M71.5 117.1h0M45.4 125.6h0M80.5 162.0h0M190.5 189.5h0M118.2 29.1h0M163.2 9.5h0M132.3 186.5h0M24.7 168.1h0M135.7 37.9h0M179.4 95.9h0" stroke="#176f3c" stroke-width="4.2" stroke-linecap="round" fill="none"/><path d="M170.1 127.7h0M44.2 9.6h0M48.4 138.0h0M133.0 72.9h0M6.4 45.6h0M44.4 100.9h0M96.0 52.0h0M149.1 39.8h0M97.9 137.5h0M174.8 128.7h0M126.3 10.6h0M126.6 61.7h0M140.5 50.9h0M145.3 76.8h0M124.6 96.9h0M16.4 122.5h0M90.2 154.6h0M67.4 67.2h0M180.3 101.7h0M188.7 143.0h0" stroke="#156634" stroke-width="4.2" stroke-linecap="round" fill="none"/><path d="M13.9 109.8h0M99.0 146.1h0M63.5 101.3h0M143.3 118.7h0M37.0 16.1h0M181.3 173.2h0M121.6 92.3h0M118.3 21.9h0M87.8 140.8h0M33.1 149.1h0M94.7 82.4h0M141.3 132.1h0M83.6 153.1h0M148.9 169.2h0M181.7 24.5h0M115.6 181.3h0M96.7 8.1h0M185.9 105.4h0M74.8 13.8h0M95.4 165.5h0" stroke="#1c8448" stroke-width="8" stroke-linecap="round" fill="none"/><path d="M136.0 127.2h0M39.4 180.9h0M57.2 187.1h0M62.3 95.0h0M77.7 174.0h0M24.1 47.0h0M40.3 154.7h0M1.8 165.2h0M177.3 182.8h0M17.1 118.6h0M17.4 165.2h0M124.6 113.2h0M85.4 126.5h0M62.5 83.6h0M117.6 4.1h0M3.2 175.4h0M177.9 147.2h0M91.6 55.8h0M45.0 180.3h0M149.8 147.7h0M43.1 149.9h0M124.8 195.9h0M101.7 84.7h0" stroke="#051a12" stroke-width="6" stroke-linecap="round" fill="none"/><path d="M187.8 79.8h0M10.0 15.5h0M190.2 153.2h0M78.4 20.8h0M88.6 59.8h0M192.1 28.4h0M53.1 160.9h0M31.6 34.8h0" stroke="#051a12" stroke-width="8" stroke-linecap="round" fill="none"/><path d="M147.3 73.5h0M152.1 141.1h0M110.4 12.3h0M13.7 23.0h0M176.0 51.3h0M126.8 157.4h0M187.6 182.7h0M190.3 135.6h0M133.3 39.2h0M57.2 41.4h0M169.2 179.8h0M52.1 187.2h0" stroke="#176f3c" stroke-width="6" stroke-linecap="round" fill="none"/><path d="M194.0 93.0h0M96.3 107.9h0M186.8 176.3h0M194.2 32.6h0M6.3 176.5h0M9.6 146.2h0M109.1 71.3h0M14.6 64.2h0M112.5 71.2h0M81.6 44.5h0M192.7 168.6h0M69.8 121.4h0M85.6 194.6h0M70.4 70.4h0M23.5 7.7h0M15.9 97.3h0M53.5 33.5h0M20.1 93.1h0M162.5 108.9h0M21.8 94.9h0" stroke="#030b06" stroke-width="4.2" stroke-linecap="round" fill="none"/><path d="M41.2 91.0h0M145.0 173.0h0M135.7 58.7h0M41.5 192.9h0M150.3 186.4h0M26.5 67.6h0M42.5 77.6h0M44.6 161.0h0M75.6 40.6h0M161.3 36.5h0M124.9 90.0h0M95.2 73.9h0M129.6 192.8h0" stroke="#072214" stroke-width="6" stroke-linecap="round" fill="none"/><path d="M29.0 190.7h0M114.1 15.8h0M97.0 133.4h0M174.0 170.8h0M71.0 73.3h0M112.9 28.8h0M148.2 166.7h0M157.2 55.3h0M88.6 8.8h0M154.3 73.4h0M162.3 116.5h0M21.0 177.9h0M123.4 25.5h0" stroke="#1a7d45" stroke-width="8" stroke-linecap="round" fill="none"/><path d="M113.9 166.5h0M64.2 44.6h0M173.0 47.9h0M130.2 57.8h0M90.8 177.9h0M121.1 35.3h0M160.9 90.9h0M23.2 131.3h0M175.1 174.5h0M76.4 103.1h0M166.0 30.3h0M111.9 160.4h0M72.8 117.8h0M79.3 84.6h0M4.6 11.4h0M170.1 146.0h0M53.8 119.8h0" stroke="#156634" stroke-width="6" stroke-linecap="round" fill="none"/><path d="M73.6 48.5h0M121.8 3.9h0M10.8 72.6h0M100.7 43.8h0M51.8 179.6h0M117.8 33.0h0M92.0 154.9h0M128.2 4.9h0M168.4 108.0h0M23.4 87.5h0M115.2 59.7h0M190.3 33.1h0M82.7 88.5h0M106.2 85.2h0M155.1 175.7h0M153.0 121.3h0M81.1 24.6h0M84.2 27.2h0M24.8 36.1h0M94.0 151.4h0" stroke="#030b06" stroke-width="8" stroke-linecap="round" fill="none"/><path d="M72.7 114.7h0M76.0 169.4h0M61.3 61.1h0M133.5 127.0h0M148.2 118.0h0M32.5 21.8h0M34.0 112.3h0M28.6 183.5h0M189.4 156.9h0M188.0 175.6h0M50.8 136.0h0M156.4 138.7h0M110.9 126.4h0M43.6 17.5h0M170.0 88.2h0M129.2 162.7h0M181.4 158.3h0M174.9 53.7h0M45.7 136.4h0M114.9 102.9h0M24.5 100.1h0" stroke="#1a7d45" stroke-width="4.2" stroke-linecap="round" fill="none"/><path d="M132.1 157.4h0M110.1 86.1h0M77.3 170.6h0M120.8 63.8h0M11.7 159.8h0M167.0 175.9h0M96.9 59.7h0M170.2 66.0h0M170.9 175.1h0M121.1 176.4h0M90.2 92.6h0M139.4 189.8h0M151.1 33.9h0M65.4 77.9h0M184.6 167.3h0M136.2 181.2h0M86.9 111.5h0M187.0 87.2h0M13.0 5.5h0M61.8 12.9h0M85.8 137.6h0M13.7 73.3h0M139.6 23.4h0M186.1 94.6h0" stroke="#12592f" stroke-width="4.2" stroke-linecap="round" fill="none"/><path d="M49.1 39.0h0M104.4 123.1h0M131.7 169.8h0M86.3 59.2h0M165.8 37.2h0M74.4 191.4h0M83.9 11.2h0M78.7 143.1h0M160.8 43.6h0M54.2 167.4h0M89.2 180.6h0M36.1 76.3h0M158.3 115.3h0M83.9 112.4h0M178.9 61.7h0M186.9 70.1h0M81.7 90.1h0" stroke="#04110a" stroke-width="8" stroke-linecap="round" fill="none"/><path d="M156.6 144.7h0M84.8 147.9h0M20.4 159.1h0M120.1 191.1h0M109.1 139.1h0M88.6 193.0h0M185.5 32.0h0M147.8 43.3h0M39.2 95.4h0M75.9 33.7h0M94.6 148.7h0M185.3 43.4h0M71.0 154.0h0M48.5 142.3h0M63.8 3.7h0M36.8 89.8h0M118.7 160.9h0M169.6 12.5h0M68.0 5.2h0M176.7 170.5h0" stroke="#1c8448" stroke-width="8" stroke-linecap="round" fill="none"/><path d="M42.5 128.9h0M84.5 170.7h0M175.1 87.2h0M39.2 166.8h0M140.7 9.6h0M170.9 81.0h0M104.0 62.1h0M123.4 157.8h0M172.9 105.4h0M56.3 104.1h0M90.4 37.6h0M171.7 146.6h0" stroke="#04110a" stroke-width="4.2" stroke-linecap="round" fill="none"/><path d="M151.3 96.4h0M131.4 115.9h0M170.4 14.4h0M164.7 89.4h0M114.0 69.4h0M16.4 42.4h0M126.7 63.1h0M172.4 51.0h0M89.9 155.2h0M160.9 29.5h0M156.4 108.1h0M23.4 111.7h0M1.8 78.0h0M43.4 149.2h0M118.0 159.7h0M137.6 11.6h0M49.1 109.3h0M114.0 27.1h0" stroke="#1f8c4e" stroke-width="4.2" stroke-linecap="round" fill="none"/><path d="M72.7 129.6h0M143.9 140.9h0M156.2 93.1h0M187.6 103.1h0M116.2 131.3h0M140.3 38.4h0M135.5 93.5h0M92.8 182.0h0M170.0 124.9h0M138.7 71.2h0M85.6 159.0h0M96.6 82.4h0M111.8 141.2h0M152.9 94.6h0M99.4 125.8h0M97.2 154.0h0M10.7 70.0h0M86.8 25.0h0M81.5 180.4h0M176.5 118.6h0M65.0 15.6h0" stroke="#12592f" stroke-width="8" stroke-linecap="round" fill="none"/><path d="M143.6 85.0h0M158.1 152.2h0M120.1 82.0h0M80.1 70.8h0M116.0 169.4h0M188.6 83.8h0M10.0 79.7h0M164.6 176.1h0M103.8 15.7h0M185.8 106.4h0M165.3 126.1h0M154.2 144.7h0" stroke="#1c8448" stroke-width="4.2" stroke-linecap="round" fill="none"/><path d="M186.7 15.8h0M28.3 21.3h0M169.8 115.6h0M171.1 149.8h0M154.6 85.9h0M57.3 138.4h0M174.7 100.5h0M10.0 104.6h0M110.8 189.6h0M144.1 175.5h0M188.0 185.3h0M50.5 155.6h0M48.5 110.7h0M103.4 155.0h0M168.1 130.1h0M193.6 189.8h0M39.0 43.1h0M19.1 33.1h0M191.9 173.7h0" stroke="#1f8c4e" stroke-width="6" stroke-linecap="round" fill="none"/><path d="M105.4 89.5h0M182.2 68.4h0M169.8 170.9h0M114.7 35.2h0M149.7 105.3h0M7.3 110.2h0M177.3 188.8h0M37.7 108.8h0M118.5 5.9h0M52.3 9.6h0M183.9 7.7h0M127.1 19.8h0M125.8 37.6h0M27.3 169.9h0M190.4 182.2h0M56.6 129.8h0M74.5 85.3h0M153.1 148.7h0M128.3 161.5h0M4.8 122.4h0M161.9 96.0h0M51.3 182.2h0" stroke="#051a12" stroke-width="8" stroke-linecap="round" fill="none"/><path d="M138.9 165.7h0M16.2 91.3h0M142.8 84.7h0M184.7 147.3h0M5.8 130.3h0M86.4 108.5h0M154.8 181.3h0M140.9 188.7h0M53.6 113.2h0M41.0 53.8h0M104.7 53.7h0M137.3 124.5h0M19.4 157.3h0M50.1 126.2h0M167.1 55.4h0M61.4 186.7h0M71.8 42.6h0" stroke="#1c8448" stroke-width="6" stroke-linecap="round" fill="none"/><path d="M64.0 63.5h0M53.2 173.5h0M190.1 69.0h0M176.5 131.5h0M16.0 121.5h0M34.8 97.9h0M18.2 111.7h0M91.8 157.5h0M150.1 24.4h0M92.5 88.5h0M11.2 87.9h0M151.6 189.6h0M82.7 175.1h0M11.1 166.9h0M27.6 133.1h0M73.6 61.1h0M25.1 4.7h0M181.5 42.0h0" stroke="#04110a" stroke-width="8" stroke-linecap="round" fill="none"/><path d="M192.5 110.9h0M136.1 107.8h0M49.9 94.2h0M127.6 21.8h0M151.0 20.9h0M109.6 55.0h0M123.2 6.8h0M22.6 113.2h0M131.3 174.4h0M65.9 175.0h0M40.1 112.1h0" stroke="#1f8c4e" stroke-width="8" stroke-linecap="round" fill="none"/><path d="M91.6 32.8h0M85.6 107.3h0M6.5 75.8h0M80.8 122.5h0M123.7 121.5h0M84.9 83.2h0M193.8 0.9h0M94.4 163.7h0M114.4 142.8h0M169.5 94.8h0M160.7 70.3h0M14.9 161.2h0M0.5 117.0h0M163.4 61.9h0M47.1 156.3h0M114.8 52.7h0M95.5 191.0h0M48.2 52.0h0M103.3 189.7h0M56.3 132.4h0" stroke="#156634" stroke-width="8" stroke-linecap="round" fill="none"/><path d="M66.3 92.0h0M45.2 17.9h0M130.2 4.4h0M7.0 58.2h0M40.5 77.9h0M30.0 133.0h0M115.4 85.3h0M2.5 43.6h0M150.6 102.1h0M32.5 74.5h0M128.2 193.1h0M176.5 175.7h0M189.1 184.6h0M21.0 169.1h0M150.9 119.9h0M28.2 163.5h0M65.2 154.2h0M17.9 37.5h0M170.9 179.9h0M114.9 99.8h0" stroke="#12592f" stroke-width="4.2" stroke-linecap="round" fill="none"/><path d="M29.4 6.5h0M20.8 28.0h0M149.3 134.1h0M67.1 82.4h0M30.8 125.9h0M138.5 63.7h0M182.8 169.1h0M65.0 166.2h0M142.7 86.2h0M41.3 19.6h0M36.9 12.3h0M148.3 168.0h0M154.1 184.0h0M181.6 43.4h0M80.3 71.7h0M64.9 76.0h0M7.6 45.3h0M163.9 51.3h0" stroke="#051a12" stroke-width="6" stroke-linecap="round" fill="none"/><path d="M157.3 24.2h0M182.5 37.3h0M97.2 171.8h0M163.6 69.0h0M107.0 165.4h0M61.9 70.4h0M72.9 156.4h0M170.1 156.3h0M157.5 173.9h0M71.6 156.2h0M82.1 106.7h0M75.7 123.4h0M176.8 7.5h0M162.1 188.5h0M58.1 52.9h0M16.7 77.8h0M46.9 80.1h0M101.6 104.0h0M0.6 120.5h0M48.2 167.1h0M32.0 172.8h0M76.1 114.3h0M89.5 10.1h0M124.7 8.0h0M153.9 13.2h0M19.5 4.2h0M3.7 79.5h0M165.7 138.8h0M9.7 64.2h0" stroke="#176f3c" stroke-width="8" stroke-linecap="round" fill="none"/><path d="M72.8 88.6h0M83.4 181.8h0M189.4 69.7h0M2.2 90.2h0M37.3 73.9h0M142.7 105.1h0M161.4 1.6h0M18.8 165.0h0M9.7 142.5h0M51.8 52.0h0M94.9 191.6h0M146.8 54.9h0M166.8 117.8h0M63.8 67.6h0M179.9 92.9h0M138.0 59.9h0" stroke="#1a7d45" stroke-width="8" stroke-linecap="round" fill="none"/><path d="M111.8 144.0h0M88.5 179.1h0M42.5 158.6h0M149.3 179.7h0M126.1 138.1h0M12.8 27.4h0M24.0 107.9h0M69.7 53.1h0M66.1 32.2h0M2.5 192.8h0M50.9 163.4h0M60.1 35.1h0M111.3 176.2h0M174.0 90.2h0M124.7 116.0h0M170.6 60.1h0M3.8 108.7h0M76.7 23.4h0" stroke="#072214" stroke-width="8" stroke-linecap="round" fill="none"/><path d="M54.6 50.5h0M171.5 129.3h0M104.2 40.0h0M18.3 150.8h0M85.7 104.2h0M150.7 125.4h0M62.6 46.7h0M67.4 74.3h0M121.5 150.8h0M195.9 168.4h0M196.0 5.6h0M60.1 155.4h0" stroke="#176f3c" stroke-width="6" stroke-linecap="round" fill="none"/><path d="M54.4 39.2h0M49.3 160.9h0M48.0 133.9h0M158.7 15.8h0M28.7 24.1h0M81.4 194.2h0M6.1 131.5h0M1.0 131.2h0M43.1 83.5h0M109.6 52.6h0M151.6 155.0h0M23.3 39.4h0M18.8 157.1h0M151.8 98.1h0M2.1 103.9h0M35.2 96.2h0M65.7 117.7h0M46.2 2.6h0M77.6 184.8h0" stroke="#030b06" stroke-width="4.2" stroke-linecap="round" fill="none"/><path d="M193.1 79.4h0M27.7 92.4h0M12.2 52.1h0M13.4 171.5h0M59.8 188.6h0M116.9 13.1h0M12.6 16.4h0M122.9 4.8h0M77.0 146.5h0M175.9 81.9h0M3.1 30.4h0M21.4 44.4h0M97.3 11.1h0M110.3 43.3h0M52.3 115.0h0M24.9 97.4h0M94.0 53.1h0M191.6 171.2h0M185.7 96.9h0M155.4 113.4h0" stroke="#072214" stroke-width="6" stroke-linecap="round" fill="none"/><path d="M125.9 39.1h0M171.0 163.9h0M157.5 76.4h0M39.5 1.9h0M62.4 88.8h0M113.0 124.0h0M132.2 154.9h0M102.3 56.0h0M91.7 78.8h0M156.8 75.6h0M125.1 118.4h0M88.2 189.4h0M67.1 4.5h0M15.9 186.1h0M75.5 157.9h0M25.7 195.9h0M154.3 137.6h0M45.1 16.2h0M80.9 4.6h0M121.5 137.0h0M121.9 12.4h0" stroke="#156634" stroke-width="6" stroke-linecap="round" fill="none"/><path d="M189.3 177.6h0M104.0 26.7h0M194.6 43.7h0M97.3 118.8h0M109.7 117.2h0M141.7 190.0h0M29.8 38.6h0M78.9 27.4h0M11.0 113.2h0M146.6 107.5h0M179.3 94.9h0M59.1 188.1h0M84.8 73.3h0M35.7 146.2h0M103.3 89.5h0M53.1 102.0h0M14.2 55.5h0" stroke="#030b06" stroke-width="8" stroke-linecap="round" fill="none"/><path d="M189.1 147.9h0M139.4 30.0h0M43.0 183.4h0M118.8 6.2h0M108.8 70.0h0M121.5 151.1h0M40.7 21.7h0M177.5 48.8h0M193.8 146.9h0M4.9 38.8h0M51.8 37.8h0M30.5 164.2h0M82.2 143.1h0M164.7 116.1h0M18.3 169.7h0M44.6 16.0h0M64.3 12.6h0" stroke="#1a7d45" stroke-width="6" stroke-linecap="round" fill="none"/><path d="M156.4 149.6h0M104.0 164.2h0M167.0 7.3h0M52.9 32.0h0M14.2 180.5h0M41.3 122.8h0M14.5 114.3h0M150.7 21.4h0M83.6 188.2h0M157.9 56.7h0M148.5 80.7h0M172.6 78.7h0M173.9 103.5h0M194.4 126.4h0M38.2 56.5h0M80.2 142.7h0M125.0 45.2h0M147.5 145.1h0M61.7 140.5h0M122.3 111.2h0M95.2 41.2h0M43.2 73.8h0M92.5 46.1h0M4.2 106.4h0" stroke="#030b06" stroke-width="6" stroke-linecap="round" fill="none"/><path d="M143.5 86.2h0M66.4 25.9h0M179.7 139.1h0M26.0 131.9h0M23.5 129.3h0M108.1 49.3h0M43.4 168.5h0M36.9 1.5h0M80.6 182.1h0M129.5 127.4h0M177.6 174.8h0M173.8 110.0h0M28.3 155.3h0M41.0 10.1h0M190.3 4.5h0M40.0 145.1h0M103.4 161.4h0M75.7 53.4h0M108.4 67.9h0M127.6 3.7h0M43.7 165.0h0M132.4 124.2h0M195.8 71.9h0" stroke="#12592f" stroke-width="6" stroke-linecap="round" fill="none"/><path d="M27.6 122.8h0M175.5 139.5h0M133.5 41.9h0M151.0 124.5h0M17.5 63.4h0M136.4 106.9h0M2.7 101.5h0M155.0 110.3h0M97.2 117.1h0M105.9 154.7h0M42.8 65.0h0M175.3 27.6h0M38.0 73.1h0M116.9 155.8h0M188.0 126.3h0M154.5 111.3h0M186.3 68.9h0M78.2 188.8h0M59.5 12.8h0M171.3 136.2h0M107.5 178.5h0M140.7 12.3h0M24.7 17.1h0" stroke="#1a7d45" stroke-width="4.2" stroke-linecap="round" fill="none"/><path d="M59.6 0.1h0M162.4 120.5h0M15.8 70.2h0M108.4 90.0h0M27.4 134.6h0M97.3 30.7h0M57.7 167.3h0M66.3 24.8h0M120.6 43.2h0M41.9 145.6h0M85.0 168.3h0M177.3 174.4h0M17.5 182.9h0M123.9 160.1h0M27.3 160.3h0M43.0 77.8h0M171.3 163.1h0M88.5 130.4h0M140.3 73.6h0M19.5 110.7h0M152.7 98.5h0M17.2 41.7h0M130.5 68.3h0M6.8 151.2h0" stroke="#176f3c" stroke-width="4.2" stroke-linecap="round" fill="none"/><path d="M181.1 34.5h0M16.7 97.5h0M62.4 194.3h0M94.4 65.6h0M138.5 7.9h0M159.4 165.5h0M23.4 17.9h0M98.5 3.9h0M80.3 111.6h0M33.7 183.5h0M3.8 139.2h0M8.9 55.9h0M88.0 100.0h0M74.1 177.9h0M165.6 166.3h0M11.6 32.4h0M39.2 151.1h0" stroke="#072214" stroke-width="4.2" stroke-linecap="round" fill="none"/><path d="M73.0 124.8h0M6.5 151.2h0M86.5 1.7h0M84.2 86.9h0M91.4 46.8h0M35.7 135.9h0M179.0 118.4h0M46.9 168.7h0M193.3 194.6h0M83.4 149.4h0M121.4 76.1h0M4.3 89.6h0M164.1 193.4h0M192.4 166.4h0M30.8 163.0h0M165.0 126.3h0M78.7 119.7h0" stroke="#051a12" stroke-width="4.2" stroke-linecap="round" fill="none"/><path d="M123.7 162.4h0M9.1 154.7h0M143.7 3.0h0M55.1 102.6h0M107.5 162.9h0M77.0 6.3h0M116.1 117.1h0M19.8 79.8h0M3.7 154.0h0M100.8 77.7h0M77.1 175.2h0M7.1 68.5h0M83.9 186.9h0M174.2 54.2h0M164.9 6.8h0M14.3 35.4h0" stroke="#156634" stroke-width="4.2" stroke-linecap="round" fill="none"/><path d="M136.0 54.6h0M176.7 59.8h0M5.6 17.1h0M38.9 64.8h0M167.2 74.7h0M99.0 170.0h0M45.0 117.6h0M121.9 49.7h0M33.8 177.9h0M162.8 10.9h0M82.2 137.0h0M192.6 86.1h0M117.8 123.8h0M39.4 131.2h0M100.7 64.3h0M14.3 161.5h0M48.0 161.2h0M148.3 154.3h0M140.5 162.5h0M178.4 45.0h0M47.5 5.0h0M54.9 30.1h0M0.1 118.5h0M60.5 161.6h0M48.6 107.2h0" stroke="#04110a" stroke-width="6" stroke-linecap="round" fill="none"/><path d="M158.8 76.7h0M9.2 17.4h0M97.1 73.7h0M105.1 29.1h0M173.5 113.4h0M105.4 5.1h0M187.3 172.4h0M169.0 125.7h0M194.7 162.8h0M58.3 69.3h0M153.4 126.3h0M89.7 145.0h0M182.7 168.6h0M89.4 11.7h0M103.6 78.8h0M97.5 73.4h0M61.4 34.6h0M138.7 86.1h0M66.1 107.1h0M25.1 80.4h0" stroke="#1f8c4e" stroke-width="6" stroke-linecap="round" fill="none"/><path d="M90.3 133.8h0M187.5 169.0h0M149.9 84.4h0M53.4 57.7h0M115.1 69.2h0M120.0 181.1h0M47.9 155.5h0M49.3 79.1h0M189.8 105.5h0M83.8 49.4h0M62.6 168.9h0M57.5 148.3h0M179.4 72.3h0" stroke="#04110a" stroke-width="4.2" stroke-linecap="round" fill="none"/><path d="M162.5 194.6h0M120.1 167.0h0M63.7 75.7h0M167.1 187.8h0M188.6 8.0h0M99.4 91.7h0M144.8 163.2h0M9.6 57.9h0M69.2 157.5h0M157.9 20.0h0M133.4 143.1h0M98.0 74.2h0M1.5 24.6h0M93.6 170.6h0M24.0 173.5h0M57.1 176.8h0M154.6 52.5h0M64.5 59.4h0M25.0 32.6h0" stroke="#030b06" stroke-width="6" stroke-linecap="round" fill="none"/><path d="M168.8 121.7h0M105.7 159.7h0M110.0 138.1h0M24.4 3.9h0M194.2 120.2h0M128.5 21.8h0M174.8 114.0h0M35.1 28.2h0M195.9 174.7h0M179.2 73.0h0M156.2 165.6h0M141.0 151.1h0M121.7 69.3h0M156.7 164.6h0M128.8 155.3h0M102.1 156.0h0M167.8 103.2h0M37.6 62.0h0M182.2 78.9h0M131.4 81.5h0" stroke="#12592f" stroke-width="6" stroke-linecap="round" fill="none"/><path d="M179.5 148.1h0M151.3 19.6h0M170.5 170.3h0M100.9 97.2h0M34.1 191.5h0M43.4 48.5h0M175.5 122.2h0M83.1 82.0h0M67.3 89.0h0M114.4 47.3h0M182.7 59.4h0M9.8 47.9h0M192.2 66.0h0M59.9 81.6h0M168.0 143.8h0M55.4 163.8h0M149.2 123.5h0M62.8 26.0h0" stroke="#04110a" stroke-width="8" stroke-linecap="round" fill="none"/><path d="M6.4 165.9h0M39.2 84.4h0M60.0 107.5h0M155.3 76.4h0M35.8 13.5h0M62.7 144.7h0M65.6 21.6h0M103.8 17.0h0M30.3 157.6h0M22.2 148.8h0M144.4 2.6h0" stroke="#1c8448" stroke-width="8" stroke-linecap="round" fill="none"/><path d="M77.6 170.7h0M128.2 53.9h0M59.0 5.1h0M169.9 193.0h0M160.0 179.3h0M13.4 132.7h0M195.8 73.3h0M152.7 152.3h0M113.1 92.2h0M149.2 104.5h0M193.8 11.2h0M57.3 133.6h0M192.3 188.3h0M4.9 187.7h0" stroke="#1c8448" stroke-width="4.2" stroke-linecap="round" fill="none"/><path d="M85.6 109.1h0M14.5 93.5h0M30.0 34.6h0M155.7 172.6h0M138.9 120.0h0M86.1 66.7h0M20.5 116.8h0M21.7 24.6h0M25.1 41.0h0M100.7 43.9h0M79.6 63.2h0M26.0 51.1h0M11.9 175.2h0M183.1 51.1h0M169.0 174.0h0M189.6 0.9h0M120.0 63.7h0M54.2 162.4h0M152.8 138.1h0M21.9 164.7h0M116.9 127.0h0M1.3 4.3h0M70.9 161.6h0M169.2 10.9h0M114.6 104.7h0M60.0 43.7h0M7.3 148.6h0M166.3 188.7h0M86.7 191.2h0M92.6 178.5h0M37.2 182.7h0" stroke="#04110a" stroke-width="6" stroke-linecap="round" fill="none"/><path d="M19.5 55.7h0M117.0 190.9h0M75.7 54.9h0M85.5 4.1h0M0.4 81.0h0M167.5 66.2h0M57.4 109.7h0M103.7 63.9h0M42.8 84.7h0M15.2 128.1h0M10.7 65.9h0M111.4 10.5h0M89.6 70.3h0M73.3 75.5h0M188.1 41.0h0M8.1 93.3h0M121.8 70.5h0M125.0 3.4h0M48.0 116.4h0M117.3 63.6h0M50.5 126.2h0M111.6 97.6h0M193.3 102.9h0M40.5 155.9h0" stroke="#1a7d45" stroke-width="8" stroke-linecap="round" fill="none"/><path d="M162.0 95.5h0M190.8 189.6h0M189.2 142.2h0M78.0 181.7h0M107.0 194.4h0M20.6 13.9h0M56.1 12.4h0M126.7 44.2h0M173.5 114.7h0M160.5 45.7h0M110.2 129.4h0M185.4 81.9h0M34.5 88.3h0M78.0 0.7h0M188.3 46.8h0M13.5 66.0h0M101.6 187.4h0M179.0 9.5h0M84.0 123.1h0" stroke="#12592f" stroke-width="8" stroke-linecap="round" fill="none"/><path d="M120.1 79.3h0M55.9 166.1h0M41.0 42.5h0M132.2 64.1h0M31.5 186.6h0M90.7 174.6h0M42.0 8.6h0M150.7 148.2h0M3.0 131.7h0M54.9 132.7h0M109.5 103.4h0M157.6 105.4h0M191.7 37.1h0M172.8 59.7h0M16.6 0.1h0M159.9 165.4h0" stroke="#12592f" stroke-width="4.2" stroke-linecap="round" fill="none"/><path d="M14.1 130.8h0M20.3 156.4h0M38.3 139.3h0M111.9 27.5h0M191.5 159.3h0M6.3 167.8h0M35.9 43.7h0M74.1 21.1h0M29.2 122.1h0M77.3 119.7h0M51.9 154.2h0M175.9 123.2h0M67.9 129.5h0M30.2 140.1h0M147.9 49.5h0M174.0 79.0h0M147.6 21.3h0M186.6 74.3h0M36.2 88.0h0M188.1 138.0h0M18.3 28.6h0" stroke="#072214" stroke-width="6" stroke-linecap="round" fill="none"/><path d="M173.4 86.9h0M23.3 50.2h0M91.6 170.2h0M43.8 1.7h0M97.4 3.3h0M174.9 41.2h0M168.0 169.9h0M110.6 23.2h0M39.7 153.3h0M147.7 167.3h0M143.4 119.6h0M111.7 4.2h0M114.8 95.7h0M31.9 66.5h0M94.9 107.3h0M81.4 13.5h0M190.6 24.4h0M170.5 131.4h0" stroke="#156634" stroke-width="4.2" stroke-linecap="round" fill="none"/><path d="M145.6 154.4h0M90.0 173.5h0M40.1 102.2h0M160.5 160.3h0M32.1 63.9h0M25.1 86.4h0M70.9 16.5h0M58.4 94.2h0M77.3 12.6h0M8.5 22.1h0M124.9 96.8h0M88.4 177.1h0M51.8 117.6h0M172.1 49.8h0" stroke="#1a7d45" stroke-width="4.2" stroke-linecap="round" fill="none"/><path d="M178.9 8.6h0M9.4 152.3h0M156.4 179.7h0M119.1 109.0h0M66.2 86.0h0M42.7 89.3h0M161.5 21.0h0M126.3 93.3h0M163.7 123.0h0M57.3 13.1h0M164.1 179.3h0M104.8 18.5h0M86.7 130.6h0M149.4 66.8h0M59.5 159.9h0M18.0 52.2h0M158.2 187.8h0M20.4 13.6h0M68.4 59.4h0M32.0 182.7h0M162.4 149.9h0M61.6 147.9h0M149.1 74.2h0" stroke="#156634" stroke-width="6" stroke-linecap="round" fill="none"/><path d="M187.6 62.2h0M33.8 173.7h0M168.6 122.2h0M182.9 6.2h0M29.1 16.3h0M72.7 118.2h0M82.2 173.8h0M107.4 29.4h0M101.1 34.1h0M165.5 54.2h0M183.0 74.2h0M50.7 116.9h0M125.4 175.6h0M100.8 64.0h0M162.8 32.7h0" stroke="#051a12" stroke-width="4.2" stroke-linecap="round" fill="none"/><path d="M9.1 183.7h0M137.7 177.3h0M94.3 176.7h0M20.2 94.8h0M64.6 55.3h0M175.8 162.4h0M26.6 61.3h0M82.1 16.3h0M33.4 28.1h0M33.1 112.4h0M180.9 176.7h0M135.6 154.3h0M79.3 184.5h0M184.1 159.3h0M22.1 65.6h0M44.9 22.5h0M103.7 17.4h0M95.1 0.6h0M138.0 9.3h0M120.0 164.1h0M52.3 192.8h0" stroke="#1c8448" stroke-width="6" stroke-linecap="round" fill="none"/><path d="M2.7 180.8h0M45.0 107.8h0M134.1 152.0h0M115.1 158.5h0M91.6 99.5h0M145.8 30.8h0M178.2 121.6h0M189.1 40.1h0M92.6 125.6h0M119.7 52.1h0M103.0 1.9h0M82.3 77.0h0M160.0 83.4h0M17.7 23.7h0" stroke="#1f8c4e" stroke-width="8" stroke-linecap="round" fill="none"/><path d="M97.9 170.6h0M89.8 98.1h0M82.7 107.9h0M145.6 125.5h0M158.9 146.4h0M47.1 57.3h0M34.3 26.1h0M127.9 147.5h0M127.1 175.3h0M101.7 15.8h0M117.1 28.2h0M143.8 162.8h0M107.1 19.5h0M156.9 37.4h0M114.7 91.5h0M14.7 87.8h0M118.4 84.2h0M64.4 143.6h0M30.1 102.3h0M86.1 167.1h0M135.7 143.5h0M111.1 87.6h0" stroke="#072214" stroke-width="8" stroke-linecap="round" fill="none"/><path d="M154.7 128.7h0M110.7 67.4h0M26.9 87.9h0M108.8 101.3h0M17.9 100.4h0M28.4 36.8h0M9.1 186.2h0M89.7 53.6h0M85.4 155.0h0M135.5 93.8h0M18.6 66.2h0M74.0 35.8h0M192.4 31.8h0M40.5 113.7h0M69.6 139.3h0M190.6 109.7h0M8.2 46.2h0M182.6 191.4h0M27.1 35.2h0M0.3 173.2h0" stroke="#051a12" stroke-width="6" stroke-linecap="round" fill="none"/><path d="M165.6 167.4h0M170.3 176.6h0M135.5 79.7h0M70.0 121.1h0M56.2 45.3h0M51.9 79.6h0M133.3 27.8h0M76.2 118.4h0M127.5 153.2h0M115.4 124.4h0M71.3 2.5h0M125.3 21.5h0M84.0 20.1h0M180.2 10.1h0M142.7 176.8h0M95.9 80.5h0M166.3 138.6h0M186.7 85.9h0M70.1 160.7h0M161.7 46.6h0M89.1 17.1h0M166.7 6.9h0M55.6 162.1h0" stroke="#030b06" stroke-width="4.2" stroke-linecap="round" fill="none"/><path d="M132.5 94.4h0M172.1 156.6h0M34.6 173.9h0M131.4 147.7h0M24.6 132.7h0M72.7 143.1h0M92.7 63.9h0M112.3 7.1h0M18.1 137.3h0M51.0 29.0h0M139.3 91.4h0M142.1 118.2h0M113.2 5.5h0M88.3 71.8h0M170.2 156.1h0M13.1 116.0h0M157.1 13.3h0M135.5 177.2h0M94.5 68.7h0M189.8 105.9h0M101.6 153.6h0M23.2 195.0h0M7.7 72.1h0M104.8 127.3h0M111.2 89.2h0M171.3 38.1h0M45.6 47.7h0M76.6 29.6h0M12.5 53.8h0" stroke="#1a7d45" stroke-width="6" stroke-linecap="round" fill="none"/><path d="M173.9 150.2h0M113.4 101.4h0M95.8 30.9h0M122.1 99.1h0M115.2 23.7h0M93.1 137.2h0M182.0 27.3h0M127.0 67.9h0M89.6 60.4h0M13.9 181.8h0M158.3 68.1h0M89.2 22.5h0M38.5 26.9h0M19.3 114.9h0M42.8 146.7h0M96.4 144.6h0" stroke="#030b06" stroke-width="8" stroke-linecap="round" fill="none"/><path d="M176.4 161.1h0M190.7 21.8h0M179.7 134.6h0M36.8 158.5h0M79.3 35.9h0M152.9 118.3h0M68.6 174.9h0M142.2 138.4h0M65.2 86.4h0M13.7 178.0h0M186.8 117.4h0M170.4 37.2h0M189.5 31.3h0M96.8 53.9h0M164.7 110.2h0M43.3 20.2h0M27.7 11.6h0M72.2 164.1h0" stroke="#176f3c" stroke-width="4.2" stroke-linecap="round" fill="none"/><path d="M114.4 178.0h0M26.7 63.9h0M104.0 186.5h0M31.3 6.0h0M164.5 126.1h0M139.4 42.2h0M97.2 4.2h0M160.5 115.5h0M181.2 65.8h0M141.8 193.4h0M46.3 40.8h0M185.8 167.8h0M70.3 32.8h0M47.4 152.6h0M144.9 167.4h0M42.9 20.2h0M3.4 45.6h0M69.4 80.1h0M117.2 84.3h0M36.4 71.2h0M108.9 49.8h0" stroke="#072214" stroke-width="4.2" stroke-linecap="round" fill="none"/><path d="M129.0 146.3h0M68.7 84.9h0M14.3 49.7h0M92.1 3.2h0M192.9 62.2h0M43.8 134.9h0M44.2 117.9h0M153.1 55.3h0M87.4 148.0h0M32.2 17.5h0M79.5 52.7h0M94.8 133.9h0M127.7 21.7h0M122.6 73.7h0M143.3 20.8h0M68.4 117.5h0M0.2 29.9h0M105.0 148.4h0M56.2 78.8h0" stroke="#176f3c" stroke-width="6" stroke-linecap="round" fill="none"/><path d="M45.0 28.5h0M26.0 70.4h0M145.8 79.9h0M105.6 185.0h0M40.2 141.0h0M187.8 169.2h0M193.2 194.4h0M122.4 122.1h0M151.3 68.7h0M165.6 120.8h0M195.9 72.7h0M6.5 56.9h0M11.4 85.1h0M26.1 192.1h0" stroke="#051a12" stroke-width="8" stroke-linecap="round" fill="none"/><path d="M63.1 173.1h0M127.0 32.2h0M178.0 153.4h0M104.5 145.0h0M89.4 92.3h0M8.8 103.4h0M162.3 67.5h0M134.4 150.7h0M137.3 75.1h0M169.2 130.5h0M26.2 7.1h0M71.0 153.1h0M181.9 76.1h0M38.8 12.6h0M166.9 76.5h0M124.3 125.2h0M194.4 50.6h0M91.5 113.4h0M14.2 175.0h0M63.3 157.3h0" stroke="#1f8c4e" stroke-width="4.2" stroke-linecap="round" fill="none"/><path d="M95.2 80.7h0M99.2 137.1h0M189.5 5.0h0M27.6 172.3h0M165.7 133.7h0M72.6 25.7h0M60.8 27.2h0M60.3 10.2h0M182.0 179.5h0M69.8 153.0h0" stroke="#156634" stroke-width="8" stroke-linecap="round" fill="none"/><path d="M136.6 111.8h0M146.6 164.5h0M76.7 121.2h0M71.6 100.8h0M81.8 5.4h0M185.6 139.8h0M38.5 168.2h0M98.2 133.6h0M140.4 186.9h0M136.8 141.3h0M59.6 5.2h0M11.7 95.5h0M168.9 66.2h0M26.0 101.8h0M166.5 118.7h0M112.8 140.4h0M135.2 37.3h0M159.9 187.1h0M124.9 106.5h0M44.8 148.8h0M89.1 188.0h0M26.5 80.9h0M141.5 67.0h0" stroke="#176f3c" stroke-width="8" stroke-linecap="round" fill="none"/><path d="M31.1 55.5h0M195.7 138.4h0M69.5 12.3h0M41.9 159.7h0M161.7 178.2h0M53.2 173.9h0M164.5 170.0h0M86.7 95.4h0M111.2 17.3h0M159.6 92.0h0M89.6 180.5h0M2.6 156.6h0M34.8 12.8h0M0.5 130.8h0M55.4 48.6h0M6.2 11.1h0M177.8 24.8h0M184.7 126.5h0M117.9 179.8h0M114.3 53.9h0" stroke="#10307a" stroke-width="2.6" stroke-linecap="round" fill="none" opacity="0.85"/><path d="M69.0 30.3h0M174.4 76.4h0M108.0 135.6h0M160.4 74.0h0M72.3 75.1h0M23.9 100.4h0M88.0 172.4h0M97.7 37.8h0M46.2 189.0h0M154.7 46.5h0M126.4 58.7h0M20.4 126.3h0M126.5 90.3h0M168.0 22.4h0M46.5 62.0h0M54.9 19.6h0M68.3 23.4h0M131.0 92.3h0M86.6 133.7h0M40.5 125.7h0M131.2 38.5h0M72.6 29.5h0M40.1 54.0h0M80.9 100.9h0M127.7 45.9h0M187.3 84.6h0" stroke="#143a9a" stroke-width="2.6" stroke-linecap="round" fill="none" opacity="0.85"/><path d="M127.3 175.1h0M181.0 153.2h0M93.6 70.3h0M71.7 132.1h0M79.3 188.5h0M172.8 32.0h0M165.1 179.4h0M42.0 7.0h0M33.3 170.5h0M148.5 133.4h0M59.6 189.4h0M167.5 7.7h0M2.9 88.0h0M177.9 164.5h0M178.7 42.1h0M181.7 114.4h0M119.0 150.5h0M10.4 138.0h0M99.2 83.0h0" stroke="#143a9a" stroke-width="3.8" stroke-linecap="round" fill="none" opacity="0.85"/><path d="M142.9 124.1h0M137.9 38.9h0M27.0 188.0h0M148.9 155.3h0M133.7 39.4h0M21.2 130.6h0M20.7 65.8h0M126.1 12.1h0M130.8 91.6h0M163.3 145.0h0M102.5 178.5h0M24.0 133.9h0M117.0 77.5h0M43.7 172.5h0M83.9 82.3h0M150.1 61.3h0M75.9 20.6h0M56.7 78.3h0M177.1 74.5h0M176.9 51.1h0M88.5 125.9h0" stroke="#10307a" stroke-width="3.8" stroke-linecap="round" fill="none" opacity="0.85"/><path d="M155.5 190.0h0M181.3 107.1h0M157.2 131.3h0M28.5 138.4h0M137.7 19.1h0M0.9 189.4h0M73.3 137.6h0M77.5 103.3h0M91.1 20.7h0M27.4 112.7h0M86.3 151.9h0M34.1 139.3h0M11.4 130.2h0M7.1 68.7h0M96.8 12.9h0M50.9 39.1h0M139.8 91.8h0M47.4 27.6h0M192.8 49.2h0M67.7 139.8h0M96.1 137.4h0" stroke="#143a9a" stroke-width="2.6" stroke-linecap="round" fill="none" opacity="0.85"/><path d="M165.0 116.1h0M64.2 49.5h0M189.7 46.4h0M24.6 14.3h0M68.8 91.1h0M128.4 149.8h0M162.2 191.4h0M70.0 161.3h0M181.0 79.0h0M0.2 97.4h0M22.7 127.9h0M115.1 70.6h0M106.3 173.8h0M153.9 18.7h0M189.9 62.8h0M32.8 24.2h0M131.9 59.1h0M95.6 56.9h0M134.4 188.6h0M120.6 51.1h0M65.9 46.0h0M105.9 9.1h0M51.1 121.0h0M188.9 22.7h0M61.2 60.1h0" stroke="#10307a" stroke-width="2.6" stroke-linecap="round" fill="none" opacity="0.85"/><path d="M160.1 32.4h0M51.3 33.6h0M27.1 56.4h0M144.7 182.4h0M189.5 194.7h0M160.4 161.8h0M62.8 169.0h0M117.5 188.9h0M159.2 83.2h0M195.6 182.4h0M77.7 79.4h0M182.9 48.1h0M69.8 24.5h0M114.7 108.8h0M0.0 136.6h0M116.3 24.8h0M78.6 33.6h0M190.6 154.2h0M130.8 145.3h0M98.1 171.8h0M188.6 65.0h0M11.7 41.0h0M27.1 165.6h0M69.3 181.7h0M131.0 176.2h0" stroke="#10307a" stroke-width="3.8" stroke-linecap="round" fill="none" opacity="0.85"/><path d="M116.7 29.6h0M128.3 176.9h0M23.3 129.6h0M65.9 143.2h0M97.8 72.0h0M178.4 79.4h0M5.7 34.4h0M133.8 63.2h0M57.9 14.1h0M57.4 44.2h0M152.8 28.7h0M11.8 164.8h0M34.0 99.1h0M14.3 166.5h0M167.2 19.9h0" stroke="#143a9a" stroke-width="3.8" stroke-linecap="round" fill="none" opacity="0.85"/><path d="M192.7 9.5h0M82.2 32.1h0M52.0 105.3h0M96.8 60.7h0M91.3 140.0h0M73.3 8.1h0M47.9 128.1h0M158.8 74.5h0M182.4 158.7h0M114.9 158.2h0M138.8 67.2h0M138.6 167.9h0M87.1 158.8h0M100.3 35.2h0M25.3 46.7h0M53.2 112.2h0M88.2 83.0h0M76.7 62.9h0M146.0 19.5h0M77.9 185.2h0M35.0 49.8h0M85.8 111.2h0M114.9 88.3h0" stroke="#143a9a" stroke-width="2.6" stroke-linecap="round" fill="none" opacity="0.85"/><path d="M159.5 83.0h0M186.0 176.7h0M22.2 0.5h0M17.3 162.7h0M79.9 83.4h0M85.6 146.5h0M81.1 149.1h0M153.5 79.1h0M123.8 42.1h0M167.7 17.8h0M168.3 150.1h0M145.1 7.9h0M130.7 103.4h0M153.5 137.0h0M122.5 151.9h0M11.1 141.1h0M56.7 158.8h0M63.0 140.7h0M47.0 125.6h0M140.5 108.8h0M145.6 100.2h0M109.2 192.7h0M56.0 107.2h0M150.8 73.8h0M20.5 22.5h0" stroke="#10307a" stroke-width="3.8" stroke-linecap="round" fill="none" opacity="0.85"/><path d="M111.5 61.2h0M184.1 194.9h0M60.7 34.6h0M22.1 118.3h0M109.6 173.1h0M141.1 42.2h0M60.9 165.4h0M141.7 7.5h0M97.9 148.4h0M63.3 103.8h0M70.2 10.3h0M61.2 5.7h0M2.1 28.7h0M192.5 72.7h0M42.1 137.8h0M110.7 160.1h0M113.3 189.9h0M139.3 180.0h0" stroke="#143a9a" stroke-width="3.8" stroke-linecap="round" fill="none" opacity="0.85"/><path d="M152.7 98.6h0M146.7 19.2h0M106.6 149.9h0M5.8 63.2h0M90.0 149.7h0M72.1 96.8h0M178.7 64.1h0M111.0 85.1h0M127.9 81.0h0M8.1 6.6h0M96.7 57.2h0M156.4 59.6h0M76.3 181.9h0M172.3 3.4h0M74.8 63.8h0M65.2 181.7h0M92.7 80.2h0M70.4 194.9h0M149.3 143.6h0M112.4 131.0h0" stroke="#10307a" stroke-width="2.6" stroke-linecap="round" fill="none" opacity="0.85"/><polyline points="126.0,-0.8 144.2,27.3 169.1,57.2 195.9,87.0" fill="none" stroke="#020604" stroke-width="9.5" stroke-linecap="round" opacity="0.95"/><polyline points="97.8,12.4 101.1,19.1" fill="none" stroke="#020604" stroke-width="12.0" stroke-linecap="round" opacity="0.85"/><polyline points="94.5,10.8 111.1,20.7" fill="none" stroke="#020604" stroke-width="7.0" stroke-linecap="round" opacity="0.80"/><polyline points="14.9,156.6 24.9,173.2 33.2,195.6" fill="none" stroke="#020604" stroke-width="6.0" stroke-linecap="round" opacity="0.80"/><polyline points="0.0,160.0 14.9,156.6 53.0,143.4 64.6,120.2 77.9,110.2" fill="none" stroke="#020604" stroke-width="3.0" stroke-linecap="round" opacity="0.70"/><polyline points="111.1,195.6 114.4,184.8" fill="none" stroke="#020604" stroke-width="5.0" stroke-linecap="round" opacity="0.70"/><polyline points="0.0,-0.8 0.0,60.5" fill="none" stroke="#020604" stroke-width="6.0" stroke-linecap="round" opacity="0.80"/><ellipse cx="84.5" cy="5.0" rx="8.3" ry="5.0" fill="#f5160f"/><ellipse cx="165.8" cy="9.9" rx="3.6" ry="3.6" fill="#f5160f"/><ellipse cx="174.0" cy="29.8" rx="4.6" ry="4.1" fill="#f5160f"/><ellipse cx="12.4" cy="43.9" rx="3.6" ry="3.6" fill="#f5160f"/><ellipse cx="64.6" cy="48.1" rx="7.5" ry="5.0" fill="#f5160f"/><ellipse cx="177.4" cy="49.7" rx="5.8" ry="5.0" fill="#f5160f"/><ellipse cx="134.3" cy="58.0" rx="5.3" ry="5.3" fill="#f5160f"/><ellipse cx="25.7" cy="71.3" rx="6.6" ry="6.6" fill="#f5160f"/><ellipse cx="54.7" cy="84.5" rx="4.6" ry="4.6" fill="#f5160f"/><ellipse cx="166.6" cy="82.0" rx="5.0" ry="5.0" fill="#f5160f"/><ellipse cx="101.1" cy="90.3" rx="4.6" ry="4.6" fill="#f5160f"/><ellipse cx="126.0" cy="92.0" rx="7.5" ry="7.5" fill="#f5160f"/><ellipse cx="174.0" cy="96.1" rx="3.6" ry="3.6" fill="#f5160f"/><ellipse cx="4.1" cy="120.2" rx="4.1" ry="4.1" fill="#f5160f"/><ellipse cx="35.6" cy="123.5" rx="4.6" ry="4.6" fill="#f5160f"/><ellipse cx="88.7" cy="117.7" rx="4.1" ry="3.6" fill="#f5160f"/><ellipse cx="117.7" cy="127.6" rx="4.1" ry="4.1" fill="#f5160f"/><ellipse cx="124.3" cy="135.9" rx="5.0" ry="5.0" fill="#f5160f"/><ellipse cx="70.4" cy="134.3" rx="3.6" ry="3.6" fill="#f5160f"/><ellipse cx="189.8" cy="130.1" rx="5.8" ry="4.1" fill="#f5160f"/><ellipse cx="155.5" cy="140.9" rx="3.0" ry="2.7" fill="#f5160f"/><ellipse cx="179.8" cy="148.4" rx="4.1" ry="4.1" fill="#f5160f"/><ellipse cx="81.2" cy="152.5" rx="5.8" ry="7.5" fill="#f5160f"/><ellipse cx="106.9" cy="163.3" rx="5.0" ry="6.6" fill="#f5160f"/><ellipse cx="63.0" cy="180.7" rx="5.8" ry="5.3" fill="#f5160f"/><ellipse cx="8.3" cy="174.0" rx="3.0" ry="3.0" fill="#f5160f"/><ellipse cx="192.3" cy="177.4" rx="4.1" ry="4.6" fill="#f5160f"/><ellipse cx="24.9" cy="0.8" rx="2.5" ry="1.7" fill="#f5160f"/></g></g></g>
<text x="854.2" y="461.3" font-size="18.5" textLength="60.6" lengthAdjust="spacingAndGlyphs" fill="#fff" stroke="#fff">200um</text>
<line x1="864.7" y1="472.3" x2="909.8" y2="472.3" stroke="#fff" stroke-width="2.2"/>
<text x="672.5" y="515" font-size="23"><tspan fill="#e6007e" stroke="#e6007e">I</tspan><tspan fill="#1a1a1a" stroke="#1a1a1a"> / </tspan><tspan fill="#1f9a45" stroke="#1f9a45">II</tspan><tspan fill="#1a1a1a" stroke="#1a1a1a"> / </tspan><tspan fill="#199fe0" stroke="#199fe0">DAPI</tspan></text>
<line x1="1020.6" y1="71.7" x2="1020.6" y2="265.0" stroke="#000" stroke-width="2"/>
<line x1="1012.5" y1="72.7" x2="1020.6" y2="72.7" stroke="#000" stroke-width="2"/>
<text x="1005.5" y="84.3" font-size="22.6" text-anchor="end" fill="#000" stroke="#000">2500</text>
<line x1="1012.5" y1="110.9" x2="1020.6" y2="110.9" stroke="#000" stroke-width="2"/>
<text x="1005.5" y="121.9" font-size="22.6" text-anchor="end" fill="#000" stroke="#000">2000</text>
<line x1="1012.5" y1="149.2" x2="1020.6" y2="149.2" stroke="#000" stroke-width="2"/>
<text x="1005.5" y="159.2" font-size="22.6" text-anchor="end" fill="#000" stroke="#000">1500</text>
<line x1="1012.5" y1="187.6" x2="1020.6" y2="187.6" stroke="#000" stroke-width="2"/>
<text x="1005.5" y="196.5" font-size="22.6" text-anchor="end" fill="#000" stroke="#000">1000</text>
<line x1="1012.5" y1="226.0" x2="1020.6" y2="226.0" stroke="#000" stroke-width="2"/>
<text x="1000.2" y="233.6" font-size="22.6" text-anchor="end" fill="#000" stroke="#000">500</text>
<line x1="1012.5" y1="264.0" x2="1020.6" y2="264.0" stroke="#000" stroke-width="2"/>
<text x="1002.4" y="271.0" font-size="22.6" text-anchor="end" fill="#000" stroke="#000">0</text>
<line x1="1012.5" y1="264.0" x2="1135.0" y2="264.0" stroke="#000" stroke-width="2"/>
<text transform="translate(943.5,165.9) rotate(-90)" font-size="23.5" text-anchor="middle" textLength="181" lengthAdjust="spacingAndGlyphs" fill="#000" stroke="#000">Fiber area(um<tspan font-size="13" dy="-8">2</tspan><tspan dy="8">)</tspan></text>
<rect x="1037.4" y="162.4" width="31.6" height="101.6" fill="#000"/>
<path d="M1087.5,264.0 V127.8 H1117.0 V264.0" fill="#fff" stroke="#ee3b3b" stroke-width="2"/>
<line x1="1053.4" y1="162.4" x2="1053.4" y2="157.5" stroke="#000" stroke-width="2"/>
<line x1="1047.4" y1="157.5" x2="1059.4" y2="157.5" stroke="#000" stroke-width="2"/>
<line x1="1102.1" y1="126.8" x2="1102.1" y2="111.8" stroke="#000" stroke-width="2"/>
<line x1="1095.1" y1="111.8" x2="1109.1" y2="111.8" stroke="#000" stroke-width="2"/>
<circle cx="1040.5" cy="166.0" r="3.9" fill="#4f9af0"/>
<circle cx="1053.4" cy="158.3" r="3.9" fill="#4f9af0"/>
<circle cx="1065.2" cy="161.3" r="3.9" fill="#4f9af0"/>
<circle cx="1102.1" cy="109.3" r="4.8" fill="#000"/>
<circle cx="1089.8" cy="135.0" r="4.8" fill="#000"/>
<circle cx="1114.5" cy="131.8" r="4.8" fill="#000"/>
<line x1="1055.6" y1="99.4" x2="1100.8" y2="99.4" stroke="#000" stroke-width="2"/>
<text x="1080.2" y="106.9" font-size="32" text-anchor="middle" fill="#000" stroke="#000">**</text>
<line x1="1021.6" y1="298.2" x2="1021.6" y2="485.2" stroke="#000" stroke-width="2"/>
<line x1="1014.2" y1="299.2" x2="1021.6" y2="299.2" stroke="#000" stroke-width="2"/>
<text x="1011.4" y="309.1" font-size="22.6" text-anchor="end" fill="#000" stroke="#000">100</text>
<line x1="1014.2" y1="336.1" x2="1021.6" y2="336.1" stroke="#000" stroke-width="2"/>
<text x="1006.3" y="340.2" font-size="22.6" text-anchor="end" fill="#000" stroke="#000">80</text>
<line x1="1014.2" y1="373.0" x2="1021.6" y2="373.0" stroke="#000" stroke-width="2"/>
<text x="1006.3" y="377.7" font-size="22.6" text-anchor="end" fill="#000" stroke="#000">60</text>
<line x1="1014.2" y1="410.2" x2="1021.6" y2="410.2" stroke="#000" stroke-width="2"/>
<text x="1006.3" y="416.3" font-size="22.6" text-anchor="end" fill="#000" stroke="#000">40</text>
<line x1="1014.2" y1="447.2" x2="1021.6" y2="447.2" stroke="#000" stroke-width="2"/>
<text x="1006.3" y="454.0" font-size="22.6" text-anchor="end" fill="#000" stroke="#000">20</text>
<line x1="1014.2" y1="484.2" x2="1021.6" y2="484.2" stroke="#000" stroke-width="2"/>
<text x="1002.8" y="491.9" font-size="22.6" text-anchor="end" fill="#000" stroke="#000">0</text>
<line x1="1014.2" y1="484.2" x2="1234.5" y2="484.2" stroke="#000" stroke-width="2"/>
<text transform="translate(962.9,390.7) rotate(-90)" font-size="22.8" text-anchor="middle" fill="#000" stroke="#000">Average CSA(%)</text>
<rect x="1036.1" y="449.4" width="27.4" height="34.8" fill="#000"/>
<path d="M1079.3,484.2 V466.0 H1104.7 V484.2" fill="#fff" stroke="#ee3b3b" stroke-width="2"/>
<rect x="1149.5" y="335.7" width="27.4" height="148.5" fill="#000"/>
<path d="M1193.0,484.2 V320.3 H1218.1 V484.2" fill="#fff" stroke="#ee3b3b" stroke-width="2"/>
<text x="1073.4" y="513.2" font-size="23" text-anchor="middle" fill="#000" stroke="#000">I</text>
<text x="1187.0" y="513.2" font-size="23" text-anchor="middle" fill="#000" stroke="#000">II</text>
<circle cx="1039.5" cy="452.5" r="3.9" fill="#4f9af0"/>
<circle cx="1049.8" cy="448.0" r="3.9" fill="#4f9af0"/>
<circle cx="1060.2" cy="450.5" r="3.9" fill="#4f9af0"/>
<circle cx="1153.0" cy="336.5" r="3.9" fill="#4f9af0"/>
<circle cx="1163.2" cy="332.5" r="3.9" fill="#4f9af0"/>
<circle cx="1173.5" cy="335.5" r="3.9" fill="#4f9af0"/>
<circle cx="1081.7" cy="465.5" r="4.8" fill="#000"/>
<circle cx="1092.0" cy="465.0" r="4.8" fill="#000"/>
<circle cx="1102.4" cy="465.5" r="4.8" fill="#000"/>
<circle cx="1195.5" cy="319.5" r="4.8" fill="#000"/>
<circle cx="1205.5" cy="318.5" r="4.8" fill="#000"/>
<circle cx="1215.7" cy="319.5" r="4.8" fill="#000"/>
<line x1="1052.3" y1="437.0" x2="1097.5" y2="437.0" stroke="#000" stroke-width="2"/>
<text x="1074.0" y="442.0" font-size="32" text-anchor="middle" fill="#000" stroke="#000">**</text>
<line x1="1161.0" y1="306.4" x2="1205.7" y2="306.4" stroke="#000" stroke-width="2"/>
<text x="1184.3" y="312.9" font-size="32" text-anchor="middle" fill="#000" stroke="#000">**</text>

<text x="2.1" y="557.0" font-size="35" fill="#1a1a1a" stroke="#1a1a1a">C</text>
<line x1="74.2" y1="614.8" x2="74.2" y2="814.3" stroke="#000" stroke-width="2"/>
<line x1="66.1" y1="615.8" x2="74.2" y2="615.8" stroke="#000" stroke-width="2"/>
<text x="60.2" y="626.4" font-size="23" text-anchor="end" fill="#000" stroke="#000">1.5</text>
<line x1="66.1" y1="681.7" x2="74.2" y2="681.7" stroke="#000" stroke-width="2"/>
<text x="60.2" y="690.0" font-size="23" text-anchor="end" fill="#000" stroke="#000">1.0</text>
<line x1="66.1" y1="747.6" x2="74.2" y2="747.6" stroke="#000" stroke-width="2"/>
<text x="60.2" y="753.3" font-size="23" text-anchor="end" fill="#000" stroke="#000">0.5</text>
<line x1="66.1" y1="813.3" x2="74.2" y2="813.3" stroke="#000" stroke-width="2"/>
<text x="60.2" y="815.6" font-size="23" text-anchor="end" fill="#000" stroke="#000">0.0</text>
<line x1="66.1" y1="813.3" x2="301.3" y2="813.3" stroke="#000" stroke-width="2"/>
<line x1="127.0" y1="813.3" x2="127.0" y2="820.5" stroke="#000" stroke-width="2"/>
<line x1="247.5" y1="813.3" x2="247.5" y2="820.5" stroke="#000" stroke-width="2"/>
<text transform="translate(20.3,715.0) rotate(-90)" font-size="23.2" text-anchor="middle" fill="#000" stroke="#000">mRNA expression</text>
<text x="129.0" y="844.3" font-size="23" text-anchor="middle" fill="#000" stroke="#000">Fbxo32</text>
<text x="246.8" y="844.3" font-size="22.6" text-anchor="middle" fill="#000" stroke="#000">Murf1</text>
<rect x="90.0" y="681.2" width="29.3" height="132.1" fill="#000"/>
<path d="M136.0,813.3 V746.7 H162.8 V813.3" fill="#fff" stroke="#ee3b3b" stroke-width="2"/>
<rect x="210.5" y="679.2" width="29.5" height="134.1" fill="#000"/>
<path d="M256.5,813.3 V766.0 H283.5 V813.3" fill="#fff" stroke="#ee3b3b" stroke-width="2"/>
<line x1="104.5" y1="681.2" x2="104.5" y2="657.0" stroke="#000" stroke-width="2"/>
<line x1="98.0" y1="657.0" x2="111.0" y2="657.0" stroke="#000" stroke-width="2"/>
<line x1="149.5" y1="745.7" x2="149.5" y2="733.7" stroke="#000" stroke-width="2"/>
<line x1="142.5" y1="733.7" x2="156.5" y2="733.7" stroke="#000" stroke-width="2"/>
<line x1="225.0" y1="679.2" x2="225.0" y2="662.5" stroke="#000" stroke-width="2"/>
<line x1="218.0" y1="662.5" x2="232.0" y2="662.5" stroke="#000" stroke-width="2"/>
<line x1="270.0" y1="765.0" x2="270.0" y2="748.7" stroke="#000" stroke-width="2"/>
<line x1="263.0" y1="748.7" x2="277.0" y2="748.7" stroke="#000" stroke-width="2"/>
<circle cx="104.5" cy="657.0" r="4" fill="#4f9af0"/>
<circle cx="104.5" cy="682.5" r="4" fill="#4f9af0"/>
<circle cx="104.5" cy="703.3" r="4" fill="#4f9af0"/>
<circle cx="225.0" cy="664.5" r="4" fill="#4f9af0"/>
<circle cx="225.0" cy="673.8" r="4" fill="#4f9af0"/>
<circle cx="225.0" cy="697.0" r="4" fill="#4f9af0"/>
<circle cx="149.5" cy="733.0" r="5" fill="#000"/>
<circle cx="138.8" cy="754.5" r="5" fill="#000"/>
<circle cx="161.3" cy="746.8" r="5" fill="#000"/>
<circle cx="270.0" cy="747.5" r="5" fill="#000"/>
<circle cx="259.3" cy="775.5" r="5" fill="#000"/>
<circle cx="281.8" cy="768.0" r="5" fill="#000"/>
<line x1="100.5" y1="646.2" x2="145.8" y2="646.2" stroke="#000" stroke-width="2"/>
<text x="125.0" y="653.2" font-size="32" text-anchor="middle" fill="#000" stroke="#000">**</text>
<line x1="223.0" y1="651.2" x2="268.0" y2="651.2" stroke="#000" stroke-width="2"/>
<text x="247.0" y="658.2" font-size="32" text-anchor="middle" fill="#000" stroke="#000">**</text>

<text x="300.7" y="556.7" font-size="35" fill="#1a1a1a" stroke="#1a1a1a">D</text>
<text x="372.2" y="589.0" font-size="23" fill="#000" stroke="#000">ChIP-seq</text>
<text x="505.2" y="589.0" font-size="23" fill="#000" stroke="#000">DEGs</text>
<defs><clipPath id="vA"><circle cx="431" cy="681" r="80.5"/></clipPath><clipPath id="vB"><circle cx="513" cy="681" r="81"/></clipPath></defs>
<circle cx="431" cy="681" r="80.5" fill="#efc37c"/><circle cx="513" cy="681" r="81" fill="#98d4ea"/><circle cx="513" cy="681" r="81" fill="#96c7c8" clip-path="url(#vA)"/>
<circle cx="473.5" cy="751.3" r="81" fill="#ec7c82"/><circle cx="473.5" cy="751.3" r="81" fill="#e86b5c" clip-path="url(#vA)"/><circle cx="473.5" cy="751.3" r="81" fill="#ce6c7c" clip-path="url(#vB)"/>
<g clip-path="url(#vA)"><circle cx="473.5" cy="751.3" r="81" fill="#cd696e" clip-path="url(#vB)"/></g>
<text x="398.0" y="669.0" font-size="22" text-anchor="middle" fill="#000" stroke="#000">5527</text>
<text x="472.7" y="657.0" font-size="22" text-anchor="middle" fill="#000" stroke="#000">34</text>
<text x="550.0" y="669.0" font-size="22" text-anchor="middle" fill="#000" stroke="#000">111</text>
<text x="473.3" y="715.3" font-size="22" text-anchor="middle" fill="#000" stroke="#000">23</text>
<text x="425.8" y="738.0" font-size="22" text-anchor="middle" fill="#000" stroke="#000">0</text>
<text x="525.9" y="738.0" font-size="22" text-anchor="middle" fill="#000" stroke="#000">0</text>
<text x="474.7" y="804.0" font-size="22" text-anchor="middle" fill="#000" stroke="#000">0</text>
<text x="473.5" y="856.7" font-size="23" text-anchor="middle" fill="#000" stroke="#000">Muscle targets</text>
<path d="M494,706 H607 V701.5 L615.5,708.5 L607,715.5 V711 H494 Z" fill="#0b6fba"/>
<text x="792.5" y="628.5" font-size="23" fill="#000" stroke="#000">Fold change</text>
<defs><linearGradient id="cb" x1="0" x2="1" y1="0" y2="0"><stop offset="0" stop-color="#8a5a22"/><stop offset="0.2" stop-color="#b08d5e"/><stop offset="0.42" stop-color="#dccbb0"/><stop offset="0.55" stop-color="#f3f0e6"/><stop offset="0.68" stop-color="#a9c6bd"/><stop offset="0.85" stop-color="#4a8f84"/><stop offset="1" stop-color="#0b695f"/></linearGradient></defs>
<rect x="935.2" y="622.2" width="173.0" height="11.6" fill="url(#cb)"/>
<text transform="translate(940.2,616.0) rotate(90)" font-size="22.5" text-anchor="end" fill="#000" stroke="#000">−10</text>
<text transform="translate(962.5,616.0) rotate(90)" font-size="22.5" text-anchor="end" fill="#000" stroke="#000">−8</text>
<text transform="translate(985.0,616.0) rotate(90)" font-size="22.5" text-anchor="end" fill="#000" stroke="#000">−6</text>
<text transform="translate(1006.7,616.0) rotate(90)" font-size="22.5" text-anchor="end" fill="#000" stroke="#000">−4</text>
<text transform="translate(1028.8,616.0) rotate(90)" font-size="22.5" text-anchor="end" fill="#000" stroke="#000">−2</text>
<text transform="translate(1050.8,616.0) rotate(90)" font-size="22.5" text-anchor="end" fill="#000" stroke="#000">0</text>
<text transform="translate(1073.1,616.0) rotate(90)" font-size="22.5" text-anchor="end" fill="#000" stroke="#000">2</text>
<text transform="translate(1095.1,616.0) rotate(90)" font-size="22.5" text-anchor="end" fill="#000" stroke="#000">4</text>
<rect x="645.7" y="645.2" width="24.0" height="138.7" fill="#8a5523"/>
<text transform="translate(663.9,793.0) rotate(-90)" font-size="22" text-anchor="end" fill="#e8262a" stroke="#e8262a">DKK3</text>
<rect x="672.6" y="645.2" width="24.0" height="138.7" fill="#a0713a"/>
<text transform="translate(690.8,793.0) rotate(-90)" font-size="22" text-anchor="end" fill="#000" stroke="#000">BARX2</text>
<rect x="699.6" y="645.2" width="24.0" height="138.7" fill="#c2a684"/>
<text transform="translate(717.8,793.0) rotate(-90)" font-size="22" text-anchor="end" fill="#000" stroke="#000">THBS1</text>
<rect x="726.5" y="645.2" width="24.0" height="138.7" fill="#d8c3a8"/>
<text transform="translate(744.7,793.0) rotate(-90)" font-size="22" text-anchor="end" fill="#000" stroke="#000">ABLIM1</text>
<rect x="753.4" y="645.2" width="24.0" height="138.7" fill="#e8dfd2"/>
<text transform="translate(771.6,793.0) rotate(-90)" font-size="22" text-anchor="end" fill="#000" stroke="#000">COL11A1</text>
<rect x="780.4" y="645.2" width="24.0" height="138.7" fill="#e8dfd0"/>
<text transform="translate(798.6,793.0) rotate(-90)" font-size="22" text-anchor="end" fill="#000" stroke="#000">LEPR</text>
<rect x="807.3" y="645.2" width="24.0" height="138.7" fill="#ebe3d5"/>
<text transform="translate(825.5,793.0) rotate(-90)" font-size="22" text-anchor="end" fill="#000" stroke="#000">SLC4A3</text>
<rect x="834.2" y="645.2" width="24.0" height="138.7" fill="#efece0"/>
<text transform="translate(852.4,793.0) rotate(-90)" font-size="22" text-anchor="end" fill="#000" stroke="#000">CASQ2</text>
<rect x="861.1" y="645.2" width="24.0" height="138.7" fill="#efece0"/>
<text transform="translate(879.3,793.0) rotate(-90)" font-size="22" text-anchor="end" fill="#000" stroke="#000">DKK2</text>
<rect x="888.1" y="645.2" width="24.0" height="138.7" fill="#f0ede0"/>
<text transform="translate(906.3,793.0) rotate(-90)" font-size="22" text-anchor="end" fill="#000" stroke="#000">FBLN1</text>
<rect x="915.0" y="645.2" width="24.0" height="138.7" fill="#dfe3dc"/>
<text transform="translate(933.2,793.0) rotate(-90)" font-size="22" text-anchor="end" fill="#000" stroke="#000">ACSS1</text>
<rect x="941.9" y="645.2" width="24.0" height="138.7" fill="#e0e4dc"/>
<text transform="translate(960.1,793.0) rotate(-90)" font-size="22" text-anchor="end" fill="#000" stroke="#000">VWA8</text>
<rect x="968.9" y="645.2" width="24.0" height="138.7" fill="#e1e5dd"/>
<text transform="translate(987.1,793.0) rotate(-90)" font-size="22" text-anchor="end" fill="#000" stroke="#000">KLF15</text>
<rect x="995.8" y="645.2" width="24.0" height="138.7" fill="#e1e5dd"/>
<text transform="translate(1014.0,793.0) rotate(-90)" font-size="22" text-anchor="end" fill="#000" stroke="#000">FLNB</text>
<rect x="1022.7" y="645.2" width="24.0" height="138.7" fill="#4d8f84"/>
<text transform="translate(1040.9,793.0) rotate(-90)" font-size="22" text-anchor="end" fill="#000" stroke="#000">KCNN1</text>
<rect x="1049.7" y="645.2" width="24.0" height="138.7" fill="#4e9186"/>
<text transform="translate(1067.9,793.0) rotate(-90)" font-size="22" text-anchor="end" fill="#000" stroke="#000">FKBP5</text>
<rect x="1076.6" y="645.2" width="24.0" height="138.7" fill="#4f9186"/>
<text transform="translate(1094.8,793.0) rotate(-90)" font-size="22" text-anchor="end" fill="#000" stroke="#000">IGF2</text>
<rect x="1103.5" y="645.2" width="24.0" height="138.7" fill="#4a8c80"/>
<text transform="translate(1121.7,793.0) rotate(-90)" font-size="22" text-anchor="end" fill="#000" stroke="#000">DDIT4</text>
<rect x="1130.4" y="645.2" width="24.0" height="138.7" fill="#478a7f"/>
<text transform="translate(1148.6,793.0) rotate(-90)" font-size="22" text-anchor="end" fill="#000" stroke="#000">STAT1</text>
<rect x="1157.4" y="645.2" width="24.0" height="138.7" fill="#3f857a"/>
<text transform="translate(1175.6,793.0) rotate(-90)" font-size="22" text-anchor="end" fill="#000" stroke="#000">MX1</text>
<rect x="1184.3" y="645.2" width="24.0" height="138.7" fill="#176e65"/>
<text transform="translate(1202.5,793.0) rotate(-90)" font-size="22" text-anchor="end" fill="#000" stroke="#000">NR4A3</text>
<rect x="1211.2" y="645.2" width="24.0" height="138.7" fill="#176e65"/>
<text transform="translate(1229.4,793.0) rotate(-90)" font-size="22" text-anchor="end" fill="#000" stroke="#000">MICAL2</text>
<rect x="1238.2" y="645.2" width="24.0" height="138.7" fill="#0b695f"/>
<text transform="translate(1256.4,793.0) rotate(-90)" font-size="22" text-anchor="end" fill="#000" stroke="#000">MYH4</text>

<text x="3.8" y="929.6" font-size="35" fill="#1a1a1a" stroke="#1a1a1a">E</text>
<rect x="60.7" y="974.2" width="27.2" height="13.4" fill="#000"/>
<rect x="62.1" y="1009.2" width="24.7" height="12.2" fill="#fff" stroke="#e8392c" stroke-width="2.3"/>
<text x="97.0" y="987.3" font-size="22.5" fill="#1a1a1a" stroke="#1a1a1a">ZBED6<tspan font-size="13.5" dy="-7.7">f/f</tspan></text>
<text x="97.0" y="1024.4" font-size="22.5" fill="#1a1a1a" stroke="#1a1a1a">ZBED6<tspan font-size="13.5" dy="-7.7">-/-</tspan></text>
<line x1="73.4" y1="1048.4" x2="73.4" y2="1270.8" stroke="#000" stroke-width="2"/>
<line x1="64.6" y1="1049.4" x2="73.4" y2="1049.4" stroke="#000" stroke-width="2"/>
<text x="59.4" y="1062.2" font-size="23" text-anchor="end" fill="#000" stroke="#000">1.5</text>
<line x1="64.6" y1="1122.6" x2="73.4" y2="1122.6" stroke="#000" stroke-width="2"/>
<text x="62.2" y="1132.2" font-size="23" text-anchor="end" fill="#000" stroke="#000">1.0</text>
<line x1="64.6" y1="1196.4" x2="73.4" y2="1196.4" stroke="#000" stroke-width="2"/>
<text x="61.8" y="1199.7" font-size="23" text-anchor="end" fill="#000" stroke="#000">0.5</text>
<line x1="64.6" y1="1269.8" x2="73.4" y2="1269.8" stroke="#000" stroke-width="2"/>
<text x="64.0" y="1270.0" font-size="23" text-anchor="end" fill="#000" stroke="#000">0.0</text>
<line x1="64.6" y1="1269.8" x2="218.0" y2="1269.8" stroke="#000" stroke-width="2"/>
<line x1="145.6" y1="1269.8" x2="145.6" y2="1278.6" stroke="#000" stroke-width="2"/>
<text transform="translate(18.7,1161.8) rotate(-90)" font-size="22.8" text-anchor="middle" fill="#000" stroke="#000">DKK3 mRNA expression</text>
<text x="141.7" y="1301.3" font-size="22.6" text-anchor="middle" fill="#000" stroke="#000">GM</text>
<rect x="94.9" y="1119.8" width="39.7" height="150.0" fill="#000"/>
<path d="M157.4,1269.8 V1253.5 H194.2 V1269.8" fill="#fff" stroke="#ee3b3b" stroke-width="2"/>
<line x1="115.2" y1="1119.8" x2="115.2" y2="1101.4" stroke="#000" stroke-width="2"/>
<line x1="105.7" y1="1101.4" x2="124.7" y2="1101.4" stroke="#000" stroke-width="2"/>
<line x1="176.0" y1="1252.5" x2="176.0" y2="1246.0" stroke="#000" stroke-width="2"/>
<line x1="166.5" y1="1246.0" x2="185.5" y2="1246.0" stroke="#000" stroke-width="2"/>
<circle cx="115.2" cy="1099.2" r="3.9" fill="#4f9af0"/>
<circle cx="99.1" cy="1130.8" r="3.9" fill="#4f9af0"/>
<circle cx="131.4" cy="1126.1" r="3.9" fill="#4f9af0"/>
<circle cx="176.0" cy="1245.4" r="5.2" fill="#000"/>
<circle cx="160.2" cy="1255.6" r="5.2" fill="#000"/>
<circle cx="192.1" cy="1253.2" r="5.2" fill="#000"/>
<line x1="115.2" y1="1089.6" x2="174.4" y2="1089.6" stroke="#000" stroke-width="2"/>
<text x="145.0" y="1095.6" font-size="32" text-anchor="middle" fill="#000" stroke="#000">**</text>

<text x="332.0" y="929.6" font-size="35" fill="#1a1a1a" stroke="#1a1a1a">F</text>
<defs><filter id="gb" x="-50%" y="-500%" width="200%" height="1100%"><feGaussianBlur stdDeviation="2.6 2.6"/></filter><filter id="gb2" x="-50%" y="-500%" width="200%" height="1100%"><feGaussianBlur stdDeviation="2 1.5"/></filter></defs>
<rect x="406.5" y="1036.0" width="273.7" height="229.8" fill="#0a0608"/>
<rect x="426" y="1052" width="31" height="46" fill="#4a3844" opacity="0.3" filter="url(#gb)"/>
<rect x="425" y="1057.6" width="33" height="4" rx="2" fill="#e8dce6" opacity="0.13" filter="url(#gb2)"/>
<rect x="425" y="1065.7" width="33" height="4.5" rx="2" fill="#e8dce6" opacity="0.2" filter="url(#gb2)"/>
<rect x="425" y="1074.0" width="33" height="4" rx="2" fill="#e8dce6" opacity="0.18" filter="url(#gb2)"/>
<rect x="425" y="1080.0" width="33" height="4" rx="2" fill="#e8dce6" opacity="0.25" filter="url(#gb2)"/>
<rect x="425" y="1090.0" width="33" height="5.5" rx="2" fill="#e8dce6" opacity="0.62" filter="url(#gb2)"/>
<rect x="425" y="1120.8" width="33" height="5.5" rx="2" fill="#e8dce6" opacity="0.2" filter="url(#gb2)"/>
<rect x="425" y="1198.4" width="33" height="5" rx="2" fill="#e8dce6" opacity="0.32" filter="url(#gb2)"/>
<path d="M424,1154.5 Q441,1166 458,1154.5" fill="none" stroke="#e8dce6" stroke-width="4.5" opacity="0.15" filter="url(#gb2)"/>
<path d="M474.2,1186.0 Q490.7,1181.4 507.2,1186.0" fill="none" stroke="#7d747c" stroke-width="15" opacity="0.9" filter="url(#gb)"/>
<path d="M474.2,1186.0 Q490.7,1181.4 507.2,1186.0" fill="none" stroke="#ece7e9" stroke-width="8.2" filter="url(#gb2)"/>
<path d="M522.8,1184.6 Q539.3,1180.0 555.8,1184.6" fill="none" stroke="#7d747c" stroke-width="15" opacity="0.9" filter="url(#gb)"/>
<path d="M522.8,1184.6 Q539.3,1180.0 555.8,1184.6" fill="none" stroke="#ece7e9" stroke-width="8.2" filter="url(#gb2)"/>
<path d="M622.2,1179.6 Q638.7,1175.0 655.2,1179.6" fill="none" stroke="#7d747c" stroke-width="15" opacity="0.9" filter="url(#gb)"/>
<path d="M622.2,1179.6 Q638.7,1175.0 655.2,1179.6" fill="none" stroke="#ece7e9" stroke-width="8.2" filter="url(#gb2)"/>
<text transform="translate(474.8,1025.7) rotate(90)" font-size="22" text-anchor="end" textLength="56.5" lengthAdjust="spacingAndGlyphs" fill="#000" stroke="#000">Input</text>
<text transform="translate(522.3,1025.7) rotate(90)" font-size="22" text-anchor="end" textLength="22.3" lengthAdjust="spacingAndGlyphs" fill="#000" stroke="#000">IP</text>
<text transform="translate(578.3,1025.7) rotate(90)" font-size="22" text-anchor="end" textLength="39.2" lengthAdjust="spacingAndGlyphs" fill="#000" stroke="#000">IgG</text>
<text transform="translate(634.3,1025.7) rotate(90)" font-size="22" text-anchor="end" textLength="30.6" lengthAdjust="spacingAndGlyphs" fill="#000" stroke="#000">H3</text>
<text transform="translate(380.0,1106.8) rotate(90)" font-size="18.5" fill="#000" stroke="#000">DKK3</text>
<line x1="867.2" y1="975.7" x2="867.2" y2="1263.1" stroke="#000" stroke-width="2"/>
<line x1="854.9" y1="976.7" x2="867.2" y2="976.7" stroke="#000" stroke-width="2"/>
<text x="849.8" y="988.0" font-size="23" text-anchor="end" fill="#000" stroke="#000">5</text>
<line x1="854.9" y1="1033.8" x2="867.2" y2="1033.8" stroke="#000" stroke-width="2"/>
<text x="849.8" y="1042.5" font-size="23" text-anchor="end" fill="#000" stroke="#000">4</text>
<line x1="854.9" y1="1090.9" x2="867.2" y2="1090.9" stroke="#000" stroke-width="2"/>
<text x="849.8" y="1099.6" font-size="23" text-anchor="end" fill="#000" stroke="#000">3</text>
<line x1="854.9" y1="1148.1" x2="867.2" y2="1148.1" stroke="#000" stroke-width="2"/>
<text x="849.8" y="1156.8" font-size="23" text-anchor="end" fill="#000" stroke="#000">2</text>
<line x1="854.9" y1="1205.3" x2="867.2" y2="1205.3" stroke="#000" stroke-width="2"/>
<text x="849.8" y="1213.9" font-size="23" text-anchor="end" fill="#000" stroke="#000">1</text>
<line x1="854.9" y1="1262.1" x2="867.2" y2="1262.1" stroke="#000" stroke-width="2"/>
<text x="849.8" y="1270.8" font-size="23" text-anchor="end" fill="#000" stroke="#000">0</text>
<line x1="854.9" y1="1262.1" x2="1263.5" y2="1262.1" stroke="#000" stroke-width="2"/>
<line x1="958.7" y1="1262.1" x2="958.7" y2="1273.8" stroke="#000" stroke-width="2"/>
<line x1="1170.9" y1="1262.1" x2="1170.9" y2="1273.8" stroke="#000" stroke-width="2"/>
<text transform="translate(820.5,1110.9) rotate(-90)" font-size="22.3" text-anchor="middle" fill="#000" stroke="#000">Relative luciferase activity</text>
<text x="965.5" y="1301.3" font-size="23.2" text-anchor="middle" fill="#000" stroke="#000">DKK3-WT</text>
<text x="1167.0" y="1301.3" font-size="23.2" text-anchor="middle" fill="#000" stroke="#000">DKK3-MUT</text>
<rect x="895.3" y="1116.8" width="50.7" height="145.3" fill="#000"/>
<path d="M975.1,1262.1 V1049.4 H1023.8 V1262.1" fill="#fff" stroke="#000" stroke-width="2"/>
<rect x="1106.0" y="1216.0" width="50.7" height="46.1" fill="#000"/>
<path d="M1185.4,1262.1 V1207.4 H1234.5 V1262.1" fill="#fff" stroke="#000" stroke-width="2"/>
<line x1="920.3" y1="1116.8" x2="920.3" y2="1103.4" stroke="#000" stroke-width="2"/>
<line x1="907.8" y1="1103.4" x2="932.8" y2="1103.4" stroke="#000" stroke-width="2"/>
<line x1="999.9" y1="1048.4" x2="999.9" y2="1033.4" stroke="#f0141e" stroke-width="2"/>
<line x1="987.4" y1="1033.4" x2="1012.4" y2="1033.4" stroke="#f0141e" stroke-width="2"/>
<circle cx="920.3" cy="1110.3" r="5.3" fill="#4f9af0"/>
<circle cx="940.7" cy="1107.2" r="5.3" fill="#4f9af0"/>
<circle cx="920.3" cy="1129.1" r="5.3" fill="#4f9af0"/>
<circle cx="1110.6" cy="1216.0" r="5.3" fill="#4f9af0"/>
<circle cx="1130.9" cy="1213.7" r="5.3" fill="#4f9af0"/>
<circle cx="1150.9" cy="1216.0" r="5.3" fill="#4f9af0"/>
<circle cx="999.9" cy="1032.3" r="6.1" fill="#f0141e"/>
<circle cx="978.7" cy="1054.5" r="6.1" fill="#f0141e"/>
<circle cx="1020.2" cy="1051.5" r="6.1" fill="#f0141e"/>
<circle cx="1190.5" cy="1206.0" r="6.1" fill="#f0141e"/>
<circle cx="1210.5" cy="1204.4" r="6.1" fill="#f0141e"/>
<circle cx="1230.5" cy="1205.2" r="6.1" fill="#f0141e"/>
<rect x="1092.0" y="1042.0" width="34.5" height="12.5" fill="#000"/>
<rect x="1093.0" y="1075.3" width="32.5" height="10.9" fill="#fff" stroke="#000" stroke-width="2.2"/>
<text x="1138.2" y="1054.5" font-size="22" fill="#000" stroke="#000">ADV-EGFP</text>
<text x="1138.2" y="1090.0" font-size="22" fill="#000" stroke="#000">ADV-ZBED6</text>
<line x1="920.3" y1="985.7" x2="1116.3" y2="985.7" stroke="#000" stroke-width="2"/>
<text x="1021.5" y="985.2" font-size="28" text-anchor="middle" fill="#000" stroke="#000" letter-spacing="4.5">**</text>
<line x1="920.3" y1="1013.8" x2="998.3" y2="1013.8" stroke="#000" stroke-width="2"/>
<text x="964.5" y="1013.3" font-size="28" text-anchor="middle" fill="#000" stroke="#000" letter-spacing="4.5">**</text>
<line x1="1129.8" y1="1187.2" x2="1207.8" y2="1187.2" stroke="#000" stroke-width="2"/>
<text x="1172.8" y="1182.2" font-size="23" text-anchor="middle" fill="#000" stroke="#000">ns</text>

</svg>
</body></html>
